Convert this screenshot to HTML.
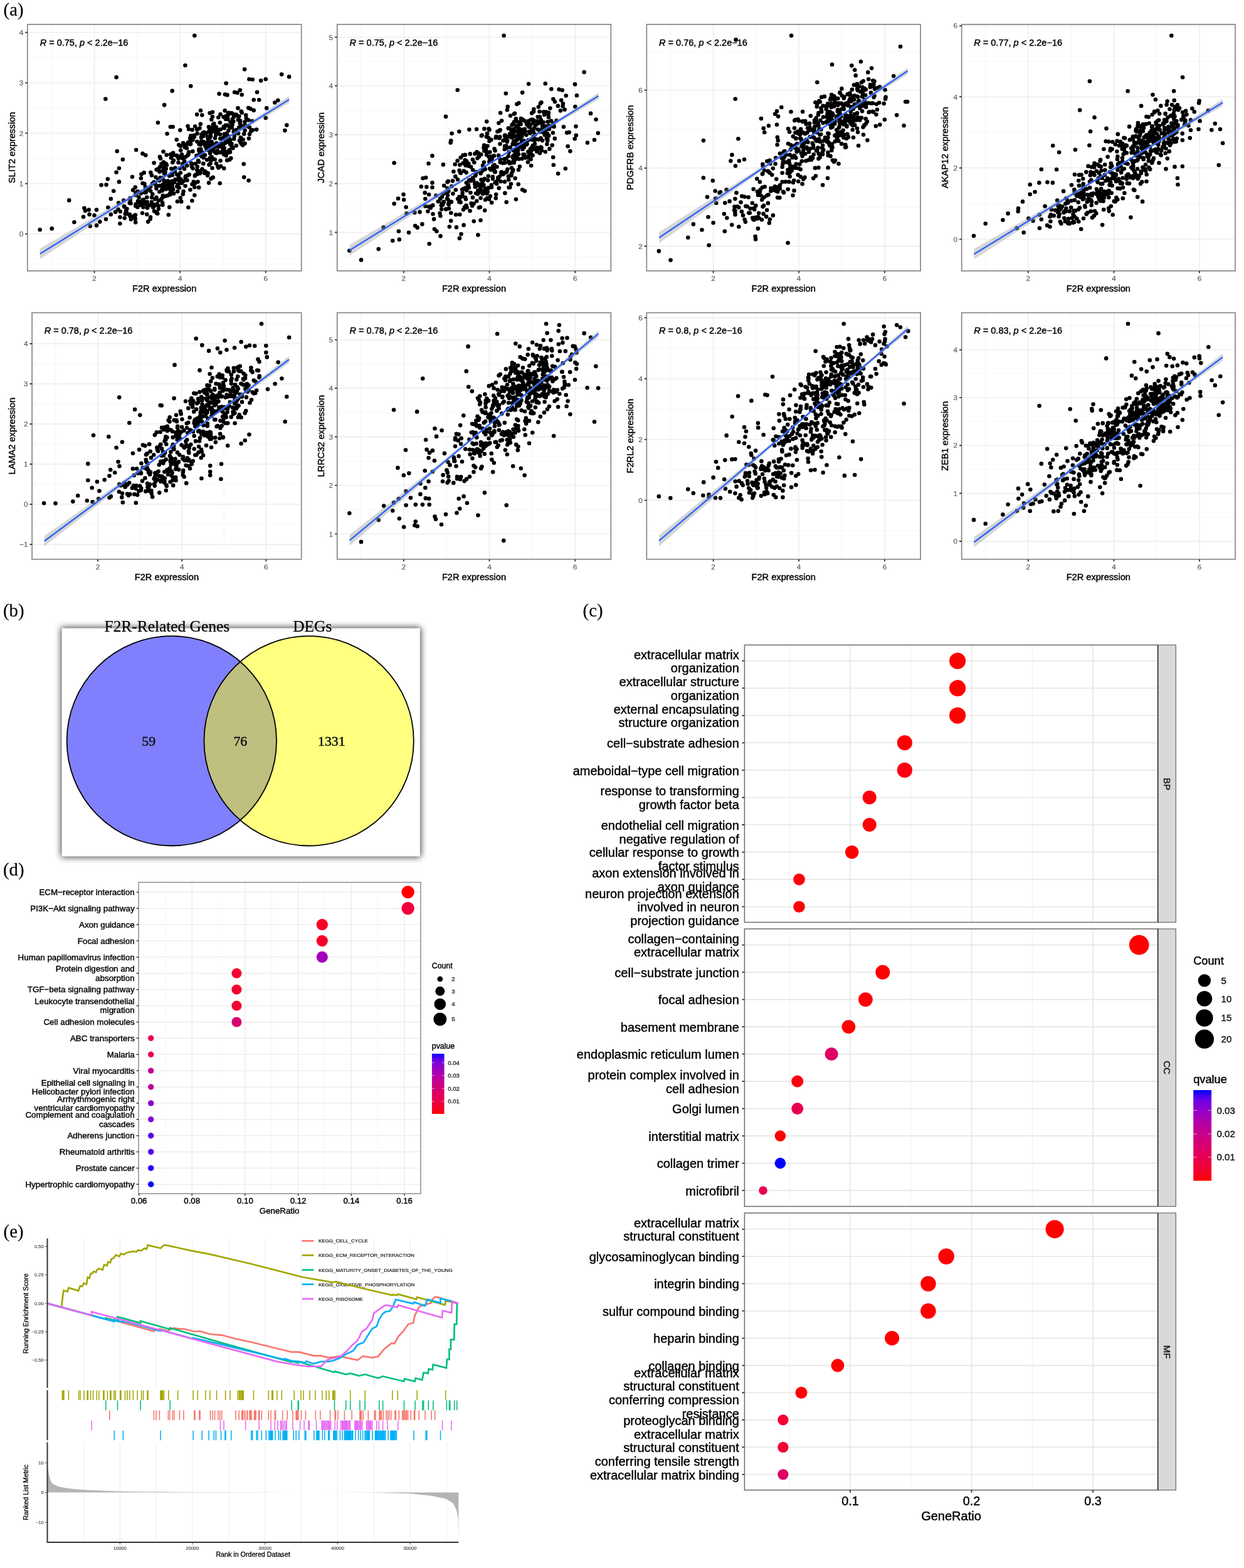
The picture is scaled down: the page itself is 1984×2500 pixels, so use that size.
<!DOCTYPE html>
<html lang="en"><head><meta charset="utf-8"><title>Figure</title>
<style>html,body{margin:0;padding:0;background:#fff}body{width:1984px;height:2500px}svg{display:block}.s{font-family:'Liberation Sans', sans-serif}.r{font-family:'Liberation Serif', serif}</style></head><body>
<svg width="1984" height="2500" viewBox="0 0 1984 2500">
<defs><filter id="sh" x="-10%" y="-10%" width="120%" height="120%"><feGaussianBlur stdDeviation="5.4"/></filter><clipPath id="vc"><circle cx="273.8" cy="1181.3" r="167.2"/></clipPath><linearGradient id="gk" x1="0" y1="0" x2="0" y2="1"><stop offset="0.000" stop-color="#0000ff"/><stop offset="0.100" stop-color="#6800e7"/><stop offset="0.200" stop-color="#8d00ce"/><stop offset="0.300" stop-color="#a600b7"/><stop offset="0.400" stop-color="#ba009f"/><stop offset="0.500" stop-color="#ca0088"/><stop offset="0.600" stop-color="#d70072"/><stop offset="0.700" stop-color="#e3005b"/><stop offset="0.800" stop-color="#ed0044"/><stop offset="0.900" stop-color="#f6002a"/><stop offset="1.000" stop-color="#ff0000"/></linearGradient><linearGradient id="gq" x1="0" y1="0" x2="0" y2="1"><stop offset="0.000" stop-color="#0000ff"/><stop offset="0.100" stop-color="#6800e7"/><stop offset="0.200" stop-color="#8d00ce"/><stop offset="0.300" stop-color="#a600b7"/><stop offset="0.400" stop-color="#ba009f"/><stop offset="0.500" stop-color="#ca0088"/><stop offset="0.600" stop-color="#d70072"/><stop offset="0.700" stop-color="#e3005b"/><stop offset="0.800" stop-color="#ed0044"/><stop offset="0.900" stop-color="#f6002a"/><stop offset="1.000" stop-color="#ff0000"/></linearGradient></defs>
<rect width="1984" height="2500" fill="#fff"/>
<g id="a"><path d="M82.1 38.9V431.9M218.9 38.9V431.9M355.3 38.9V431.9" stroke="#f3f3f3" stroke-width="0.8" fill="none"/>
<path d="M43.8 91.9H480.7M43.8 172.2H480.7M43.8 252.6H480.7M43.8 332.7H480.7M43.8 413.1H480.7" stroke="#f3f3f3" stroke-width="0.8" fill="none"/>
<path d="M150.5 38.9V431.9M287.3 38.9V431.9M423.7 38.9V431.9" stroke="#ebebeb" stroke-width="1.3" fill="none"/>
<path d="M43.8 372.9H480.7M43.8 292.8H480.7M43.8 212.4H480.7M43.8 132.1H480.7M43.8 51.7H480.7" stroke="#ebebeb" stroke-width="1.3" fill="none"/>
<path d="M310.3 56.7h0M295.4 104.3h0M185.6 123.3h0M304.2 137.3h0M274.7 144.9h0M168.3 157.8h0M262.1 167.4h0M251.9 195.5h0M390.1 110.5h0M397.4 126.2h0M402.7 126.8h0M416.1 128.6h0M423.7 126.2h0M449.2 118.6h0M461.1 122.4h0M360.6 132.7h0M349.5 149.6h0M358.9 150.5h0M362.4 151.4h0M374.1 147h0M378.4 147.9h0M382.8 143.8h0M385.7 151.1h0M410 147h0M404.7 159.3h0M413.2 159.3h0M438.3 163.6h0M443.3 160.1h0M425.2 172.4h0M423.7 187.9h0M409.1 206.6h0M398 213.9h0M457.3 199.6h0M454.4 208.1h0M388.7 261.5h0M389.2 282.6h0M396.6 287.8h0M350.7 292.2h0M333.1 291.6h0M300.4 330.8h0M310.3 311.2h0M306.3 320h0M268.8 342.5h0M251.3 340.4h0M236.1 353.6h0M239.6 349.2h0M216.2 354.5h0M208.9 349.8h0M198.7 347.7h0M191.4 356.5h0M191.4 346.3h0M168.9 349.5h0M159.3 353.6h0M154 359.4h0M143.8 360.6h0M118.4 354.2h0M82.7 364.4h0M63.7 366.2h0M110.2 319.4h0M134.4 331.7h0M135.9 336.1h0M141.7 334.6h0M133 345.7h0M142.6 341.9h0M150.5 343.4h0M154 334.6h0M172.4 330.8h0M176.8 341.9h0M184.1 338.1h0M181.2 304.5h0M176.8 317.1h0M161.6 295.1h0M169.5 294.6h0M171.8 285.5h0M189.9 289.9h0M185.6 274.7h0M189.9 268.3h0M195.8 254.2h0M186.7 241.1h0M217.1 239h0M227.4 244.9h0M232.3 247.5h0M211 282h0M266.5 213.3h0M271.8 202.2h0M275.6 202.2h0M287.3 207.5h0M299.5 201.1h0M301 206h0M314.1 182.6h0M320 176.2h0M322.3 183.5h0M334.6 180.3h0M339 178.8h0M233.4 303.9h0M214.1 345.4h0M231.8 298.2h0M259.4 294.7h0M304.2 216.5h0M301.7 278.3h0M307.3 241.4h0M391.7 200.4h0M396.2 172.1h0M227.5 292.3h0M345.1 228.4h0M380.1 212.7h0M318.3 273h0M287.8 275.5h0M325.5 210.9h0M241.9 279.4h0M249.6 270.5h0M310.3 292.6h0M404.7 175.9h0M254.9 250.1h0M326.7 273h0M359.7 227.3h0M246 336.6h0M249.9 338.5h0M338.8 186.1h0M305.1 260.4h0M213.6 344.3h0M240 346.2h0M279.6 268.9h0M317.1 298.9h0M296.2 281h0M281.7 222.7h0M314.3 271.1h0M337.2 239.4h0M366.1 254.6h0M238.7 327.3h0M286.8 249.5h0M273.2 269.1h0M278 290.6h0M310.8 280.4h0M311.1 201.5h0M335.8 213.2h0M275 299.8h0M224.9 284.2h0M335.5 233h0M314.3 277.7h0M282.9 321.2h0M360.2 227.6h0M273.3 276.8h0M255.5 283.2h0M249.5 314.7h0M207.6 344.7h0M339.8 198.7h0M338.3 251.8h0M319.8 197.8h0M335.6 260.4h0M376.6 182.7h0M343 220.3h0M212.1 303.1h0M367.3 230.4h0M322.1 242.6h0M276.9 255.7h0M314.3 225.8h0M303.4 302.6h0M284.6 252.6h0M314.7 265.9h0M332.9 202.4h0M310.3 298.5h0M357.2 268.4h0M305.9 265.7h0M373.8 216.8h0M283.5 294.3h0M371.5 236.2h0M340.7 208.3h0M225.4 277.7h0M219.3 305.6h0M343.4 232.4h0M313.4 248.2h0M381.3 185.6h0M291.1 264.3h0M276.1 243.8h0M361.3 212.9h0M275 279.3h0M360.6 185h0M256 252.7h0M369.3 180.8h0M264.9 261.2h0M351.4 182.2h0M303.1 225.3h0M207.7 315.7h0M259.3 326.8h0M230.4 293.1h0M279.4 267.8h0M358.7 176.4h0M252.9 333.1h0M216.2 308.4h0M323.8 211.8h0M295.9 250.2h0M286.9 268.2h0M331.8 276.2h0M219.4 330.2h0M363.4 190h0M356.2 219.2h0M265.9 263.3h0M337 255.3h0M229.7 275.4h0M344.8 202.8h0M260.9 267.4h0M268 300.1h0M369.5 180.2h0M249.9 339.7h0M291.8 309.6h0M266.6 291.1h0M337.3 190.5h0M378.2 184.4h0M342.7 254.3h0M311.6 291.4h0M270.2 301.2h0M224.4 327h0M321 219.1h0M215.7 348.9h0M332.7 239.6h0M402.4 193h0M216.6 311.2h0M303.6 229.9h0M316.1 256h0M374.6 208.1h0M336.5 284.9h0M343.5 233.8h0M235 331.4h0M240.3 275h0M385.7 179.8h0M352.1 265.1h0M351.5 256.2h0M294 269.2h0M362.1 255.6h0M285.8 299.3h0M216.7 325.5h0M285.3 231h0M303.7 225.9h0M400.3 209.1h0M260.5 241.7h0M271.7 292.4h0M360 190h0M240.1 297.8h0M306.6 207h0M213.8 346.5h0M348.4 267.5h0M318.4 204.4h0M265.7 247h0M334.4 219.7h0M399.7 173.6h0M303.1 220.6h0M344.1 210h0M270.3 330.4h0M279.6 286h0M292.1 228h0M377.2 207h0M397.9 203h0M368.3 252.2h0M302.2 229.6h0M335 251.7h0M272.1 246h0M245.6 259.7h0M206.4 342.6h0M402.8 207.4h0M254.6 296.1h0M281.8 247.9h0M220.3 322.2h0M207.7 319.8h0M272.8 307.1h0M364.8 179.7h0M321.1 225.1h0M200.9 336.1h0M347.3 265.4h0M229.1 320.6h0M385.6 200.8h0M201.6 338.4h0M307.5 223.1h0M228.9 324h0M390.6 208h0M250.5 325.3h0M379.5 172.4h0M254.3 305.7h0M274.8 292.1h0M363.7 181.1h0M292.6 305h0M262.9 277h0M390.5 228.7h0M396.3 191.5h0M322.4 269.6h0M287.7 315.6h0M248.3 282.6h0M291 252.4h0M267.7 288.5h0M333.5 262.7h0M243.5 325.6h0M259.4 314.6h0M360.7 248.3h0M263.5 274.4h0M220 320.5h0M215.7 298.6h0M339.7 282.9h0M314.2 206.4h0M289.2 321.4h0M347.1 209.8h0M351.3 221h0M387.3 231.5h0M283.2 249.7h0M354.5 235.1h0M234.2 341.7h0M385 229.4h0M262.2 261.3h0M311.6 261h0M363.1 186.8h0M396.9 220.8h0M287.9 233h0M257.4 261.2h0M349 233.7h0M338.2 236.2h0M226.8 319.4h0M367 242.4h0M324.3 260.9h0M364.5 208h0M369.4 229.4h0M321.4 242.6h0M297.8 236.3h0M275.2 288.7h0M273.4 298.1h0M358 218.4h0M323 214.9h0M284.8 280.9h0M273.1 305.8h0M330.1 254.8h0M354.4 221.7h0M308.3 218.4h0M328.5 212.6h0M276 302h0M258.7 296.2h0M309.6 215.7h0M329.6 227.6h0M299.8 227.3h0M271.3 308.3h0M337.9 204.6h0M296.4 231h0M272.4 306.7h0M364 226.3h0M274.2 289.3h0M305.7 262.1h0M260.4 271.9h0M333.1 229.2h0M295.5 296.5h0M254.4 286h0M282.3 297.6h0M252.2 269.3h0M294.5 232.3h0M372.7 209.7h0M288.2 239.7h0M288.1 285.6h0M317.2 258.2h0M346.9 240h0M328.3 228.2h0M260.5 294.1h0M243.1 292.7h0M251.4 270.8h0M367 226h0M294.7 234.8h0M318.2 244.5h0M284.6 278.9h0M282.3 278.3h0M359.8 226.2h0M263.8 312.7h0M261.9 276.8h0M311.8 278.7h0M254.3 287.9h0M290.1 249.2h0M343.2 229.9h0M340.8 235.4h0M300.5 246.1h0M331.7 221.4h0M365.4 221h0M359.8 199.8h0M319 241.3h0M269 292.6h0M331 279.8h0M344.3 215.2h0M258.9 304.1h0M314.5 213h0M355.4 239.7h0M264.6 301.5h0M337.9 238.3h0M351.2 243.1h0M275.2 259h0M318.8 276.5h0M273.6 300.7h0M249.9 297.2h0M362.1 199.9h0M329.7 275.2h0M320.2 237.8h0M255.4 273.2h0M315.3 276h0M253.2 287.7h0M263.6 268.9h0M345 260.7h0M337.9 229.5h0M337.9 204.2h0M321.2 249.1h0M283.6 286.7h0M357.7 236.1h0M356.4 230.8h0M294.2 256.9h0M264.8 269h0M271.5 290.1h0M299.9 279.6h0M321.4 214.6h0M324.4 251.2h0M254.4 273.8h0M338.5 268h0M319.5 275h0M283.2 305.2h0M357.7 213.7h0M270.1 280.5h0M347.2 207h0M289.9 291.9h0M317.3 239.8h0M326.2 247.7h0M262.3 297.2h0M308.7 289.7h0M365.7 226.6h0M284.5 259.3h0M307.6 268.5h0M272.8 251.6h0M337.6 250.2h0M290 246.4h0M344.7 243.9h0M252.4 287.2h0M356.8 201.7h0M259.8 311.7h0M306.5 293.8h0M286.2 288.7h0M343.7 202.2h0M295.6 283.1h0M292.6 288.8h0M286.3 291.9h0M278.8 273.4h0M248.8 295.7h0M247.4 291.5h0M300.7 244.9h0M315.5 289.7h0M298.3 264h0M259.3 283.8h0M255.3 266h0M367.3 223h0M304.1 229.4h0M326.9 247.3h0M341 208.1h0M291.2 261.2h0M299.4 247.6h0M326.2 276h0M301.1 242.5h0M297.2 235h0M298.4 287.4h0M260.8 258.5h0M261.5 287.9h0M277 247.3h0M267.6 311.6h0M262.9 260.2h0M309.9 218.3h0M339.8 205.7h0M253 269.7h0M218.9 305.5h0M199.7 341.1h0M257.3 317.4h0M274.6 296.1h0M253.1 319.7h0M216.3 328.4h0M258.3 302.1h0M231.6 322h0M221.6 314.6h0M259.1 323.4h0M222.8 322.1h0M260.9 293.5h0M242 314.8h0M241.8 322.1h0M224.8 308.3h0M246.7 328.1h0M233.6 325.8h0M231 306.9h0M206.7 323.8h0M191.8 337.3h0M249.4 300.6h0M215.9 342.9h0M266.2 296.3h0M246 326.5h0M243.3 309.6h0M206.9 341.9h0M198.5 329.8h0M258.6 303.7h0M244.1 330.4h0M229 318.2h0M237 300.1h0M197.2 319.5h0M247.3 317.5h0M237.3 327.6h0M188.4 333.7h0M271.7 297.7h0M208.6 324.3h0M232.7 306.8h0M234.3 314.6h0M245.7 290.4h0M234.6 322.1h0M271.4 310.3h0M202.4 333h0M189.1 323.5h0M227 339.7h0M200.8 341.1h0M277.1 308.6h0M252.9 328.1h0M197.8 328.9h0M240.1 304.5h0M228.5 330.4h0M231.6 322.8h0M220.7 305.5h0M217.7 309.5h0M223.3 325.1h0M379.8 191.1h0M324.2 217.1h0M356.6 220.6h0M376.8 232.3h0M335 244.6h0M361.6 212.7h0M383.7 227h0M365.6 239.3h0M333.1 232.7h0M356.6 235.8h0M335.8 214.9h0M373.2 221.5h0M357.5 246.2h0M317.5 238h0M357 246.2h0M395.8 201.8h0M373.6 210.5h0M334.6 206.1h0M350 233.1h0M319.9 230.7h0M365.4 221.2h0M373.8 212.9h0M384.6 203.3h0M334.5 254.1h0M330.9 218.1h0M356.5 186.5h0M357.3 238.1h0M382.8 196.4h0M339 209.7h0M348.2 187.3h0M324.7 226.1h0M357.9 221h0M336.1 217.3h0M353.8 229h0M350.8 195.5h0M320.9 226.6h0M351.8 206.3h0M318.9 240.2h0M336 235.9h0M347.6 211.1h0M319.5 246.9h0M359.8 186.1h0M370.5 199.1h0M382 224.1h0M364 222.2h0M334.8 208.9h0M372.3 193.7h0M339.1 238.7h0M369.7 203.4h0M365.1 201.6h0M327.3 233h0M370.1 234.7h0M392.2 183.6h0M320.6 228.7h0M357.7 204.2h0M367.5 195h0M337.5 226.1h0M387.6 222.5h0M388.9 201.8h0M364 217.2h0M384.8 177.6h0M362.2 242.3h0M339.7 200.6h0M332.3 226.1h0M392.7 188.6h0M343.6 232.7h0M352.3 231.1h0M383.9 219.2h0M369.7 233.9h0M357.1 242.8h0M390.4 194.5h0M389.2 213.6h0M317.5 230.1h0M343.6 243.5h0M332.8 210.1h0M341.3 197h0M383.2 192.6h0M364.6 181.9h0M341.4 241.3h0M372.7 186.4h0M329.3 237.6h0M370.7 190.2h0M381.4 202.7h0M373.7 182.5h0M322.5 228.8h0M363.1 243.7h0M390.1 200.2h0M347.9 229.8h0M345.5 244.3h0M350.9 214.2h0" stroke="#000" stroke-width="6.6" stroke-linecap="round" fill="none"/>
<polygon points="63.7,396.3 80.3,386.6 96.8,376.9 113.4,367.2 129.9,357.5 146.5,347.8 163.1,338.1 179.6,328.4 196.2,318.7 212.7,308.9 229.3,299.2 245.9,289.4 262.4,279.6 279,269.7 295.5,259.7 312.1,249.4 328.7,239 345.2,228.5 361.8,217.8 378.3,207.1 394.9,196.3 411.5,185.6 428,174.8 444.6,164 461.1,153.2 461.1,164.1 444.6,173.8 428,183.6 411.5,193.3 394.9,203 378.3,212.8 361.8,222.6 345.2,232.4 328.7,242.4 312.1,252.5 295.5,262.8 279,273.2 262.4,283.8 245.9,294.5 229.3,305.2 212.7,316 196.2,326.8 179.6,337.5 163.1,348.3 146.5,359.1 129.9,369.9 113.4,380.7 96.8,391.5 80.3,402.3 63.7,413.1" fill="#999" fill-opacity="0.4"/>
<line x1="63.7" y1="404.7" x2="461.1" y2="158.7" stroke="#2f63f7" stroke-width="2.4" stroke-linecap="butt"/>
<rect x="43.8" y="38.9" width="436.9" height="393" fill="none" stroke="#868686" stroke-width="1.7"/>
<path d="M150.5 431.9v3.6M287.3 431.9v3.6M423.7 431.9v3.6M43.8 372.9h-3.6M43.8 292.8h-3.6M43.8 212.4h-3.6M43.8 132.1h-3.6M43.8 51.7h-3.6" stroke="#3a3a3a" stroke-width="1.9" fill="none"/>
<text class="s" x="150.5" y="447.9" font-size="11.7" text-anchor="middle" fill="#555" stroke="#555" stroke-width="0.12">2</text>
<text class="s" x="287.3" y="447.9" font-size="11.7" text-anchor="middle" fill="#555" stroke="#555" stroke-width="0.12">4</text>
<text class="s" x="423.7" y="447.9" font-size="11.7" text-anchor="middle" fill="#555" stroke="#555" stroke-width="0.12">6</text>
<text class="s" x="37.2" y="377.1" font-size="11.7" text-anchor="end" fill="#555" stroke="#555" stroke-width="0.12">0</text>
<text class="s" x="37.2" y="297" font-size="11.7" text-anchor="end" fill="#555" stroke="#555" stroke-width="0.12">1</text>
<text class="s" x="37.2" y="216.6" font-size="11.7" text-anchor="end" fill="#555" stroke="#555" stroke-width="0.12">2</text>
<text class="s" x="37.2" y="136.3" font-size="11.7" text-anchor="end" fill="#555" stroke="#555" stroke-width="0.12">3</text>
<text class="s" x="37.2" y="55.9" font-size="11.7" text-anchor="end" fill="#555" stroke="#555" stroke-width="0.12">4</text>
<text class="s" x="262.2" y="464.9" font-size="14.6" text-anchor="middle" stroke="#000" stroke-width="0.42">F2R expression</text>
<text class="s" x="23.7" y="235.4" font-size="14.6" text-anchor="middle" stroke="#000" stroke-width="0.42" transform="rotate(-90 23.7 235.4)">SLIT2 expression</text>
<text class="s" x="63.7" y="72.6" font-size="14.5" stroke="#000" stroke-width="0.42"><tspan font-style="italic">R</tspan> = 0.75, <tspan font-style="italic">p</tspan> &lt; 2.2e−16</text>
<path d="M575.4 38.9V431.9M712.1 38.9V431.9M848.9 38.9V431.9" stroke="#f3f3f3" stroke-width="0.8" fill="none"/>
<path d="M537.7 98.1H974.3M537.7 176.1H974.3M537.7 254.1H974.3M537.7 331.8H974.3M537.7 409.2H974.3" stroke="#f3f3f3" stroke-width="0.8" fill="none"/>
<path d="M643.8 38.9V431.9M780.5 38.9V431.9M917.3 38.9V431.9" stroke="#ebebeb" stroke-width="1.3" fill="none"/>
<path d="M537.7 370.5H974.3M537.7 292.8H974.3M537.7 214.8H974.3M537.7 136.8H974.3M537.7 59.3H974.3" stroke="#ebebeb" stroke-width="1.3" fill="none"/>
<path d="M803.6 56.7h0M931.6 115.1h0M729.7 143.5h0M843.1 133.8h0M869.7 133.3h0M917 134.4h0M919.9 152.3h0M806.8 149h0M833.1 147.6h0M879.3 142h0M891.6 142.6h0M896.8 143.8h0M902.7 152.5h0M895.1 159.8h0M917.3 170.1h0M942.1 180.9h0M950.6 190.5h0M953.8 212.2h0M948 223h0M936.9 227.6h0M918.5 201.6h0M918.8 215.7h0M916.7 221.2h0M905.6 233.2h0M909.4 241.1h0M904.1 211.6h0M907.7 211h0M898.9 202.2h0M901.8 268.8h0M890.1 276.7h0M882.8 263h0M882.2 250.7h0M711 185.9h0M628.6 259.8h0M689.4 248.4h0M683.5 260.7h0M706.9 262.4h0M720.6 212.7h0M732.3 209.8h0M719.2 224.4h0M718.6 227.4h0M748.4 206.6h0M760.1 206h0M772.4 205.4h0M776.2 193.7h0M798.1 180h0M809.8 170.1h0M808.9 175.3h0M827.3 164.2h0M824.4 166h0M836.9 304.5h0M833.1 302.5h0M826.7 293.7h0M822.9 317.7h0M807.7 322.3h0M813.3 298.7h0M773.2 335.5h0M766.5 351.3h0M755.7 352.7h0M762.4 374.6h0M739.6 358.9h0M735.5 373.2h0M732.9 379.9h0M727.9 362.4h0M716.8 361.5h0M719.2 352.1h0M702.5 376.4h0M684.7 388.7h0M692.9 365.3h0M696.4 368.8h0M673.3 357.4h0M662.2 360h0M665.7 362.9h0M652 370.8h0M635.9 368.8h0M636.8 381.9h0M626.2 383.7h0M603.7 397.1h0M576 414.4h0M557.3 399.8h0M611.6 362.4h0M628.6 324.7h0M635 316.5h0M643.5 310.1h0M644.1 318.5h0M647.6 330.2h0M648.5 340.4h0M661.3 339h0M669.5 338.1h0M678.3 328.8h0M671.8 297.5h0M680.3 298.1h0M689.4 291.4h0M689.4 298.7h0M674.5 284.3h0M679.1 283.2h0M677.7 307.4h0M684.1 310.3h0M678.3 317.1h0M747.3 260.8h0M872.4 230h0M797.7 258.8h0M805.4 215.5h0M722 288.4h0M743.8 260h0M772.8 285.1h0M827.5 213.2h0M805.1 233.1h0M784.1 249.5h0M766.8 302.6h0M893.9 176.4h0M818.9 227.2h0M872.9 213.1h0M882.4 158.1h0M778.8 280.8h0M799.9 274.3h0M863.7 240.1h0M887.5 192.4h0M806.2 221.8h0M759.2 308.2h0M732.4 318.9h0M865.1 202.5h0M877.4 172.6h0M725.7 262h0M779.5 299.6h0M741.6 255.2h0M816.4 259.5h0M743 299.3h0M715.6 326.3h0M804.7 238h0M737.1 302.3h0M768.4 293.4h0M790.7 219.8h0M769.8 272.1h0M776 247.1h0M805.5 259.5h0M751.1 266h0M783 270.7h0M808.2 274.1h0M861.1 186.7h0M860.7 186.2h0M831.5 212h0M842.3 251.4h0M858.8 170.6h0M804.2 253.6h0M780.1 317.6h0M850.7 209.1h0M783.9 257.3h0M897.9 165.3h0M873.6 194.2h0M797.3 218.3h0M723.4 273.6h0M754.2 286.9h0M739.8 272.6h0M843.7 202.5h0M876.4 237.4h0M826.3 203.6h0M844.3 201.1h0M757.4 245.2h0M847.1 264h0M818.2 270.9h0M749.8 245.4h0M821.2 217.8h0M826.9 270.7h0M862.9 191.2h0M734.2 275.4h0M885 162.3h0M743.3 330.1h0M848.1 180.4h0M713.4 300.1h0M778 299.8h0M715.3 304.8h0M795.2 247.9h0M800.1 192.5h0M863.4 163.2h0M796.6 208.6h0M862.5 220.3h0M798.5 289.3h0M738.6 247.5h0M734.8 276h0M766.7 276.4h0M755.6 324.8h0M771.4 295h0M763.8 249.7h0M839.7 230.4h0M767.3 246.3h0M733.3 262.7h0M763.9 331h0M786.3 264.9h0M849.6 247.7h0M781.9 312.8h0M794.4 285.2h0M897.6 169.2h0M810.8 281.1h0M769 291.4h0M834.6 206.6h0M758.8 244.4h0M767.4 286.5h0M822.8 189.4h0M759.8 295.6h0M820.1 181.6h0M754.1 285.1h0M753.1 328.2h0M738.6 260.1h0M702 316.8h0M777.2 315.7h0M791.2 310.1h0M776.3 308.4h0M851.2 234.3h0M754.1 283.8h0M853.5 214.2h0M811.6 299h0M708.2 296h0M830 196.4h0M790.7 316.1h0M771.9 258.8h0M714.9 289.1h0M744.6 331h0M821.6 284.3h0M771.8 305.4h0M766 305.9h0M869.8 242h0M815.9 267.7h0M703.8 327.5h0M807.4 232.6h0M814.1 184.5h0M777.5 232.8h0M850.8 234.8h0M821 180.8h0M824.5 209.8h0M801.8 260h0M810.9 248.9h0M781.3 242.6h0M838.2 251.5h0M799.6 278.3h0M713.5 290.3h0M780.7 249.8h0M743 317.4h0M742.6 263.8h0M715.2 324.7h0M732.4 322.1h0M760.4 320.5h0M738.4 301.8h0M814.9 293.3h0M711.4 333.3h0M741.9 246.9h0M734.7 251.2h0M761.9 309.3h0M779 219.5h0M884.8 220.9h0M826.3 239.1h0M832 230.4h0M805.5 253.2h0M779.6 249.8h0M871 178.5h0M768.7 215.5h0M900.6 174.7h0M836.7 205.7h0M841.9 258.5h0M741 330.2h0M795.7 299.9h0M851.3 223.6h0M867 178.2h0M779.5 205.4h0M765.9 330.2h0M841 199.4h0M744.1 256.9h0M807.5 252.7h0M772.1 231.5h0M777 212.9h0M773.9 300.8h0M889.9 168.9h0M846.6 253.9h0M722.4 308.8h0M828.9 265.6h0M743.8 275.1h0M766.3 275.8h0M767.8 216.5h0M768.2 296.1h0M789.6 240.3h0M861 244.3h0M730 286.2h0M766.6 315.8h0M783.8 295h0M784.2 323.1h0M741.9 314.7h0M778 287.4h0M796.5 281.7h0M784 298.2h0M805.4 307.9h0M756.3 259h0M739.9 300.8h0M883.6 201.9h0M881.9 211.8h0M805.1 217.1h0M729.6 256.3h0M770.5 288.2h0M815.8 208.9h0M832.7 253.1h0M732.6 271.7h0M732.3 318.3h0M719.3 339.5h0M749.6 336.2h0M777.8 306.1h0M775.8 218h0M753.3 287.9h0M719.9 321.9h0M726.3 281.4h0M774 318.5h0M858 206.5h0M795.4 196.3h0M857.3 193.2h0M880.7 231.6h0M739 334.2h0M817.5 273.2h0M868 205.7h0M823.4 241.2h0M846.6 241.4h0M809.2 224.1h0M744.3 303.5h0M860.5 178.1h0M819.8 259.3h0M861.8 165h0M705.2 324.2h0M842.7 251.2h0M780.5 207h0M797.6 207.2h0M773.8 269.8h0M865.1 224.1h0M842.5 250.1h0M816.6 199.4h0M769.8 294h0M797.7 254.3h0M785.8 281.7h0M817.7 229.9h0M759.6 274.1h0M836.5 192.6h0M758.7 278.4h0M784 298.5h0M866 201.1h0M750 288.5h0M852.3 203.7h0M789.1 274.2h0M783.5 222.7h0M796.3 220.3h0M825.2 200.3h0M789.6 291.1h0M840.6 229.2h0M828.8 231.2h0M862.4 234.6h0M851.3 235.3h0M743.8 291.6h0M808.9 225.9h0M858.2 194.5h0M789.8 274.3h0M815.8 277.1h0M775.2 238.6h0M810.7 204.6h0M815.4 279.9h0M767.3 298h0M832 226.4h0M791.6 289.5h0M788.5 263.1h0M802.7 277.8h0M758.2 279.9h0M848.3 206.6h0M811.2 286.6h0M804.9 289.7h0M868.8 208.3h0M831.3 213h0M774.1 236.4h0M833.5 237.9h0M869.6 210.1h0M787.9 271.3h0M763.1 244.4h0M793.4 209.7h0M831.4 207.2h0M842.6 223.3h0M833.2 190.2h0M760.5 291.7h0M822.3 254.1h0M822.7 239.1h0M829 205.9h0M746.7 294.7h0M762.2 293.3h0M771.4 235.6h0M820 194.3h0M754 270.8h0M783.9 269.8h0M842.4 241.8h0M789.3 273.1h0M781.3 254h0M839.4 215.2h0M755 287.4h0M785.8 284.9h0M829.9 220.7h0M753.9 254.6h0M851.5 237.8h0M843.8 244.8h0M770 263.9h0M818.9 255.5h0M757.4 293.5h0M856.1 241.6h0M820.1 228.8h0M772.3 240.5h0M847.4 239.7h0M747.8 299.3h0M859.4 236.9h0M772.5 268.4h0M815.9 219.2h0M839.1 229.5h0M812.7 260.4h0M832 190.8h0M771.3 295.1h0M808 236.3h0M821.1 250h0M819.7 210h0M833.9 230.2h0M864.5 197.7h0M854.9 236.2h0M827.8 253.5h0M833.6 207.1h0M747.9 287.8h0M820.7 246.7h0M802.5 224.2h0M866.6 200.9h0M836.3 213h0M831.2 233.7h0M821.9 216.5h0M788.5 237.4h0M788 248.4h0M780.3 258h0M829.1 197.2h0M844.1 210.1h0M837.7 209.1h0M863.3 195.9h0M811.3 257.9h0M830.5 198.2h0M797.5 229.5h0M848.1 210.6h0M824.1 231.5h0M827.6 218.1h0M823.3 200.9h0M776.1 302.4h0M761.4 252.2h0M859 222.5h0M856.6 240.8h0M776.1 242.8h0M811.5 204.3h0M809.4 270h0M861.2 210.3h0M804.8 289.8h0M805.9 275.1h0M847.8 246.7h0M830.1 232.8h0M784.7 253.1h0M866.7 195.1h0M794.3 283.3h0M799.1 275.5h0M792.5 266h0M839.7 226.4h0M822.2 224.6h0M854.5 199.6h0M780.5 225h0M835.7 235.3h0M760.5 242.2h0M854.1 237.1h0M749.6 286.7h0M817.7 250.5h0M747.4 264.7h0M825.6 236.7h0M792.1 293h0M846 237.2h0M781.2 268.9h0M836.3 249.6h0M787.7 269.3h0M828.1 233.6h0M850.7 218.1h0M791.3 217.9h0M757.8 298h0M711.2 333.7h0M753.9 314.9h0M767.5 306.7h0M695.4 311.7h0M770.1 309.1h0M763.6 296.2h0M685.9 329.2h0M690.5 341.3h0M684 329.8h0M702.4 344.3h0M690.3 327.4h0M720.5 297h0M714 311.3h0M704.3 333.4h0M712.4 307.8h0M734.6 322.6h0M707.9 321.9h0M706.3 326.6h0M692.1 349.4h0M704.8 324h0M701.5 340.1h0M713 316.8h0M750.4 307.2h0M705 313.7h0M766.4 298h0M730.1 317.1h0M737.4 312.4h0M733.3 342h0M686.7 331.5h0M698.8 321.2h0M702.2 317.2h0M762.4 303.6h0M706.6 309.4h0M682.4 337h0M751.5 324.3h0M737.6 307.7h0M732.4 313.7h0M716 332.5h0M761.1 307.5h0M726.8 302.8h0M743.5 327.6h0M734.4 314.6h0M714.9 318.6h0M727.1 342.2h0M819.9 205.9h0M854.7 221.7h0M873.2 224.6h0M824.1 238.6h0M851 177.9h0M809.4 218h0M875.8 200.5h0M825.6 241.9h0M834.5 246.4h0M840 225.8h0M811.6 242.6h0M879 192.9h0M852.7 224.1h0M873.4 205.7h0M844.7 247h0M845.5 212.5h0M815.6 218.7h0M882.9 196.9h0M851.3 174h0M817.1 213.2h0M866.1 211.1h0M847.9 208.1h0M818.4 248.6h0M818.8 240h0M879.6 200.6h0M875.2 216.4h0M813.5 218h0M806.8 221h0M843.1 197.4h0M819.1 225.2h0M874.9 179.5h0M835.2 224.2h0M847.2 190.7h0M857.6 186.5h0M825 247.6h0M814.8 206.3h0M847.9 222.6h0M845 198.5h0M849.8 232h0M874.5 182.2h0M832.6 208.4h0M839.9 197.3h0M830.9 189h0M876 205.8h0M883.1 201.8h0M868.1 183h0M827.1 230.4h0M813 213.6h0M832.5 234.7h0M818.4 197.4h0M830.5 209.2h0M806.2 224h0M860.9 236.3h0M849.8 190.8h0M865.3 208.3h0M850 196.5h0M873.2 221.8h0M871.9 221.1h0M874.9 186.9h0M829.3 194.5h0M816.1 216.6h0M834.5 224.9h0M835 246.9h0M808.6 223.7h0M824.1 193.5h0M843.1 192.7h0M823.1 247.9h0M826.9 246h0M846.1 238.7h0M848.9 234.4h0M805.7 221.6h0M813.9 235.1h0M868.8 215.3h0M822.3 243.2h0M822.3 230.2h0M830.9 212.4h0M836.5 246.5h0M857.7 197h0M847.4 239.1h0M832.2 217.8h0M853 193h0M856.7 235.6h0M871.8 201.3h0M825 222.7h0M822.3 249.4h0M863.6 235.5h0M845.6 200h0M852.9 229.5h0M817.2 218.9h0M864.4 206.3h0" stroke="#000" stroke-width="6.6" stroke-linecap="round" fill="none"/>
<polygon points="557.6,390.3 574.1,380.6 590.6,370.9 607.2,361.2 623.7,351.5 640.2,341.8 656.8,332.1 673.3,322.4 689.8,312.7 706.4,303 722.9,293.3 739.5,283.5 756,273.7 772.5,263.9 789.1,253.9 805.6,243.8 822.1,233.5 838.7,223 855.2,212.3 871.7,201.7 888.3,190.9 904.8,180.2 921.3,169.4 937.9,158.7 954.4,147.9 954.4,158.4 937.9,168.1 921.3,177.8 904.8,187.5 888.3,197.2 871.7,207 855.2,216.8 838.7,226.7 822.1,236.6 805.6,246.8 789.1,257.1 772.5,267.7 756,278.3 739.5,289 722.9,299.7 706.4,310.5 689.8,321.2 673.3,332 656.8,342.8 640.2,353.5 623.7,364.3 607.2,375.1 590.6,385.9 574.1,396.7 557.6,407.5" fill="#999" fill-opacity="0.4"/>
<line x1="557.6" y1="398.9" x2="954.4" y2="153.1" stroke="#2f63f7" stroke-width="2.4" stroke-linecap="butt"/>
<rect x="537.7" y="38.9" width="436.6" height="393" fill="none" stroke="#868686" stroke-width="1.7"/>
<path d="M643.8 431.9v3.6M780.5 431.9v3.6M917.3 431.9v3.6M537.7 370.5h-3.6M537.7 292.8h-3.6M537.7 214.8h-3.6M537.7 136.8h-3.6M537.7 59.3h-3.6" stroke="#3a3a3a" stroke-width="1.9" fill="none"/>
<text class="s" x="643.8" y="447.9" font-size="11.7" text-anchor="middle" fill="#555" stroke="#555" stroke-width="0.12">2</text>
<text class="s" x="780.5" y="447.9" font-size="11.7" text-anchor="middle" fill="#555" stroke="#555" stroke-width="0.12">4</text>
<text class="s" x="917.3" y="447.9" font-size="11.7" text-anchor="middle" fill="#555" stroke="#555" stroke-width="0.12">6</text>
<text class="s" x="531.1" y="374.7" font-size="11.7" text-anchor="end" fill="#555" stroke="#555" stroke-width="0.12">1</text>
<text class="s" x="531.1" y="297" font-size="11.7" text-anchor="end" fill="#555" stroke="#555" stroke-width="0.12">2</text>
<text class="s" x="531.1" y="219" font-size="11.7" text-anchor="end" fill="#555" stroke="#555" stroke-width="0.12">3</text>
<text class="s" x="531.1" y="141" font-size="11.7" text-anchor="end" fill="#555" stroke="#555" stroke-width="0.12">4</text>
<text class="s" x="531.1" y="63.5" font-size="11.7" text-anchor="end" fill="#555" stroke="#555" stroke-width="0.12">5</text>
<text class="s" x="756" y="464.9" font-size="14.6" text-anchor="middle" stroke="#000" stroke-width="0.42">F2R expression</text>
<text class="s" x="517.5" y="235.4" font-size="14.6" text-anchor="middle" stroke="#000" stroke-width="0.42" transform="rotate(-90 517.5 235.4)">JCAD expression</text>
<text class="s" x="557.6" y="72.6" font-size="14.5" stroke="#000" stroke-width="0.42"><tspan font-style="italic">R</tspan> = 0.75, <tspan font-style="italic">p</tspan> &lt; 2.2e−16</text>
<path d="M1069.3 38.9V431.9M1205.8 38.9V431.9M1342.7 38.9V431.9" stroke="#f3f3f3" stroke-width="0.8" fill="none"/>
<path d="M1031.3 81.7H1468.1M1031.3 205.9H1468.1M1031.3 330.4H1468.1" stroke="#f3f3f3" stroke-width="0.8" fill="none"/>
<path d="M1137.6 38.9V431.9M1274.1 38.9V431.9M1410.9 38.9V431.9" stroke="#ebebeb" stroke-width="1.3" fill="none"/>
<path d="M1031.3 392.5H1468.1M1031.3 268H1468.1M1031.3 143.8H1468.1" stroke="#ebebeb" stroke-width="1.3" fill="none"/>
<path d="M1262.1 56.7h0M1173.6 63.4h0M1436 74.2h0M1372.9 98.2h0M1327 102.9h0M1358.3 104.6h0M1363.2 111.6h0M1364.7 120.4h0M1390.1 108.7h0M1384.3 115.4h0M1385.2 126.2h0M1392.2 128.6h0M1394.5 129.5h0M1425.2 121.3h0M1303.3 131.2h0M1172.7 157.8h0M1411.5 143.2h0M1412.6 154.9h0M1412 157.8h0M1409.7 165.1h0M1447.1 162.2h0M1444.2 162.2h0M1430.2 183.5h0M1410.9 190.8h0M1441.6 200.2h0M1403.3 198.7h0M1396.8 201.1h0M1398.9 174.8h0M1397.4 182.6h0M1383.4 223.6h0M1377 214.8h0M1369.1 232.3h0M1348.3 230.9h0M1337.5 261h0M1330.2 258h0M1320.6 267.4h0M1320 284h0M1312.1 295.1h0M1301 280.5h0M1297.2 284.3h0M1283.5 282.9h0M1273.2 289.3h0M1266.5 303.9h0M1264.5 311.5h0M1256.6 387.2h0M1243.1 301h0M1232.9 343.4h0M1227.9 349.8h0M1226.8 355.6h0M1222.1 345.4h0M1208.9 364.4h0M1204.6 377h0M1205.1 381.4h0M1178.3 361.5h0M1167.2 358.6h0M1155.8 368.8h0M1130.6 391h0M1119.5 366.5h0M1105.8 357.4h0M1097.3 378.7h0M1069.5 414.7h0M1050.8 400.4h0M1129.5 346h0M1137.6 355.3h0M1128 314.1h0M1141.1 316.2h0M1142.3 323.8h0M1140.6 304.5h0M1147.6 307.4h0M1149 306.3h0M1158.7 302.5h0M1136.8 288.1h0M1121.9 283.5h0M1121.9 224.1h0M1177.4 221.2h0M1167.4 246.9h0M1165.4 256.6h0M1178.8 256.6h0M1187 254.2h0M1173 264.5h0M1213.9 189.1h0M1217.7 204.6h0M1219.2 211h0M1225.9 200.5h0M1239 198.7h0M1236.1 181.8h0M1241.1 185.6h0M1239 177.4h0M1246.3 171h0M1261.5 178.3h0M1154.9 341h0M1159.3 347.5h0M1172.4 336.1h0M1171.5 329.6h0M1178.3 330.8h0M1189.4 328.8h0M1185 343.4h0M1187.6 350.1h0M1196.7 332.6h0M1195.8 339.6h0M1200.2 347.2h0M1207.5 348.6h0M1210.4 347.7h0M1156.3 323.5h0M1163.6 320.9h0M1172.4 317.1h0M1174.5 307.4h0M1183.2 312.7h0M1269.6 220.6h0M1330.2 153.3h0M1322.4 229.4h0M1321.6 227.1h0M1380.7 189.4h0M1342.2 229.4h0M1262.8 270.4h0M1216.4 261.7h0M1305.7 225h0M1321.1 186.3h0M1307.8 162.5h0M1272.6 190.2h0M1300.4 163.3h0M1320.2 178.7h0M1284.2 193h0M1247.6 290.1h0M1258.6 276.1h0M1356.2 195.8h0M1303.3 165.4h0M1239.8 218.7h0M1279.9 194h0M1277.7 222.1h0M1351.5 213.8h0M1258.4 256.1h0M1260.3 266.4h0M1258.4 289.9h0M1269.3 251.7h0M1323.3 232.1h0M1285.4 256.5h0M1281.6 225.4h0M1250 306.9h0M1368.7 139.1h0M1321.7 213.3h0M1326.2 151.1h0M1367 204.8h0M1331.6 164.4h0M1306.3 161.1h0M1319.4 182.7h0M1272.7 209.6h0M1337.4 184.8h0M1267 204.2h0M1260.9 238.4h0M1228.4 261.1h0M1277.2 205.9h0M1305.4 253.1h0M1276.3 220.6h0M1319.3 226.2h0M1281.5 226.3h0M1227.4 275.4h0M1288.3 237.8h0M1361.8 187.3h0M1309.2 214.3h0M1303.4 240.4h0M1253.1 246.2h0M1278.8 245h0M1317.6 174h0M1302.2 224.8h0M1367.4 153.7h0M1238.2 285.6h0M1305.4 267.2h0M1286.5 234.8h0M1267.3 192.2h0M1269.4 221h0M1327.9 255.5h0M1276.7 281.7h0M1307.7 246h0M1289.2 255.3h0M1292.3 237h0M1296.2 207.6h0M1380.2 151.8h0M1361 219.3h0M1232.8 268.5h0M1307.6 251.1h0M1361.6 198.7h0M1392 177.7h0M1349.3 234.3h0M1273.9 268.5h0M1320.4 212.6h0M1255.8 276h0M1393.4 134.9h0M1282.6 235.5h0M1304.9 196.9h0M1336.3 167.8h0M1371.2 191.6h0M1306.2 221.5h0M1381.1 197.1h0M1272.7 278.7h0M1304.9 183.3h0M1280.8 211.4h0M1367.1 142h0M1355 151.5h0M1236.6 261.2h0M1324.2 159h0M1392.9 178.6h0M1266.1 248.3h0M1211.9 290.1h0M1351.8 167.9h0M1358.4 188h0M1327.2 201h0M1385.7 179h0M1339.4 147.6h0M1310.2 154.9h0M1243.9 244.7h0M1257.1 205.2h0M1291.1 196.9h0M1302 240.3h0M1213.6 311.8h0M1299.1 191.7h0M1370 160.7h0M1308.3 226h0M1349 164.7h0M1319.9 179.5h0M1240.4 305.6h0M1280.1 178.1h0M1320.7 247.7h0M1345.8 156.8h0M1350.1 220.8h0M1247.6 275.7h0M1259.6 246.9h0M1306.5 206.3h0M1344.9 198.3h0M1300 267.9h0M1212.5 302.6h0M1320.2 165.4h0M1288.1 204.3h0M1243.9 295.2h0M1403 138.5h0M1383 193.8h0M1378.4 199.5h0M1281.3 239.5h0M1329.6 256.5h0M1237.2 251.7h0M1253.6 258.6h0M1295.8 228.4h0M1281.3 285.8h0M1352.1 185.1h0M1242.1 298.1h0M1268.5 191h0M1325.4 189.6h0M1314.9 153.9h0M1240.8 223.9h0M1239.6 230.7h0M1324.5 248.9h0M1287.3 211.4h0M1383.1 164.8h0M1227.6 255.7h0M1292.8 184.8h0M1256.7 301.7h0M1215.8 298.7h0M1252.7 289.7h0M1225.5 310.5h0M1279.6 293.2h0M1358.9 142.8h0M1264.9 291h0M1278.1 244.8h0M1310 176.4h0M1387.8 138.9h0M1259.7 281.4h0M1280.3 193.2h0M1318.5 223.4h0M1297.7 246.2h0M1353 168.2h0M1338.8 176.1h0M1335.4 223.6h0M1402.1 163.8h0M1334.2 207.2h0M1290.1 242.3h0M1340.4 210.7h0M1296.3 218.6h0M1313.3 224.6h0M1342.9 152.5h0M1259.1 210.2h0M1302.8 169.9h0M1378.5 200.1h0M1282.4 228.4h0M1231.2 278.7h0M1368.1 210.8h0M1242.1 298.4h0M1326.3 239.8h0M1250.4 251.4h0M1351.7 150.3h0M1276.7 211.2h0M1278.4 226.2h0M1318.7 186.2h0M1332 255.7h0M1348.2 234.9h0M1357.4 192h0M1368.1 186.9h0M1218.9 271.5h0M1268.5 211.6h0M1293.9 254.7h0M1363.1 166.4h0M1397.7 166h0M1303.6 200.3h0M1229.4 304.6h0M1360.2 199.9h0M1300.4 222.1h0M1344.6 207.8h0M1399.8 140.1h0M1285.7 197.7h0M1386.8 178.4h0M1215.9 277.4h0M1368 144.1h0M1216.7 264.8h0M1219.7 297.8h0M1312.6 168.8h0M1266.3 287.7h0M1303 211.3h0M1260.3 274.2h0M1248.9 257.2h0M1318 172.1h0M1224.9 272.9h0M1233.5 302.9h0M1281.2 193.6h0M1274 192.6h0M1207.2 285.1h0M1353 218.4h0M1266.1 265.6h0M1346.5 154.6h0M1297.3 235.6h0M1229.5 300h0M1376.5 202.7h0M1237.5 302.1h0M1381.1 166.3h0M1305.4 180.1h0M1216.3 276.9h0M1370.5 169.2h0M1235.4 298.2h0M1223.3 257.1h0M1333.6 164.2h0M1335.4 185h0M1323.9 198.5h0M1269.7 261.6h0M1247.6 266.3h0M1354.2 186.3h0M1257 229h0M1337.8 203.8h0M1337.9 176.5h0M1257.3 270.6h0M1309.4 206.4h0M1294.1 206.9h0M1345.8 173.9h0M1305.5 200.3h0M1361.1 172h0M1312.1 245.9h0M1352.2 166.3h0M1259.1 260.9h0M1326.5 235.5h0M1349.4 199.8h0M1362.9 182.1h0M1342.1 215.8h0M1356.6 184.1h0M1298 219h0M1334.2 166.1h0M1357.2 170.2h0M1285.6 222.7h0M1346.4 214.5h0M1317.9 224.2h0M1301.5 188.2h0M1253.2 247.4h0M1298.4 211.2h0M1343.5 213.1h0M1327.6 235h0M1279.6 248.9h0M1361.6 192.7h0M1327.1 229.5h0M1310.2 178.2h0M1290.1 207.8h0M1331.8 225.5h0M1274 240.2h0M1251.6 241h0M1307.6 214.8h0M1275.4 261.7h0M1284.3 245.3h0M1320.5 243.1h0M1318.1 194.3h0M1350.9 190.3h0M1366.1 191.5h0M1271.4 229.1h0M1336.3 167.3h0M1280.6 231.8h0M1256.6 270.7h0M1261.9 265.3h0M1352.2 165.3h0M1291.3 203.1h0M1326 181.3h0M1325 168h0M1248.7 244h0M1359.8 207h0M1356.8 187.6h0M1273.5 213.3h0M1308.5 191.7h0M1334.9 220.2h0M1279.5 231.4h0M1348 188h0M1338.8 183.6h0M1276.1 214.6h0M1350.1 190.9h0M1337.4 224.8h0M1286.6 223.7h0M1358.8 172.4h0M1369.2 166.3h0M1304.5 235.5h0M1284.4 194.7h0M1269.2 267.8h0M1363.2 199.4h0M1371.4 172.8h0M1298.8 205.3h0M1264.9 217.6h0M1319.4 187.8h0M1335.8 223h0M1326.1 198.2h0M1316 219.3h0M1327.5 180.5h0M1320 168.7h0M1357.2 173.9h0M1345.6 219.4h0M1361.6 158.8h0M1300 210.7h0M1338.5 202.2h0M1262.6 272h0M1272.6 237.9h0M1296.9 231h0M1325.8 170.9h0M1319.4 195h0M1320.5 219h0M1336.7 213.4h0M1291.7 218.3h0M1335.7 218.2h0M1350.6 200.9h0M1352.3 167h0M1278.9 256.9h0M1293.2 250.9h0M1338.4 215.5h0M1283.9 213.3h0M1352.8 188.8h0M1312.8 196.1h0M1313 186.5h0M1261.2 231.3h0M1269.4 236.7h0M1267.4 248.9h0M1368.1 190.1h0M1324.6 188.1h0M1309.4 172.3h0M1365.7 190.1h0M1358.3 198.4h0M1276.7 270.1h0M1263.7 251.2h0M1278.4 233.5h0M1261.3 271.4h0M1292.5 252.7h0M1312.1 231.9h0M1357.3 161.7h0M1313.2 238.9h0M1320.6 183.5h0M1331.5 216.3h0M1343.8 197h0M1319.4 223.2h0M1343.8 166.9h0M1311.1 235.9h0M1356.8 178.3h0M1288.5 226.7h0M1296.1 252h0M1348.4 182.8h0M1332.2 215.3h0M1339.5 196.9h0M1364.4 169h0M1339.5 213.9h0M1298.9 202.4h0M1360.9 157.9h0M1270.6 242.1h0M1350.1 192.5h0M1267.9 231.9h0M1301.7 192.1h0M1311.9 242.3h0M1246.5 251.8h0M1326.4 185.5h0M1264.5 234.9h0M1321.6 178.2h0M1266.5 267.2h0M1298.9 195.5h0M1250.6 241.3h0M1248.3 261.6h0M1305.7 245.3h0M1335.8 210.6h0M1171.1 334.9h0M1216.6 329.5h0M1212 305.6h0M1201.7 301.6h0M1194.2 339.5h0M1188.8 353.7h0M1243.4 315.2h0M1182.9 337.3h0M1243.9 300.8h0M1202.5 350.5h0M1236.4 297.5h0M1202.2 332.1h0M1208.8 345.7h0M1209 311h0M1191.7 329.3h0M1205.4 327.9h0M1249.2 305.7h0M1218.6 314.6h0M1172.5 342.3h0M1210.2 339.7h0M1176.1 329.3h0M1193.6 314.5h0M1203.3 333.9h0M1235.9 297.2h0M1207.9 305.6h0M1172.4 339.7h0M1224.9 323.9h0M1201.1 349.3h0M1240.1 315.1h0M1215 350.2h0M1181.5 322.6h0M1223.1 335h0M1204.6 346.8h0M1218.2 327.8h0M1215.2 318.5h0M1223.3 311.5h0M1237.6 304.5h0M1217.6 340.9h0M1199.8 323.8h0M1187.5 313.7h0M1394.6 152.8h0M1331.5 157.5h0M1373.9 187.8h0M1393.3 138.3h0M1354.9 193.3h0M1379.8 169.5h0M1351.6 189.5h0M1341.7 193.6h0M1371.5 167.8h0M1379.5 143.1h0M1389.6 164.7h0M1385.3 164.3h0M1375.8 147.3h0M1379.1 158.7h0M1323.8 179.4h0M1375.5 139.1h0M1348.2 193.9h0M1336 175h0M1322.8 194.8h0M1367.1 180.3h0M1388 135h0M1333.7 156.7h0M1375.9 166.6h0M1345.4 169h0M1324.7 158.8h0M1361.9 135.5h0M1339.1 191.8h0M1355.5 148.6h0M1322.3 191.2h0M1373.8 131.5h0M1360.7 169.8h0M1336.4 157.1h0M1341.4 185.6h0M1362.1 191h0M1389 147.9h0M1330.2 169.6h0M1319.6 196h0M1325.9 165.4h0M1331.4 197.3h0M1377.4 162.4h0M1342.4 141.4h0M1339.9 148.5h0M1374.1 169.2h0M1331.6 193.5h0M1364.6 135.3h0M1347.6 190.9h0M1367 133.7h0M1323.8 178.2h0M1376.8 129.2h0M1362.1 158.9h0M1342.3 174.1h0M1379.1 141.3h0M1374.8 154h0M1325.3 203.6h0M1338.5 193.3h0M1376.1 151.5h0M1375.1 177.2h0M1380.8 142.7h0M1360 198.5h0M1378.3 161.4h0M1381.2 170.7h0M1362.8 152.5h0M1367 137.1h0M1370.8 168.7h0M1331.1 160.2h0M1339.4 180.5h0M1327.4 191.5h0M1339.1 188.2h0M1368.8 161.8h0M1355.4 158h0M1337.9 164.5h0M1360 153.3h0M1354.1 161.2h0M1369.8 137.6h0M1391.2 136.9h0M1359.5 171.4h0M1357.1 158.5h0M1342.1 164.8h0M1326.3 156h0M1317.4 169h0M1375.7 143.9h0M1335.8 177.8h0M1328.7 183.2h0M1371.9 146.1h0M1324.9 156.5h0M1375.7 139.6h0M1395.1 142.1h0M1393.6 155.1h0M1360.8 173.4h0M1333.9 188h0M1391.8 164.5h0M1325 192.9h0M1368 154.6h0M1350.5 201.7h0M1327.8 202.3h0" stroke="#000" stroke-width="6.6" stroke-linecap="round" fill="none"/>
<polygon points="1051.1,370.2 1067.7,359.7 1084.2,349.1 1100.7,338.6 1117.2,328.1 1133.8,317.5 1150.3,307 1166.8,296.5 1183.3,285.9 1199.8,275.4 1216.4,264.8 1232.9,254.2 1249.4,243.6 1265.9,232.9 1282.5,222.2 1299,211.3 1315.5,200.2 1332,188.9 1348.6,177.5 1365.1,166 1381.6,154.5 1398.1,142.9 1414.6,131.3 1431.2,119.7 1447.7,108.1 1447.7,118.1 1431.2,128.7 1414.6,139.2 1398.1,149.8 1381.6,160.4 1365.1,171 1348.6,181.6 1332,192.4 1315.5,203.3 1299,214.3 1282.5,225.6 1265.9,237 1249.4,248.5 1232.9,260.1 1216.4,271.6 1199.8,283.2 1183.3,294.8 1166.8,306.4 1150.3,318.1 1133.8,329.7 1117.2,341.3 1100.7,352.9 1084.2,364.6 1067.7,376.2 1051.1,387.8" fill="#999" fill-opacity="0.4"/>
<line x1="1051.1" y1="379" x2="1447.7" y2="113.1" stroke="#2f63f7" stroke-width="2.4" stroke-linecap="butt"/>
<rect x="1031.3" y="38.9" width="436.8" height="393" fill="none" stroke="#868686" stroke-width="1.7"/>
<path d="M1137.6 431.9v3.6M1274.1 431.9v3.6M1410.9 431.9v3.6M1031.3 392.5h-3.6M1031.3 268h-3.6M1031.3 143.8h-3.6" stroke="#3a3a3a" stroke-width="1.9" fill="none"/>
<text class="s" x="1137.6" y="447.9" font-size="11.7" text-anchor="middle" fill="#555" stroke="#555" stroke-width="0.12">2</text>
<text class="s" x="1274.1" y="447.9" font-size="11.7" text-anchor="middle" fill="#555" stroke="#555" stroke-width="0.12">4</text>
<text class="s" x="1410.9" y="447.9" font-size="11.7" text-anchor="middle" fill="#555" stroke="#555" stroke-width="0.12">6</text>
<text class="s" x="1024.7" y="396.7" font-size="11.7" text-anchor="end" fill="#555" stroke="#555" stroke-width="0.12">2</text>
<text class="s" x="1024.7" y="272.2" font-size="11.7" text-anchor="end" fill="#555" stroke="#555" stroke-width="0.12">4</text>
<text class="s" x="1024.7" y="148" font-size="11.7" text-anchor="end" fill="#555" stroke="#555" stroke-width="0.12">6</text>
<text class="s" x="1249.7" y="464.9" font-size="14.6" text-anchor="middle" stroke="#000" stroke-width="0.42">F2R expression</text>
<text class="s" x="1010.2" y="235.4" font-size="14.6" text-anchor="middle" stroke="#000" stroke-width="0.42" transform="rotate(-90 1010.2 235.4)">PDGFRB expression</text>
<text class="s" x="1051.1" y="72.6" font-size="14.5" stroke="#000" stroke-width="0.42"><tspan font-style="italic">R</tspan> = 0.76, <tspan font-style="italic">p</tspan> &lt; 2.2e−16</text>
<path d="M1571.4 38.9V431.9M1708.2 38.9V431.9M1844.7 38.9V431.9" stroke="#f3f3f3" stroke-width="0.8" fill="none"/>
<path d="M1533.7 97.8H1970M1533.7 211.1H1970M1533.7 324.8H1970" stroke="#f3f3f3" stroke-width="0.8" fill="none"/>
<path d="M1639.8 38.9V431.9M1776.5 38.9V431.9M1913 38.9V431.9" stroke="#ebebeb" stroke-width="1.3" fill="none"/>
<path d="M1533.7 381.4H1970M1533.7 267.7H1970M1533.7 154.3H1970M1533.7 41.2H1970" stroke="#ebebeb" stroke-width="1.3" fill="none"/>
<path d="M1868.3 56.7h0M1886.1 123.3h0M1737.9 129.5h0M1798.7 145.2h0M1872.1 145.2h0M1838.5 151.1h0M1842.9 158.7h0M1912.7 160.7h0M1912.1 164.2h0M1722.2 175.6h0M1745.5 187.3h0M1820.1 168.9h0M1861.6 161.6h0M1872.7 160.1h0M1877.9 167.4h0M1879.1 175.3h0M1891.1 176.8h0M1901.3 173h0M1904.8 178.3h0M1926.7 176.2h0M1892.5 182.6h0M1899 191.4h0M1913.6 192.9h0M1937.8 197h0M1946 206h0M1932.3 207.2h0M1911.5 206h0M1899 207.5h0M1897.8 220h0M1950.1 228.2h0M1943.7 263.3h0M1885.8 265.3h0M1873.5 265.9h0M1877.9 284h0M1878.5 294.3h0M1859.5 269.4h0M1822.1 321.4h0M1814.2 314.1h0M1803.4 346.6h0M1774.8 342.5h0M1768.9 336.6h0M1771.8 328.8h0M1758.1 358.6h0M1742 346.9h0M1724.2 365.3h0M1728 348.3h0M1711.4 355.1h0M1698.8 353h0M1692.4 356.5h0M1690.9 353.6h0M1675.4 353h0M1674.5 361.5h0M1670.1 359.4h0M1657.9 363.8h0M1632.7 370.8h0M1621.9 363.8h0M1571.7 356.5h0M1553 376.1h0M1599.4 350.7h0M1607.6 340.4h0M1623.7 336.9h0M1624 332.3h0M1631 321.4h0M1642.7 309.8h0M1650.6 306h0M1642.7 294.3h0M1657.3 291.4h0M1670.4 290.5h0M1678.9 291.4h0M1660.8 270h0M1685.1 270.3h0M1679.2 232.3h0M1689.1 242.8h0M1714.9 238.7h0M1737.4 231.7h0M1739.1 209.5h0M1764.5 204.9h0M1763.7 225.3h0M1647.6 352.1h0M1660.8 349.8h0M1640.3 348.3h0M1674.5 345.4h0M1657.9 342.5h0M1666.6 328.8h0M1771.8 260.6h0M1862.3 187.4h0M1803.5 282.5h0M1721.1 278.9h0M1753.2 264.9h0M1784.9 232.3h0M1806.5 269.6h0M1748.3 340.3h0M1795.4 231.6h0M1858.7 244.3h0M1732.3 274.4h0M1756.5 272.1h0M1779.9 289.2h0M1807.3 265.4h0M1720.3 353.2h0M1703.4 356.2h0M1832.7 196.5h0M1873.2 226.2h0M1720.3 288h0M1835 240.5h0M1689.6 341.4h0M1749.8 304.1h0M1793.1 235.5h0M1862.9 228.3h0M1885.7 212.9h0M1848.8 220.8h0M1875.7 225.8h0M1866.3 224.1h0M1743.8 265h0M1722 331.2h0M1730.2 328.2h0M1870.9 222.3h0M1816.5 281.4h0M1872.7 175.9h0M1813.5 256h0M1700.3 316.3h0M1783 261.8h0M1712.2 353.4h0M1727.1 301h0M1809.3 303.3h0M1827.1 262.5h0M1712.5 336h0M1759.1 307.8h0M1788.1 275.1h0M1686.2 319.5h0M1837 213.3h0M1807.1 284.1h0M1807.1 258.2h0M1809.2 273.3h0M1808 302.4h0M1740.2 287.1h0M1790.8 316.2h0M1746 336.6h0M1713.3 302.2h0M1768.2 225.8h0M1815.1 208.7h0M1754.2 316.2h0M1683.2 335.2h0M1776.8 320.9h0M1696.1 304.9h0M1833.5 216.5h0M1768.4 314.7h0M1842.9 238.1h0M1762.2 262.5h0M1799.2 277.7h0M1717.4 312.6h0M1788.2 230.6h0M1764.8 305.7h0M1851.9 240.1h0M1831.7 251h0M1864.7 241.4h0M1828.7 278.2h0M1724.6 278.8h0M1841.7 207.4h0M1702.2 319.3h0M1775.2 282.7h0M1739.8 310.5h0M1837.7 182.7h0M1773.3 264.5h0M1684.6 335.5h0M1806.5 236.9h0M1857.4 203.8h0M1814.9 196h0M1895.4 200.3h0M1782.3 318.2h0M1769.6 294.9h0M1873 197h0M1787.6 228h0M1713.8 319.1h0M1845 213h0M1755.9 265.7h0M1876.3 193.1h0M1828.5 289.2h0M1873.7 170.2h0M1831.7 186.5h0M1733.7 322h0M1841.8 208h0M1806.3 257.7h0M1801.1 201.9h0M1873.5 185.5h0M1812.5 209.5h0M1837.2 202.6h0M1767.7 287.7h0M1792.5 219.7h0M1745.1 266.7h0M1713.2 354.3h0M1839.8 227.7h0M1697.3 347.7h0M1723 314.2h0M1806.9 269.5h0M1802.9 281h0M1819 293.1h0M1805.9 237.8h0M1872.6 203.4h0M1735.5 264.9h0M1781.6 224.8h0M1819.8 276.2h0M1708.9 295.1h0M1848.5 259.8h0M1751.4 262.7h0M1727.7 293.4h0M1773.6 237.7h0M1728.4 314.7h0M1778.7 321.5h0M1752.8 276h0M1806.9 233.4h0M1828.4 215.2h0M1851.7 247.6h0M1740.8 266.3h0M1727.2 285.1h0M1848.9 206.5h0M1792.7 238.6h0M1774.3 276.2h0M1814.7 254.3h0M1845.8 193h0M1751.4 313.6h0M1721 295.9h0M1766.8 310h0M1689.7 327.7h0M1801.8 223h0M1705.8 356.5h0M1789.6 270.6h0M1861.8 252.8h0M1791.2 238h0M1804.1 236.4h0M1761 305.2h0M1867.3 229h0M1713.6 345.4h0M1774.4 226.2h0M1796.8 243.8h0M1821.3 290h0M1834.2 269.9h0M1771.1 237.1h0M1723.5 311h0M1808.2 233h0M1812 205.9h0M1782 254h0M1757.9 284h0M1824.6 219.4h0M1758.3 292.9h0M1748.6 323.5h0M1771.1 266.6h0M1744.9 344.1h0M1760.2 334.3h0M1741.7 311.7h0M1782.8 213.9h0M1878.2 202.6h0M1863.6 206.9h0M1776.9 284.5h0M1840.9 239.2h0M1786.5 226.4h0M1865.5 174h0M1837.5 258.5h0M1711.3 354.4h0M1804 222.1h0M1860.5 193.3h0M1866.8 184.7h0M1825.9 226.4h0M1745.5 260.2h0M1808.4 280.1h0M1832.2 256.5h0M1885.8 223.5h0M1745.5 279.1h0M1814.1 269.2h0M1810.3 275.8h0M1787.3 260.1h0M1780.3 315h0M1687.3 328h0M1836.6 219.6h0M1796.9 232.4h0M1887.3 184.9h0M1717.4 348.5h0M1855.1 196.7h0M1813.5 283h0M1804.5 243.4h0M1755.1 254.7h0M1872.4 190.4h0M1874.7 172.5h0M1843.9 197.7h0M1843.6 242.1h0M1878.4 199.4h0M1768.1 332.1h0M1791 299h0M1728.4 306.6h0M1887.8 188.2h0M1808.7 282h0M1704.7 354.7h0M1849 200.6h0M1753 317.7h0M1814.2 280h0M1793.4 307.8h0M1713.8 308.3h0M1760.4 237.8h0M1854.8 198.2h0M1875.9 172h0M1711.5 341.8h0M1818.5 213.8h0M1770.6 240.1h0M1760.1 315h0M1785.3 259.9h0M1734.3 310.5h0M1814.5 201h0M1714 278.2h0M1831.2 217.9h0M1773.1 284.5h0M1814 209.8h0M1817.5 216.7h0M1824.1 240.1h0M1822.7 226.9h0M1792.8 269h0M1822.4 266.7h0M1855.5 235h0M1814.2 243.6h0M1798.6 261.3h0M1816.6 223.1h0M1755.4 281.4h0M1738.8 279.5h0M1856.8 213h0M1845.2 222.6h0M1858.2 214.1h0M1779.6 277.9h0M1848.2 218.9h0M1847.3 237.4h0M1834.4 233.7h0M1806.8 217.9h0M1786.4 300.6h0M1824.6 230.3h0M1849.7 207.1h0M1816.6 222.8h0M1790.2 229h0M1790.3 233.3h0M1803.2 283h0M1842.8 228h0M1782.6 300.2h0M1793.9 242.9h0M1789.8 292.4h0M1845.8 202.1h0M1750 288.3h0M1794.7 260.3h0M1728.4 311.4h0M1863.4 211.2h0M1804.1 254.2h0M1789.9 252h0M1778.8 230.2h0M1768.6 304h0M1832.4 248.4h0M1834.2 246.2h0M1733 301.2h0M1808.8 227h0M1811.8 228.8h0M1743.5 275.6h0M1748.9 272.8h0M1857.1 207.5h0M1838.9 215.7h0M1819.6 229.9h0M1739.6 274.4h0M1807.2 240.3h0M1786.1 289.8h0M1860.6 227.8h0M1819.7 273.6h0M1827.3 272.4h0M1774.3 277.8h0M1781.4 241.6h0M1796.8 280.1h0M1757.6 283h0M1770 274.2h0M1754.6 256.6h0M1763.3 288.2h0M1776.4 277.2h0M1852.6 212.5h0M1833.6 211.5h0M1790.7 283.8h0M1839.9 252.2h0M1762.4 271.3h0M1831.8 256.4h0M1766.3 284.2h0M1832.5 267h0M1738.2 299.2h0M1771.2 290.9h0M1854.3 234.4h0M1748.9 301.6h0M1779.9 279.3h0M1777.7 283.9h0M1783.2 266.2h0M1823 209.1h0M1814.8 285h0M1772.7 307.8h0M1743.5 308.4h0M1759.8 310.2h0M1736.4 316.6h0M1837.2 259.8h0M1826.3 269.5h0M1773.7 295.9h0M1739.6 288.6h0M1822.1 228.2h0M1782.6 271h0M1818.4 250.2h0M1820.7 231.7h0M1790.2 257.3h0M1807.1 221.6h0M1852.2 240.3h0M1850.7 246.2h0M1804.2 267h0M1738 289.9h0M1824 270.8h0M1787.1 292.4h0M1727.7 297.2h0M1748.6 309.2h0M1817.6 249.4h0M1782.4 249.5h0M1766.8 285.1h0M1830.1 249.4h0M1755.9 293.2h0M1786.9 225.7h0M1796.9 285.4h0M1784.1 285.4h0M1839.4 217.4h0M1807 260.7h0M1751.8 284.2h0M1812.7 246.5h0M1845.5 221.6h0M1749.8 262.3h0M1839.9 222.3h0M1833.2 218.1h0M1826.9 242.9h0M1750.7 290.6h0M1845.1 243.5h0M1797.8 292.3h0M1794 220.3h0M1855.9 220.2h0M1811.8 248h0M1840.9 228.1h0M1821.2 243.9h0M1735.4 317.6h0M1823.6 254h0M1829.3 245.7h0M1838.5 206.2h0M1856.7 226.8h0M1813.2 218h0M1789.7 237.4h0M1787.5 265.2h0M1751.7 311.1h0M1814.4 241.2h0M1801 292.6h0M1838.6 255.8h0M1766.6 250h0M1754 305.7h0M1754.3 313.5h0M1809.7 256.9h0M1791.7 245.9h0M1810.2 244.8h0M1847.2 230.8h0M1857.7 205.6h0M1761.8 278.9h0M1823.7 251.7h0M1728.6 316.8h0M1730.6 330h0M1720.1 333.8h0M1739.7 336.9h0M1740.1 319h0M1755.2 320.4h0M1756.1 301h0M1698.3 336.9h0M1680.8 343.9h0M1740.3 309.2h0M1732.6 341.4h0M1763 310.2h0M1704 348.8h0M1766.5 307.4h0M1705.8 336.9h0M1719.7 309.1h0M1737.2 319.9h0M1741.1 321.6h0M1676 342.4h0M1715.2 335.9h0M1699.7 337.2h0M1699.3 324.9h0M1708.9 320.1h0M1713.7 306.1h0M1708.2 330.8h0M1761 314.9h0M1759.7 320.7h0M1735.6 318h0M1763.4 308.7h0M1691.4 329.3h0M1752 309.8h0M1755.9 309h0M1740.7 327.2h0M1734.5 339.2h0M1688.6 345.3h0M1690.3 334.6h0M1703.4 323.2h0M1727.8 305.1h0M1758.5 319h0M1709.7 347.6h0M1676.9 334.3h0M1700.3 332.3h0M1686.9 338.5h0M1693.8 329.4h0M1724.4 306.9h0M1696.5 338.9h0M1719.7 322.5h0M1726.9 317.7h0M1688.7 331.9h0M1692.3 332.6h0M1861.1 205.9h0M1856 229.2h0M1824.3 230.8h0M1811.4 208.2h0M1844.2 205.9h0M1868.5 209.5h0M1858.6 181.5h0M1823.2 240.6h0M1814.1 235.5h0M1837.8 201.2h0M1817.3 200.9h0M1831.6 226.1h0M1857.2 213.7h0M1857.1 196.2h0M1820.6 236.8h0M1822.8 198.2h0M1863.5 221.6h0M1821.1 225.4h0M1865.6 216.2h0M1820 207.7h0M1868.6 202.4h0M1878.8 174.6h0M1846.4 176.2h0M1837.3 240.5h0M1826.6 235.5h0M1890 194.2h0M1889.2 198.8h0M1826.3 217.7h0M1860.6 167.1h0M1815.2 209.6h0M1855.6 234.5h0M1840.4 209.7h0M1835.9 224.2h0M1878.1 173.7h0M1857.1 191.4h0M1830.9 221.3h0M1818.3 201.2h0M1858.6 181h0M1848.2 191.5h0M1851.4 168.9h0M1844.6 219.8h0M1848.3 217.9h0M1872.8 206.1h0M1849.2 181.3h0M1856.5 231.9h0M1863.5 202h0M1866.5 227.7h0M1873.5 212.6h0M1884.2 190.9h0M1831.7 233.5h0M1870.4 215.2h0M1873.6 174h0M1868.4 196.5h0M1848.6 225.6h0M1886.1 179.1h0M1841.1 212h0M1869.1 215.4h0M1836.3 239.7h0M1876.8 220.7h0M1878.4 200.3h0M1858.4 193.5h0M1828.4 186h0M1824 203.7h0M1865.4 209.1h0M1857.2 218.2h0M1826.4 227.4h0M1846.9 225.9h0M1841 177.8h0M1828.5 217.5h0M1836.1 208.6h0M1876.5 210.4h0M1811.5 216.9h0M1865.9 231.6h0M1843.6 195.2h0M1871.2 221.6h0M1872.7 208.9h0M1871.8 181h0M1846 226h0M1881.1 172.6h0M1820 224.2h0M1827.5 197.9h0M1869 167.1h0M1826.9 235h0M1816.8 202h0M1890.6 192.1h0M1841.6 178.8h0M1871.4 186.5h0M1867.7 184.2h0M1848.3 238.2h0M1887.8 189.4h0M1814.1 227.6h0M1859.5 236.7h0M1846.4 228.6h0M1829.4 231.5h0M1837.4 223.4h0" stroke="#000" stroke-width="6.6" stroke-linecap="round" fill="none"/>
<polygon points="1553.3,397.1 1569.8,387.6 1586.3,378 1602.9,368.5 1619.4,359 1635.9,349.4 1652.5,339.9 1669,330.3 1685.5,320.8 1702.1,311.2 1718.6,301.6 1735.1,292 1751.7,282.3 1768.2,272.6 1784.8,262.7 1801.3,252.5 1817.8,242.3 1834.4,231.8 1850.9,221.3 1867.4,210.8 1884,200.2 1900.5,189.6 1917,179 1933.6,168.4 1950.1,157.7 1950.1,169 1933.6,178.5 1917,188.1 1900.5,197.6 1884,207.2 1867.4,216.8 1850.9,226.4 1834.4,236 1817.8,245.8 1801.3,255.6 1784.8,265.7 1768.2,275.9 1751.7,286.3 1735.1,296.8 1718.6,307.4 1702.1,318 1685.5,328.5 1669,339.2 1652.5,349.8 1635.9,360.4 1619.4,371 1602.9,381.6 1586.3,392.3 1569.8,402.9 1553.3,413.5" fill="#999" fill-opacity="0.4"/>
<line x1="1553.3" y1="405.3" x2="1950.1" y2="163.4" stroke="#2f63f7" stroke-width="2.4" stroke-linecap="butt"/>
<rect x="1533.7" y="38.9" width="436.3" height="393" fill="none" stroke="#868686" stroke-width="1.7"/>
<path d="M1639.8 431.9v3.6M1776.5 431.9v3.6M1913 431.9v3.6M1533.7 381.4h-3.6M1533.7 267.7h-3.6M1533.7 154.3h-3.6M1533.7 41.2h-3.6" stroke="#3a3a3a" stroke-width="1.9" fill="none"/>
<text class="s" x="1639.8" y="447.9" font-size="11.7" text-anchor="middle" fill="#555" stroke="#555" stroke-width="0.12">2</text>
<text class="s" x="1776.5" y="447.9" font-size="11.7" text-anchor="middle" fill="#555" stroke="#555" stroke-width="0.12">4</text>
<text class="s" x="1913" y="447.9" font-size="11.7" text-anchor="middle" fill="#555" stroke="#555" stroke-width="0.12">6</text>
<text class="s" x="1527.1" y="385.6" font-size="11.7" text-anchor="end" fill="#555" stroke="#555" stroke-width="0.12">0</text>
<text class="s" x="1527.1" y="271.9" font-size="11.7" text-anchor="end" fill="#555" stroke="#555" stroke-width="0.12">2</text>
<text class="s" x="1527.1" y="158.5" font-size="11.7" text-anchor="end" fill="#555" stroke="#555" stroke-width="0.12">4</text>
<text class="s" x="1527.1" y="45.4" font-size="11.7" text-anchor="end" fill="#555" stroke="#555" stroke-width="0.12">6</text>
<text class="s" x="1751.8" y="464.9" font-size="14.6" text-anchor="middle" stroke="#000" stroke-width="0.42">F2R expression</text>
<text class="s" x="1512.2" y="235.4" font-size="14.6" text-anchor="middle" stroke="#000" stroke-width="0.42" transform="rotate(-90 1512.2 235.4)">AKAP12 expression</text>
<text class="s" x="1553.3" y="72.6" font-size="14.5" stroke="#000" stroke-width="0.42"><tspan font-style="italic">R</tspan> = 0.77, <tspan font-style="italic">p</tspan> &lt; 2.2e−16</text>
<path d="M88.9 498.6V891.7M223.1 498.6V891.7M357.2 498.6V891.7" stroke="#f3f3f3" stroke-width="0.8" fill="none"/>
<path d="M51.1 516H480.7M51.1 580H480.7M51.1 644H480.7M51.1 708H480.7M51.1 772H480.7M51.1 836H480.7" stroke="#f3f3f3" stroke-width="0.8" fill="none"/>
<path d="M156 498.6V891.7M290.2 498.6V891.7M424.3 498.6V891.7" stroke="#ebebeb" stroke-width="1.3" fill="none"/>
<path d="M51.1 868H480.7M51.1 804H480.7M51.1 740H480.7M51.1 676H480.7M51.1 612H480.7M51.1 548H480.7" stroke="#ebebeb" stroke-width="1.3" fill="none"/>
<path d="M417 516.2h0M461.1 538.1h0M312.7 539.8h0M358.6 543.1h0M384.6 545.1h0M322.3 550.4h0M333.1 559.4h0M346.9 555.6h0M351.3 562.1h0M361.5 557.7h0M374.1 554.5h0M392.2 552.7h0M398 550.7h0M406.2 551.5h0M424.3 551.2h0M424.3 562.1h0M425.8 569.4h0M278.5 581.9h0M411.5 572.9h0M413.5 576.7h0M443.6 577.5h0M449.4 603.5h0M438.6 612h0M426.9 620.5h0M457.3 632.5h0M454.7 672.2h0M409.1 622.5h0M397.4 692.7h0M390.7 702.3h0M384.6 707.3h0M363.2 710.5h0M353 739.7h0M352.4 763.7h0M335.2 757.8h0M335.2 752h0M335.2 742.6h0M321.4 762.8h0M297.2 770.4h0M293.7 760.2h0M276.2 773.9h0M264.8 782.1h0M254.2 785.6h0M243.1 792.3h0M241.7 787.1h0M216.8 801.7h0M219.2 789.1h0M195.8 801.1h0M194.3 792.9h0M189.9 784.1h0M174.5 793.5h0M176.8 791.4h0M157.2 795.2h0M147.6 800.2h0M138.8 798.2h0M124.2 790.3h0M116.3 799.6h0M88.5 802.6h0M70.1 802.3h0M140.3 765.7h0M146.7 777.7h0M154.9 768.1h0M158.4 782.7h0M166.6 765.1h0M174.5 758.7h0M176.2 749.1h0M183.2 753.5h0M190.5 743.2h0M188.5 736.2h0M140.3 739.4h0M149 694.1h0M173.3 696.2h0M185.6 713.7h0M194.9 704.7h0M190.2 633.6h0M215.1 652.9h0M223.3 661.7h0M206.3 674.3h0M211.9 722.8h0M222.1 716.9h0M227.9 709.6h0M277.6 635.1h0M255.7 646.2h0M257.7 646.5h0M318.5 590.4h0M334.6 596.2h0M337.5 586h0M410.2 590.5h0M381.7 661.3h0M412 590.8h0M246.8 693.6h0M402.6 593.4h0M301.3 721.9h0M324 725.9h0M336 693.3h0M354.7 598.5h0M355.9 697.6h0M217.3 774.2h0M272.1 732.6h0M378.1 638.1h0M285.1 748.7h0M368.6 606.5h0M262.8 762.6h0M402 592.2h0M368.9 611.6h0M324.6 678.3h0M344.8 640.9h0M270.5 672.3h0M261.3 735.8h0M404.8 627.3h0M347.6 654.9h0M329.6 628.7h0M267.9 756.4h0M363.2 674.6h0M280.6 766h0M309.7 715.7h0M303 747h0M291.7 757.6h0M380.1 635.4h0M309.3 627.1h0M377.7 648.2h0M280.2 747.9h0M379.7 590.2h0M320.7 730h0M324.1 663.7h0M390.7 658.6h0M247.3 754.3h0M413.8 599.5h0M319.3 663.2h0M247.2 760.4h0M225.4 738.7h0M337 713.3h0M341.5 655.6h0M264.2 701.6h0M294.8 734.2h0M266.8 679.9h0M307.7 735h0M312.2 627.6h0M365.1 592.4h0M303.4 685.6h0M281.3 739.5h0M374.4 658.6h0M359.6 633.6h0M350.7 625.8h0M305.7 740h0M258 715.4h0M292.2 750h0M330.8 679.3h0M270.7 665.2h0M319.7 657.8h0M296.6 742.1h0M398.4 642.3h0M304.3 708.7h0M224.7 754.7h0M356.4 614.5h0M307.2 649h0M311.9 679.8h0M280.6 694h0M238.2 708.2h0M234.7 745.9h0M276.3 761.3h0M263.2 721.7h0M380.6 646.8h0M248.4 757.4h0M290.1 681h0M291.8 753.1h0M400.3 590.8h0M261.1 764h0M359.8 661h0M363.3 632.5h0M329.3 658.7h0M303.2 639.5h0M285.9 693.7h0M279.9 689.6h0M268.6 670.1h0M350 614.3h0M351.4 670.7h0M408 608.9h0M267.9 748.5h0M271.5 768.5h0M239.2 756.4h0M250.2 753.4h0M245.3 725.3h0M266.1 749.9h0M400.4 586.3h0M353.1 632.4h0M309.6 695.1h0M384.6 665.5h0M391.1 603h0M245.6 763.3h0M298.2 701.2h0M307.1 645.8h0M314.3 643.3h0M256.3 708.5h0M379.8 665.3h0M232.3 783.4h0M375.1 613.2h0M236.8 753.1h0M335.9 689.7h0M227 766.9h0M261.2 684.9h0M301.1 743.2h0M236.3 778.5h0M329.9 645.8h0M401 637.6h0M249.7 689.4h0M260 720.5h0M392.2 655h0M343.9 705.1h0M344.5 643.7h0M231.3 710.8h0M262.2 769.4h0M250.9 716.9h0M258 681.9h0M250.3 713.5h0M316.2 641.3h0M296 639.8h0M284.9 736.3h0M265.7 775h0M392.9 633.4h0M329.8 689.7h0M350.3 698.8h0M395 624.4h0M262.8 681.3h0M332.6 696.4h0M264.7 732.6h0M330.7 693.2h0M381.5 591.7h0M272.4 720.4h0M379.2 600.2h0M236.7 749.8h0M305.4 635h0M234.7 723h0M404.8 606.6h0M355.6 696.8h0M279.4 740.7h0M240.9 729.8h0M305.3 736.4h0M263.9 699.5h0M265.3 773.5h0M315.6 675.7h0M336.2 608h0M258.4 763.5h0M330.5 657.5h0M373.8 652.3h0M393.6 616.6h0M252.1 719.3h0M280.2 761.1h0M300.8 719.2h0M402.7 625.3h0M301.8 714.1h0M361.8 591.6h0M413.4 601.7h0M373 659.5h0M308.4 639.4h0M266.8 687h0M231.4 762.3h0M337 699.7h0M391.3 598.2h0M382.8 583.7h0M237.9 708.2h0M378.1 649.5h0M374.6 674.8h0M346.7 600.2h0M346.1 630.7h0M318.4 625.1h0M319 698.3h0M343.7 643h0M273.2 733.9h0M262.5 767.6h0M239.7 719.7h0M357.5 620.8h0M281 661.7h0M233 724.9h0M340.2 642.1h0M407.2 626.8h0M353.6 679h0M276 708.7h0M371.4 656.5h0M268.7 684.6h0M281.4 695.5h0M328.5 621.4h0M361.5 590h0M374.1 641.8h0M356.4 672.5h0M275.4 765.6h0M277.8 669.9h0M378.3 617.1h0M232.8 733h0M328.4 694.2h0M247.9 768.2h0M349.2 612.6h0M331.7 618.6h0M374.4 637.9h0M345.3 631.4h0M358 660.3h0M338.1 657.9h0M359 650.8h0M373.9 632.6h0M255.6 688.7h0M282 672h0M312.3 675.4h0M287.8 655.9h0M344.1 644.7h0M221.1 783.1h0M256.1 736h0M272.3 733.6h0M353.8 631.7h0M291.3 731.4h0M307.4 643.3h0M308 688.3h0M318 703.3h0M322.7 647.8h0M336.8 697.4h0M330.9 675.4h0M277.1 711.2h0M286.3 725.2h0M317.1 712h0M351.1 691.8h0M284.2 686.8h0M283.9 737.6h0M334.9 700.1h0M322.3 672.7h0M311.4 671.9h0M317.5 686.8h0M341 634.2h0M321 716.8h0M314.5 677.1h0M355.4 623.3h0M298.1 682.3h0M337.1 632.1h0M300.3 650.9h0M376 642.2h0M254.2 712.3h0M368.7 664.9h0M338 635.1h0M255.8 709.1h0M376.2 626.5h0M323.8 688h0M281.4 670h0M342.4 637.4h0M356.9 666.9h0M288.7 659.9h0M304.2 643.9h0M339.6 635h0M338.9 658h0M342.2 646.2h0M310.1 671.3h0M359.7 662.8h0M300.3 673.8h0M333.4 641.7h0M302 689h0M343.2 697.9h0M282.6 701.1h0M293.3 686.4h0M313.4 725.2h0M327.6 654.5h0M320.4 666.6h0M313.2 652.5h0M348.4 639.9h0M265.2 708.3h0M299.1 690.5h0M297.8 675.1h0M334.7 688.7h0M325.1 689.3h0M321.2 691.9h0M330.1 637.9h0M298.7 730.2h0M301.2 732.7h0M274.3 712.7h0M270.9 726.9h0M351.4 682.4h0M312 703.4h0M332 696.5h0M365.4 647h0M282.9 721.4h0M360.6 665.2h0M273.9 731.5h0M372 659.9h0M309.2 656.4h0M316.1 635.9h0M272.8 740.8h0M326.8 692.5h0M274.9 687.8h0M345.6 680.1h0M311.3 725.5h0M320.9 654.3h0M272.4 685.6h0M262.5 703.6h0M292 728.4h0M335 652.3h0M311.4 668.7h0M302.6 665.8h0M305.9 644.8h0M320.3 670.3h0M325.4 694.1h0M329 626.3h0M322.9 657.3h0M286.2 692.1h0M375.2 639.9h0M342.1 669h0M330.2 655.4h0M316.2 687.7h0M374.6 627.5h0M322.5 644.8h0M321.1 632.9h0M331.5 667.4h0M271.6 734.9h0M283 682.1h0M329 710.3h0M321.7 720.1h0M376.9 640.6h0M304.4 686.1h0M266.4 697.6h0M327.9 662.9h0M350.8 618.5h0M368 629.8h0M347 679h0M289.6 709.6h0M264.3 696.2h0M300.2 734.5h0M315.2 666.7h0M259.3 735.2h0M288.9 688.9h0M299.3 711.3h0M290.4 668.5h0M370.9 649.7h0M277.5 716.3h0M352.8 654.4h0M293 712.6h0M361.6 629.5h0M287.2 699.6h0M343.5 669.1h0M294.1 713.8h0M316.5 721.2h0M304.9 644.4h0M333.2 641.3h0M349.2 649.5h0M275.7 697.4h0M368.2 631.7h0M311.1 679.6h0M260.2 738.6h0M359.5 674.8h0M296.3 703.7h0M376.6 651.4h0M283.2 679.9h0M316.3 672.7h0M319.9 657.2h0M366.8 641.3h0M297.1 709.2h0M309.7 674.8h0M355 664.3h0M219.6 754.6h0M200.4 773.1h0M235 770.9h0M213 774.3h0M252.7 751.6h0M279.4 731.5h0M240 752.8h0M206.2 769.8h0M268.9 751.3h0M210.8 778.1h0M196.1 772.6h0M203.3 772.8h0M225 754.6h0M256.3 767.7h0M200.1 775.7h0M246.1 772.5h0M198.7 769.9h0M257.6 726.5h0M214.2 788.1h0M224.7 781.7h0M234.8 738h0M272.2 732.1h0M233.1 735.9h0M246 771.9h0M202.6 772.5h0M199.5 776.6h0M238.9 756.4h0M225.2 778.6h0M204.9 789.9h0M274.6 753.7h0M270.8 746.5h0M235.8 739.3h0M213.7 757.9h0M203 787.6h0M224 752.7h0M272.8 730h0M260.9 726.3h0M227.8 745.7h0M195 786.6h0M273.7 758.4h0M211.9 747.4h0M254.1 758.7h0M273.5 751.3h0M253.8 741.1h0M207.2 787.9h0M235.5 776.7h0M190.4 772.1h0M246.8 774.6h0M241.4 782.2h0M274.1 736.9h0M281.5 743.2h0M218.1 747.2h0M237.4 776h0M223.1 774.9h0M192.6 774.3h0M237.5 782.7h0M272 736.2h0M216.4 778.8h0M262.2 752.3h0M233.4 747.6h0M239.1 772.2h0M279.3 737.2h0M251.7 764.7h0M258.5 759.5h0M237 780.7h0M391.3 619.9h0M396.4 614.3h0M392.5 623.2h0M332.9 634h0M347.8 633.2h0M344.1 657h0M326.5 649h0M355.6 619.7h0M396.9 621.5h0M342.9 632.4h0M338.5 655.9h0M345.5 639.7h0M337.3 642.1h0M337.4 663.3h0M381 584.9h0M343.9 640.5h0M373 623.5h0M388.5 605.4h0M333.1 614.7h0M338.8 602.6h0M362.6 657h0M386 640.9h0M378.6 586.3h0M350.2 598.1h0M355.9 610.3h0M372 631.9h0M356.9 615.3h0M339.1 659.4h0M367.3 624h0M326 625.9h0M369.6 603.6h0M388 604.1h0M359.9 661.1h0M368.8 597.6h0M376.7 649.2h0M377.4 647.8h0M365.5 621.7h0M343.3 633.1h0M359.5 605.9h0M384.4 611.8h0M387.9 613.4h0M361.3 621.3h0M372.2 621.2h0M379.7 619.8h0M336 623.4h0M335.1 641.4h0M367.7 625h0M339.2 629.1h0M383.4 591.8h0M382.6 628.8h0M353.6 648.5h0M326 621.7h0M337.5 650.2h0M333.8 614.7h0M326.2 656.8h0M384.2 591.8h0M394.5 624.2h0M320.8 650h0M372.8 586.7h0M349.6 596.5h0M388.6 595.6h0M374.1 643.3h0M329 635.5h0M322.8 634.8h0M344.5 611.7h0M376.8 637.5h0M324.1 623.3h0M350.4 601.6h0M338.7 653.5h0M350.2 626.9h0M338.4 631.9h0M330.4 614.4h0M394 612.1h0M372.8 592.3h0M334.2 621.7h0M342.3 619.7h0M340.8 640.4h0M327 651.5h0M386 629.5h0M330.6 628.3h0M385.8 632.6h0M332.8 647.4h0M384.6 629.2h0M322.3 638.6h0M377.2 605.2h0M363.1 651.8h0M357.4 649.1h0M377.8 623.5h0M371.5 618.3h0M355.4 656.7h0M352.2 649.2h0M379.1 585.5h0M342.3 621.5h0M363.4 587.4h0M354.5 601.9h0" stroke="#000" stroke-width="6.6" stroke-linecap="round" fill="none"/>
<polygon points="70.7,854.6 87,843.1 103.3,831.5 119.5,820 135.8,808.5 152.1,796.9 168.3,785.4 184.6,773.9 200.9,762.3 217.1,750.8 233.4,739.2 249.7,727.6 265.9,715.9 282.2,704.2 298.5,692.3 314.7,680.2 331,668 347.3,655.6 363.5,643.1 379.8,630.6 396.1,618 412.3,605.5 428.6,592.9 444.9,580.3 461.1,567.7 461.1,578.6 444.9,590.1 428.6,601.7 412.3,613.2 396.1,624.8 379.8,636.4 363.5,648 347.3,659.7 331,671.4 314.7,683.3 298.5,695.3 282.2,707.6 265.9,720 249.7,732.5 233.4,745 217.1,757.6 200.9,770.1 184.6,782.7 168.3,795.3 152.1,807.9 135.8,820.5 119.5,833.1 103.3,845.7 87,858.3 70.7,870.9" fill="#999" fill-opacity="0.4"/>
<line x1="70.7" y1="862.8" x2="461.1" y2="573.2" stroke="#2f63f7" stroke-width="2.4" stroke-linecap="butt"/>
<rect x="51.1" y="498.6" width="429.6" height="393.1" fill="none" stroke="#868686" stroke-width="1.7"/>
<path d="M156 891.7v3.6M290.2 891.7v3.6M424.3 891.7v3.6M51.1 868h-3.6M51.1 804h-3.6M51.1 740h-3.6M51.1 676h-3.6M51.1 612h-3.6M51.1 548h-3.6" stroke="#3a3a3a" stroke-width="1.9" fill="none"/>
<text class="s" x="156" y="907.7" font-size="11.7" text-anchor="middle" fill="#555" stroke="#555" stroke-width="0.12">2</text>
<text class="s" x="290.2" y="907.7" font-size="11.7" text-anchor="middle" fill="#555" stroke="#555" stroke-width="0.12">4</text>
<text class="s" x="424.3" y="907.7" font-size="11.7" text-anchor="middle" fill="#555" stroke="#555" stroke-width="0.12">6</text>
<text class="s" x="44.5" y="872.2" font-size="11.7" text-anchor="end" fill="#555" stroke="#555" stroke-width="0.12">−1</text>
<text class="s" x="44.5" y="808.2" font-size="11.7" text-anchor="end" fill="#555" stroke="#555" stroke-width="0.12">0</text>
<text class="s" x="44.5" y="744.2" font-size="11.7" text-anchor="end" fill="#555" stroke="#555" stroke-width="0.12">1</text>
<text class="s" x="44.5" y="680.2" font-size="11.7" text-anchor="end" fill="#555" stroke="#555" stroke-width="0.12">2</text>
<text class="s" x="44.5" y="616.2" font-size="11.7" text-anchor="end" fill="#555" stroke="#555" stroke-width="0.12">3</text>
<text class="s" x="44.5" y="552.2" font-size="11.7" text-anchor="end" fill="#555" stroke="#555" stroke-width="0.12">4</text>
<text class="s" x="265.9" y="924.7" font-size="14.6" text-anchor="middle" stroke="#000" stroke-width="0.42">F2R expression</text>
<text class="s" x="23.7" y="695.2" font-size="14.6" text-anchor="middle" stroke="#000" stroke-width="0.42" transform="rotate(-90 23.7 695.2)">LAMA2 expression</text>
<text class="s" x="70.7" y="532.3" font-size="14.5" stroke="#000" stroke-width="0.42"><tspan font-style="italic">R</tspan> = 0.78, <tspan font-style="italic">p</tspan> &lt; 2.2e−16</text>
<path d="M575.4 498.6V891.7M712.1 498.6V891.7M848.9 498.6V891.7" stroke="#f3f3f3" stroke-width="0.8" fill="none"/>
<path d="M537.7 503.3H974.3M537.7 580.5H974.3M537.7 658H974.3M537.7 735.3H974.3M537.7 812.8H974.3M537.7 890H974.3" stroke="#f3f3f3" stroke-width="0.8" fill="none"/>
<path d="M643.8 498.6V891.7M780.5 498.6V891.7M917.3 498.6V891.7" stroke="#ebebeb" stroke-width="1.3" fill="none"/>
<path d="M537.7 851.4H974.3M537.7 773.9H974.3M537.7 696.5H974.3M537.7 619H974.3M537.7 541.9H974.3" stroke="#ebebeb" stroke-width="1.3" fill="none"/>
<path d="M871.1 516.2h0M891.9 518.2h0M890.7 527.6h0M872.6 531.1h0M793.1 532.2h0M931.6 531.4h0M942.1 538.1h0M896.6 539.3h0M866.7 542.2h0M878.4 542.2h0M849.2 546h0M822.3 547.7h0M828.8 552.4h0M746.6 552.4h0M855.9 549.8h0M916.7 552.4h0M918.5 556.8h0M842.8 556.2h0M950.3 584h0M917.3 578.1h0M919.9 580.2h0M919.1 588.1h0M917 605.6h0M900.4 608.2h0M906.8 613.8h0M899.5 617.9h0M936.6 618.2h0M954.1 618.7h0M902.7 629.8h0M905.6 639.5h0M903.6 647.7h0M890.1 648.8h0M888.7 636.6h0M884.6 639.5h0M909.4 660.5h0M948 672.5h0M883.1 695h0M844 706.7h0M849.2 689.8h0M826.4 712h0M825.8 717.8h0M818.2 743.2h0M830.8 746.7h0M836.6 757.8h0M786.1 752.6h0M787.8 738h0M772.9 785.6h0M807.7 805.5h0M803.3 861.9h0M762.4 821.5h0M744.9 802h0M739.6 791.4h0M733.2 811h0M728.5 817.7h0M731.7 795h0M711 820.1h0M704 836.2h0M694.9 827.7h0M693.5 823.6h0M665.7 839.1h0M662.8 831.5h0M661.3 837.6h0M644.1 840.3h0M636.8 826.8h0M626.2 814.2h0M603.7 829.1h0M576 863.9h0M557.3 818.3h0M612.2 806.6h0M628 801.4h0M635.9 795.2h0M647.6 783.3h0M647.6 805.5h0M654.9 793.8h0M662.8 804.6h0M670.4 787.9h0M673.9 804.6h0M678.8 794.4h0M684.1 795h0M684.7 804.6h0M634.4 745.9h0M643.8 757.8h0M652.3 754.6h0M647 717.5h0M628 653.5h0M665.1 656.4h0M674.2 603.5h0M743.7 591.9h0M747.2 616.7h0M752.8 623.7h0M693.5 683.3h0M704.6 686.2h0M696.1 695.9h0M679.1 701.2h0M680.6 716.9h0M689.9 718.4h0M685 721.9h0M683.5 730.1h0M692.9 734.5h0M677.7 750.5h0M689.9 752h0M683.5 767.5h0M670.4 771h0M678.3 777.7h0M749.7 724.4h0M753.4 730.7h0M753.1 675.7h0M760.3 679.3h0M809.9 661h0M864.6 628.2h0M805.9 717.6h0M890.8 548.7h0M839.8 598.6h0M734.1 678.1h0M794.6 673.7h0M813.9 705.8h0M807.7 688.9h0M804.1 623.6h0M764.9 722.8h0M880.3 559h0M870 600h0M829.6 569.2h0M712.4 749.6h0M853.3 636.7h0M758.4 719.5h0M792.3 654.9h0M901.8 559.9h0M715.1 759.9h0M715.6 766.8h0M729.1 760h0M727.5 743.2h0M823.9 647.6h0M777.5 708.8h0M742.3 716h0M758.2 745.1h0M749 716.8h0M795.6 598.8h0M817.3 591.3h0M860.7 620.1h0M840.7 636.3h0M800.2 659.4h0M909.1 593.2h0M879.8 556.1h0M888.8 621.8h0M836.3 684.5h0M855.2 607.3h0M863.3 570.1h0M839.7 640.8h0M878.9 590.5h0M775.9 640.6h0M885.1 584.9h0M821.7 653.4h0M872.6 558.7h0M885 604.5h0M776.2 707.7h0M843.7 633.7h0M826.6 594.8h0M835.7 601.9h0M734 764.2h0M845.7 647.4h0M822.3 586.8h0M867.9 657.7h0M881.1 583.7h0M813.1 689.7h0M848.6 624.2h0M808.8 724.5h0M731.6 727.3h0M735.1 707.7h0M736.9 736h0M782.1 668.6h0M766 641.7h0M757.3 720.4h0M763.9 637.9h0M804.8 674.1h0M784.4 651.8h0M772.8 723.7h0M767.1 710.1h0M726.2 698.3h0M781.2 706.3h0M897.8 579h0M913.7 551.9h0M883.1 621.6h0M739.3 662.6h0M759.7 707.3h0M841.7 565.6h0M731.6 692.5h0M871.9 554.8h0M735.7 698.9h0M713.7 753.4h0M758.4 692.8h0M774.6 649.4h0M867.8 555.9h0M845.8 618.6h0M762 634.8h0M816.9 578.4h0M897.2 619.5h0M765 681.7h0M899.1 601h0M858.3 673.1h0M772.5 707.3h0M856.1 620.9h0M840.8 624.8h0M779.3 661.1h0M790.7 610h0M787.2 630.7h0M824 619.9h0M874.5 617.2h0M853.8 649.5h0M768.5 744h0M819.1 653h0M835 620.5h0M800.7 617.5h0M755.5 742.5h0M714.4 736.5h0M831.4 630.1h0M756 676.5h0M870.2 577.6h0M855.3 615.4h0M796.7 677.2h0M729.1 763.3h0M900.8 611.6h0M892.4 628h0M875.9 648.1h0M730.7 702.4h0M740.6 767.1h0M912.1 565.1h0M706.6 757.4h0M880.2 567.5h0M751.8 689.5h0M810.3 707.1h0M779.5 699h0M754.1 689.1h0M879.9 601.8h0M873.2 557.3h0M813 706.1h0M860.3 588.8h0M774.4 643.6h0M811.7 633.4h0M837.8 693.6h0M759 675.7h0M797.8 596.7h0M825 644.8h0M749 760.1h0M723.3 769.9h0M861.8 664.2h0M713.5 769.6h0M814.2 653.8h0M788.6 687.4h0M904.5 538.7h0M743.9 763.9h0M773.4 628.5h0M897.4 546.4h0M785 613.6h0M856.6 640h0M815.6 694.1h0M886.7 624.6h0M787.6 645h0M831.5 638h0M812.2 651.7h0M796.1 645.7h0M864.4 618.9h0M783.7 723h0M816.4 648.7h0M772.3 712.5h0M784.3 693.9h0M864.5 572.6h0M809.2 709.1h0M846.1 646.7h0M866 580.3h0M900.7 614.3h0M787.6 618.9h0M779.8 615.4h0M896.1 592.7h0M853 593.4h0M861.9 551.2h0M801 621.5h0M755.5 752.6h0M756.1 722.7h0M889.6 574.3h0M825.2 637.4h0M765.7 727h0M725.2 735.3h0M717.5 741.4h0M825.2 640.2h0M789.6 705h0M706 767.5h0M817.8 622.4h0M767.7 719.3h0M765.1 644.6h0M774.6 710.9h0M817.9 642.4h0M819.9 580.4h0M764.6 678.9h0M869.6 629.1h0M831.2 606.4h0M726 711.5h0M769.5 683.3h0M872.9 652.6h0M849.2 597h0M761.2 716.1h0M765.3 631.5h0M798 702.6h0M865 603.7h0M877.1 624h0M818.3 611.7h0M847.9 625.3h0M787.4 665.8h0M821.8 677.5h0M774.7 638.9h0M919.5 562.3h0M873.6 589.3h0M759.3 670.6h0M763.8 722.3h0M865 589.4h0M860.8 556.1h0M856.7 567.6h0M896.6 592.9h0M842.1 611h0M776.3 635.4h0M854.9 571.3h0M848.9 639.7h0M787.4 643.9h0M724.5 735.3h0M775.1 706.8h0M867.5 614.4h0M806.9 588.4h0M767.1 746.9h0M814.1 586.5h0M853.7 596.8h0M909.9 568.8h0M845.1 628.4h0M882.6 625.9h0M852.3 614.1h0M808.7 701.2h0M868.6 640.7h0M725.9 700.7h0M869.4 579.7h0M724.2 731.4h0M810.4 687.6h0M784.4 732.9h0M785.5 692.2h0M876 622.9h0M848 596.4h0M735.1 760.4h0M727.9 691.8h0M760.4 697.4h0M782.6 671.9h0M887.5 602.7h0M839.2 675.4h0M892.8 560h0M909.5 573.4h0M723.7 729h0M823.2 708.9h0M795.9 685.8h0M825.7 601h0M708.9 722.9h0M771.1 714.9h0M788.5 688.7h0M810.5 694.3h0M763.8 717.6h0M781.1 683.4h0M794.6 710h0M776.2 688h0M806.1 606.2h0M837.5 671.3h0M771.2 657.3h0M776.3 685.3h0M830.7 620.2h0M764.1 666.9h0M793.6 621.5h0M774.2 671.7h0M795.7 651.3h0M771.9 689.2h0M821.5 690h0M811.1 629.7h0M834 610.6h0M870.6 633.4h0M852.3 593.4h0M763.2 669.8h0M795.7 677.5h0M872.7 586.4h0M816 691.1h0M818.8 618.8h0M774.4 692.4h0M818.9 696.6h0M813.2 700.3h0M868.3 605.1h0M756.9 723.1h0M854 597.1h0M858.3 606.9h0M853.8 611.2h0M819 636.4h0M779.1 638.9h0M791.1 704.7h0M818.5 684.5h0M802.2 619.1h0M826.2 670.3h0M837 656h0M822.3 594.4h0M852.1 627.1h0M796 629.7h0M801.2 633.5h0M842.9 650.4h0M777.9 639.6h0M786 646.7h0M801.5 632.2h0M756.6 693.8h0M778.4 665.3h0M843.2 613.1h0M795.2 628.3h0M830.1 641.1h0M842.4 648.7h0M771.8 674h0M873.3 617.1h0M867.6 623.6h0M831.4 593.5h0M800.9 701.5h0M791.8 641.2h0M876.1 616.4h0M827.5 614.8h0M849.5 659.1h0M841.7 626h0M822.1 616.6h0M855.7 641.4h0M841.3 633.2h0M853.8 632.4h0M790.9 668.4h0M840.4 622.6h0M811.1 642.2h0M868.4 593.3h0M833.9 586.3h0M817.1 642.5h0M815.3 649.9h0M789.2 670.3h0M846.5 658.6h0M804.7 618.1h0M828.1 646.6h0M872.3 588.1h0M824.2 668.5h0M865.7 597.3h0M810.7 651.5h0M873.9 600.3h0M847.6 655.4h0M761.5 663.9h0M838.8 666.6h0M855.3 599.9h0M773.7 658.7h0M826.2 683.9h0M847.2 608.8h0M859.2 642.3h0M812.1 688.2h0M769.6 657h0M748.4 700.8h0M789 674h0M795 674.1h0M799.8 692h0M842.4 642.6h0M783.5 658.6h0M788.8 679.5h0M870.7 576.9h0M755.3 708.3h0M767 705.1h0M766.3 720h0M821.2 633.5h0M833.3 615h0M827 686.7h0M825.3 616.4h0M753.8 717.3h0M793 671.7h0M792.8 712.8h0M841.7 592.2h0M803.9 694.1h0M824.2 680.1h0M851.2 658.7h0M753.6 706.7h0M831.8 615.2h0M873.6 628.3h0M833.6 608.2h0M802 642.3h0M782.1 690.1h0M853 616h0M844 597.5h0M793.7 647.1h0M825.2 625.8h0M818.6 652.4h0M782 663.8h0M774.3 657.3h0M829.3 600.7h0M831.7 654.3h0M802.1 621.4h0M840 601.2h0M828.7 615h0M787.6 638.9h0M848.8 578.7h0M768.1 653.8h0M792.3 640.5h0M758.7 690.1h0M824.9 624.9h0M860.1 582.1h0M805 690.9h0M842.3 594.2h0M802.1 688.8h0M866.4 592.2h0M809 613.3h0M861.4 614.7h0M755.9 718.4h0M823 683.4h0M868.2 632.2h0M843.9 595.5h0M875 602.5h0M867.7 580.9h0M843.9 670.9h0M809.4 653.5h0M864.7 629.2h0M863.3 609h0M827.4 626.5h0M826.3 679h0M861.2 631.4h0M786.2 647.9h0M852.7 624.4h0M881.4 607.9h0M780 707.4h0M789.9 634.9h0M787.9 688.1h0M825.5 629.4h0M822.6 639h0M806.4 603.1h0M828.4 640.3h0M816.6 618h0M812 635h0M873.2 613.6h0M861.7 578h0M825.9 595.3h0M853.8 570.7h0M844.8 626.6h0M819 586.8h0M809.5 631h0M829.8 616.9h0M825.3 592.8h0M803.8 640.3h0M829.8 643.3h0M814.2 606.1h0M826.4 622.7h0M838.4 615h0M870 571.3h0M818.4 617.1h0M866.9 584.1h0M824.2 605.1h0M842.3 591.4h0M855.9 632.1h0M845.5 602.7h0M842.8 593.8h0M864.9 576.2h0M826.1 582.8h0M813.1 607.4h0M876.9 603.6h0M850.1 597.5h0M846.3 625.4h0M828.7 628.8h0M817.7 634.3h0M844.2 583.2h0M832.3 593.6h0M871.5 580.5h0M850.7 579.8h0M868.6 592.5h0M872.3 607h0M822.2 589.6h0M840.9 603.7h0M849.2 596.9h0M858.8 589.9h0M820.8 639.3h0M809.1 620.1h0M837.8 617.8h0M849.8 565.6h0M813.4 632.5h0M855.4 568h0M835.4 613.4h0M817 582.4h0M810.8 600.3h0M831.6 602.8h0M868.9 588.8h0M850.5 610.4h0M855.9 615.6h0M813.5 596.1h0M801.3 620.4h0M811.4 632.6h0M815.1 592.5h0M836 597h0M871.8 569h0M854.4 614.9h0M833.2 571.6h0M827.6 615h0M871.7 590h0M868.8 619.4h0M869.4 615.9h0M843.8 608.4h0M831.6 602.6h0M858.2 621.3h0M856.3 629h0M853.5 619.2h0M855.4 575.3h0M837.3 572.6h0M806.3 600.2h0M819.1 620.1h0M813 624.2h0M860.2 609.6h0M804.4 603.6h0M812.7 633h0M826.8 619h0M834.4 614.1h0M818 626.8h0M869.6 605.2h0M852.4 604h0M819.3 604.8h0M829.8 622.4h0M839.1 598.1h0M850.1 566.9h0M877.2 591.3h0M849.1 625.5h0M814 620.1h0M834.5 572.1h0M825.2 605.4h0M798.9 624h0M826.7 596.1h0" stroke="#000" stroke-width="6.6" stroke-linecap="round" fill="none"/>
<polygon points="557.6,853 574.1,839.8 590.6,826.6 607.2,813.5 623.7,800.3 640.2,787.1 656.8,773.9 673.3,760.7 689.8,747.6 706.4,734.4 722.9,721.1 739.5,707.9 756,694.6 772.5,681.3 789.1,667.9 805.6,654.2 822.1,640.4 838.7,626.5 855.2,612.4 871.7,598.2 888.3,584 904.8,569.8 921.3,555.5 937.9,541.3 954.4,527 954.4,537.5 937.9,550.7 921.3,563.9 904.8,577.1 888.3,590.3 871.7,603.5 855.2,616.8 838.7,630.2 822.1,643.6 805.6,657.2 789.1,671.1 772.5,685.1 756,699.2 739.5,713.4 722.9,727.6 706.4,741.8 689.8,756.1 673.3,770.3 656.8,784.6 640.2,798.8 623.7,813.1 607.2,827.4 590.6,841.6 574.1,855.9 557.6,870.2" fill="#999" fill-opacity="0.4"/>
<line x1="557.6" y1="861.6" x2="954.4" y2="532.2" stroke="#2f63f7" stroke-width="2.4" stroke-linecap="butt"/>
<rect x="537.7" y="498.6" width="436.6" height="393.1" fill="none" stroke="#868686" stroke-width="1.7"/>
<path d="M643.8 891.7v3.6M780.5 891.7v3.6M917.3 891.7v3.6M537.7 851.4h-3.6M537.7 773.9h-3.6M537.7 696.5h-3.6M537.7 619h-3.6M537.7 541.9h-3.6" stroke="#3a3a3a" stroke-width="1.9" fill="none"/>
<text class="s" x="643.8" y="907.7" font-size="11.7" text-anchor="middle" fill="#555" stroke="#555" stroke-width="0.12">2</text>
<text class="s" x="780.5" y="907.7" font-size="11.7" text-anchor="middle" fill="#555" stroke="#555" stroke-width="0.12">4</text>
<text class="s" x="917.3" y="907.7" font-size="11.7" text-anchor="middle" fill="#555" stroke="#555" stroke-width="0.12">6</text>
<text class="s" x="531.1" y="855.6" font-size="11.7" text-anchor="end" fill="#555" stroke="#555" stroke-width="0.12">1</text>
<text class="s" x="531.1" y="778.1" font-size="11.7" text-anchor="end" fill="#555" stroke="#555" stroke-width="0.12">2</text>
<text class="s" x="531.1" y="700.7" font-size="11.7" text-anchor="end" fill="#555" stroke="#555" stroke-width="0.12">3</text>
<text class="s" x="531.1" y="623.2" font-size="11.7" text-anchor="end" fill="#555" stroke="#555" stroke-width="0.12">4</text>
<text class="s" x="531.1" y="546.1" font-size="11.7" text-anchor="end" fill="#555" stroke="#555" stroke-width="0.12">5</text>
<text class="s" x="756" y="924.7" font-size="14.6" text-anchor="middle" stroke="#000" stroke-width="0.42">F2R expression</text>
<text class="s" x="517.5" y="695.2" font-size="14.6" text-anchor="middle" stroke="#000" stroke-width="0.42" transform="rotate(-90 517.5 695.2)">LRRC32 expression</text>
<text class="s" x="557.6" y="532.3" font-size="14.5" stroke="#000" stroke-width="0.42"><tspan font-style="italic">R</tspan> = 0.78, <tspan font-style="italic">p</tspan> &lt; 2.2e−16</text>
<path d="M1069.3 498.6V891.7M1205.8 498.6V891.7M1342.7 498.6V891.7" stroke="#f3f3f3" stroke-width="0.8" fill="none"/>
<path d="M1031.3 555.1H1468.1M1031.3 652H1468.1M1031.3 749H1468.1M1031.3 846.2H1468.1" stroke="#f3f3f3" stroke-width="0.8" fill="none"/>
<path d="M1137.6 498.6V891.7M1274.1 498.6V891.7M1410.9 498.6V891.7" stroke="#ebebeb" stroke-width="1.3" fill="none"/>
<path d="M1031.3 797.6H1468.1M1031.3 700.6H1468.1M1031.3 603.8H1468.1M1031.3 506.5H1468.1" stroke="#ebebeb" stroke-width="1.3" fill="none"/>
<path d="M1345.7 516.2h0M1409.7 520.6h0M1430.2 518.2h0M1436 521.7h0M1448.3 527.9h0M1444.2 537.5h0M1412 529.3h0M1410.6 532.8h0M1392.2 533.4h0M1353 540.4h0M1369.7 542.2h0M1377 542.2h0M1383.4 542.2h0M1389.2 545.4h0M1396 550.4h0M1402.7 544.5h0M1300.7 559.7h0M1410.6 568.5h0M1412.9 581.3h0M1396 588.1h0M1388.1 600.3h0M1376.1 606.2h0M1377 617h0M1232 600.6h0M1177.1 631.6h0M1198.4 638.9h0M1220.3 629.3h0M1223.6 630.1h0M1249 636.9h0M1167.7 664.3h0M1441.6 643.6h0M1378.4 645h0M1367.3 643.3h0M1370.3 658.8h0M1358.6 663.5h0M1360 703.8h0M1348.3 692.1h0M1373.2 732.1h0M1363.2 757.3h0M1346.9 758.4h0M1338.4 729.2h0M1318.5 741.5h0M1312.7 753.5h0M1299.5 749.1h0M1293.1 749.7h0M1310.3 728.6h0M1273.2 755.8h0M1269.4 758.7h0M1269.4 773.3h0M1262.1 776.8h0M1248.4 782.4h0M1248.4 792.9h0M1237.3 792.9h0M1233.8 789.1h0M1213.9 790.6h0M1200.2 793.8h0M1182.6 796.4h0M1178.3 793.8h0M1172.4 786.5h0M1164.2 784.1h0M1156.9 779.2h0M1149 794.1h0M1140.9 793.8h0M1130.6 792.3h0M1130.6 788.5h0M1121.3 790h0M1069.3 794.1h0M1050.8 791.4h0M1097.3 780.1h0M1105.8 786.2h0M1122.2 768.9h0M1137.6 761.4h0M1145.2 745.9h0M1142 736.2h0M1156.3 733.6h0M1167.4 732.4h0M1172.4 732.1h0M1155.2 764.3h0M1158.7 694.4h0M1178.3 704.7h0M1187 681h0M1189.9 687.7h0M1188.5 696.5h0M1208.9 674.6h0M1209.2 681.9h0M1187 706.7h0M1194.3 712.5h0M1197.8 722.8h0M1202.5 731h0M1194.3 741.2h0M1303.5 605.1h0M1309.7 719.8h0M1242.4 660.2h0M1389.2 600.2h0M1291.6 677h0M1331.7 689.3h0M1293 715.6h0M1384.8 543.1h0M1370.5 581.5h0M1302.9 639.1h0M1389.3 618.1h0M1203.5 743h0M1362.9 661.1h0M1342.4 576h0M1296.7 718.8h0M1326.3 622.7h0M1376.2 574.6h0M1303.8 629.4h0M1371.8 548.1h0M1294.4 673h0M1292.9 650.4h0M1358.9 583.6h0M1288.8 626.7h0M1342.7 682.1h0M1372.9 564.7h0M1271 733.3h0M1295.2 627.2h0M1252.7 691.7h0M1214.4 735.4h0M1268.2 672h0M1289.1 736.5h0M1342.8 589.3h0M1317.2 697h0M1297.5 654.9h0M1241.9 732.5h0M1248.1 687.8h0M1296.1 723.3h0M1330.2 624.7h0M1409.7 548.1h0M1242.9 670.7h0M1269.5 646h0M1190.4 740.8h0M1346 653h0M1348.4 636.8h0M1321.6 660h0M1194.8 759.5h0M1371.6 548.6h0M1405.6 564h0M1409.1 579.1h0M1324.6 576.9h0M1244.7 754.8h0M1332.1 634.7h0M1335.2 680.4h0M1320.3 691.5h0M1302.9 685.3h0M1210.2 763.6h0M1234.2 735.9h0M1216.7 745.7h0M1367.8 574.8h0M1345.5 673.8h0M1343.7 650.5h0M1370.3 590.2h0M1201.2 741.5h0M1342.1 583.1h0M1235.3 710.4h0M1189 756.9h0M1264.3 742h0M1267.2 621.1h0M1279.8 714.2h0M1213.6 747.9h0M1354.5 650.2h0M1250.1 660.1h0M1219.7 768.3h0M1226.9 738.7h0M1225.7 749.9h0M1304 663.3h0M1318.7 573.1h0M1276.5 634.3h0M1312.5 679.9h0M1250.8 662.7h0M1284.1 679.3h0M1198.3 725.4h0M1411.8 579.9h0M1325.5 570.8h0M1282.3 676.3h0M1349.7 669.1h0M1329.2 578.9h0M1227.2 768.7h0M1273 684.9h0M1250.8 705.9h0M1284 708.9h0M1310.5 598.1h0M1231.4 776.3h0M1297.8 655.6h0M1282.4 635.4h0M1406.2 557h0M1311.6 709.2h0M1287.7 709.7h0M1331.7 679.5h0M1310.5 699.4h0M1314.1 670.4h0M1295.8 721.5h0M1280.7 705.8h0M1350 601.3h0M1384.5 620.7h0M1254 726.1h0M1257.3 741.6h0M1279.2 628.5h0M1255.4 697.9h0M1254.1 703.5h0M1301.5 618.1h0M1391.1 540.5h0M1232.9 701.4h0M1275.4 656.9h0M1228.4 767.5h0M1283.1 635.9h0M1299.4 598.6h0M1323.7 673.6h0M1338.3 652.3h0M1309.8 653.2h0M1242 745.5h0M1250.4 763h0M1335.7 607.3h0M1293.6 683.7h0M1288.6 731h0M1260.1 630.2h0M1325.3 600.3h0M1192.6 771.4h0M1342.7 629.9h0M1355.1 555.2h0M1284.6 616.8h0M1341.9 679.8h0M1322.5 609.3h0M1221.5 772.7h0M1360.5 611.4h0M1347.1 582.1h0M1296.4 694.4h0M1279.3 676.4h0M1280.6 664.6h0M1244.7 744.7h0M1300.7 694.8h0M1385.1 540.3h0M1354.4 662.8h0M1281.2 706.1h0M1385.2 541.3h0M1252.4 685.3h0M1242.1 736h0M1276 653.3h0M1379.2 548h0M1238.7 745.6h0M1383 612.4h0M1278 614.2h0M1268.4 715h0M1326 589.2h0M1338.1 679.7h0M1382.6 537.6h0M1200.7 772h0M1252.1 740.7h0M1197.2 781.3h0M1377.8 641h0M1283.3 680.3h0M1315.5 675.8h0M1320.8 646.7h0M1376.2 601.7h0M1242.3 696.7h0M1297.5 697.7h0M1318.2 685.4h0M1287.3 618.2h0M1280.6 677.9h0M1357.7 569.2h0M1317.6 702.2h0M1354 565.9h0M1276.7 612.7h0M1284.8 694h0M1287.2 719.1h0M1206.6 765.2h0M1411.6 540.5h0M1397.7 596.1h0M1369.6 626.3h0M1234.1 702.3h0M1414.5 552.2h0M1369 613.4h0M1385 616.7h0M1303.2 625.1h0M1313.6 633.9h0M1357.5 595.4h0M1337.4 632.3h0M1297.4 710.5h0M1300.4 715.8h0M1366.2 591.3h0M1334 622.7h0M1336.4 583.8h0M1289.5 720.1h0M1283.3 627.6h0M1405.8 581.7h0M1303.9 712.8h0M1248.9 644.6h0M1233.8 682.8h0M1401.7 575.9h0M1366.7 596.5h0M1333.4 609.9h0M1353.3 654.7h0M1258.5 724.9h0M1303.8 635.4h0M1372.7 595.6h0M1247.1 745.4h0M1325.3 696.8h0M1247.1 717.4h0M1366.3 621.2h0M1340.1 567.7h0M1217.7 693.2h0M1295.3 615.2h0M1352 622.3h0M1248.9 709.4h0M1261.5 715.4h0M1205.1 718.6h0M1347.9 630h0M1309.8 650.6h0M1269.2 656.3h0M1247.4 762h0M1276.2 680h0M1411.2 544.3h0M1359.3 593.9h0M1264.2 681.6h0M1252.8 667.9h0M1300.5 636.3h0M1259.4 668h0M1310.4 609.6h0M1341.3 594.5h0M1329.2 630.2h0M1279.6 681h0M1344 587.7h0M1311.3 647.3h0M1267.8 666.1h0M1314.7 678.2h0M1286.1 650.4h0M1349.8 592h0M1269.2 698.3h0M1258.6 652.8h0M1286.6 645.9h0M1354 620.2h0M1283.4 678.1h0M1318.6 670.3h0M1326.3 678.3h0M1258.6 703.1h0M1305.1 649.3h0M1336.3 644.3h0M1336.1 659h0M1317.9 646.4h0M1301.5 666.9h0M1330.6 657h0M1311.8 627.2h0M1251.7 686.3h0M1310 646h0M1301.5 647.9h0M1270.6 716h0M1263.1 691.9h0M1316.3 606h0M1322.7 641.7h0M1315.5 685.8h0M1281.2 709h0M1306.4 643.2h0M1301 679.4h0M1343.5 586.9h0M1351.4 580.8h0M1325.1 663.5h0M1310.4 614.6h0M1250.6 682h0M1340.5 661.1h0M1268.5 712.8h0M1306.3 701.6h0M1256.3 677.1h0M1295.9 618.3h0M1362.8 626.4h0M1377 587.7h0M1308.6 695.4h0M1298.1 675.2h0M1320.1 655.8h0M1305.5 602.5h0M1264.5 699.9h0M1303.3 695.5h0M1285.7 682.7h0M1359.9 581h0M1301.7 616.3h0M1297.6 626.8h0M1341.3 585.2h0M1273.9 684.5h0M1285.5 668h0M1255.6 687.6h0M1294.9 699.3h0M1303.8 674.4h0M1319.8 686.6h0M1317.6 593.5h0M1276.1 694.3h0M1367.7 588h0M1269 720.8h0M1362.7 593.2h0M1364.8 604.2h0M1268.2 675h0M1287.3 707.7h0M1293.1 688.5h0M1325.8 661.7h0M1271.7 691.2h0M1309.6 605.3h0M1339.7 603.9h0M1311.7 618.3h0M1281.4 629.5h0M1237.5 695.8h0M1322 687.4h0M1253 694.5h0M1359.2 609.5h0M1271.5 670h0M1276.9 652.5h0M1242.4 707.3h0M1285.3 682.5h0M1304.1 704.5h0M1299.5 643.5h0M1334.4 654h0M1337.2 598.1h0M1337.9 658.6h0M1301 660.9h0M1336.2 613.2h0M1365.2 580.4h0M1319.3 690.9h0M1246.7 703.9h0M1252 701.9h0M1334 643.8h0M1293.4 654.6h0M1315.2 625.7h0M1307.4 693.8h0M1373.9 607.3h0M1301.8 633.3h0M1330.8 607h0M1353.3 601h0M1369 579.6h0M1277 648.1h0M1364.4 616.3h0M1247.4 719.9h0M1362.9 591.7h0M1336.5 653.3h0M1374.9 587.1h0M1304.4 662.7h0M1350.6 651.4h0M1296.2 618.7h0M1279.6 710.3h0M1364.9 621.1h0M1317.8 618.2h0M1316.7 667.1h0M1278.6 678.8h0M1367 628.5h0M1331.4 600.2h0M1286.2 676.4h0M1265.1 688.4h0M1356 576.9h0M1332.4 654.8h0M1344.2 596.9h0M1314.3 671.2h0M1338.2 604.4h0M1332.6 652.3h0M1259 695.3h0M1297.3 636.4h0M1273.6 684.3h0M1324.6 610.1h0M1245.6 731.5h0M1279.7 701.9h0M1352.8 639.2h0M1309.6 660h0M1294.2 701.1h0M1275.7 679.2h0M1358.6 576h0M1227.7 773.1h0M1236.9 743.4h0M1199.4 769.3h0M1241.4 754.5h0M1224.2 786.5h0M1250.2 773.8h0M1237 754.3h0M1241.9 753.4h0M1187.8 760.1h0M1205.1 745.2h0M1194.3 778.4h0M1222.2 777.8h0M1204.8 755.3h0M1247.1 761.4h0M1189.1 754.4h0M1172.7 767.6h0M1220.7 750.2h0M1178.6 766.7h0M1195 785.4h0M1241.6 760.2h0M1184.7 773.6h0M1233.2 755.9h0M1201.4 790.4h0M1232.7 764.5h0M1213.5 746.6h0M1218.7 748.8h0M1208 778.3h0M1239.1 759.9h0M1218.9 763h0M1232.8 765.1h0M1203 786.5h0M1251.5 758h0M1205 769.3h0M1243.3 778.2h0M1216.1 756h0M1174.6 775.9h0M1200.3 787.8h0M1208.8 777.8h0M1192.1 766.7h0M1225.7 742.6h0M1235.5 777.9h0M1222.7 783.8h0M1201.7 773.6h0M1180.7 789.4h0M1217.9 744.9h0M1239 775.5h0M1195 753.7h0M1236.6 767.8h0M1210.9 761.2h0M1262.2 754.1h0M1220.2 748.9h0M1215.1 743.1h0M1207.1 775.7h0M1208.7 771.2h0M1219.1 785.3h0M1219.7 788.1h0M1182.9 770.4h0M1203.7 751.8h0M1223.8 746.6h0M1249.8 750.1h0M1339.6 552.7h0M1290.2 597.1h0M1352.6 594.6h0M1311.5 612.2h0M1300.9 628.8h0M1332.2 599.6h0M1356.1 594.3h0M1338.2 624.6h0M1334.9 577.8h0M1350.5 600.1h0M1317 603.4h0M1336.2 627h0M1331.6 567.7h0M1314.3 570.7h0M1329 590.8h0M1318.2 635.9h0M1366.4 581.6h0M1338.6 570.4h0M1324.3 613.1h0M1351.5 589.3h0M1369.2 571.1h0M1330.2 630.7h0M1329.7 624.6h0M1305.7 603.1h0M1288.9 602.1h0M1309.5 599.3h0M1355.6 558.9h0M1338.9 565h0M1351.8 565.5h0M1342 613.2h0M1345.3 555.1h0M1325.3 609.2h0M1342.4 562h0M1351.8 613h0M1296.6 596.9h0M1359.9 570.3h0M1339.7 564h0M1341.5 569.7h0M1316.5 631.4h0M1344.4 597.6h0M1289.3 606.5h0M1311 633.2h0M1332.6 622.5h0M1317.4 610h0M1314.7 611.6h0M1350.9 593.4h0M1336 568.4h0M1334.6 553.2h0M1315.6 612.9h0M1359.6 593.3h0M1316.5 576.6h0M1368.1 586.9h0M1304 620.8h0M1334.7 564.3h0M1328 588.3h0M1321.2 631.8h0M1313.1 569h0M1355.7 585.1h0M1340.3 571.7h0M1319.1 575.4h0M1325.4 583.2h0M1308.5 593.6h0M1313.9 583.5h0M1356.4 558.6h0M1320.2 612.7h0M1289.5 602.7h0M1342.3 586.9h0M1360.5 585.5h0M1321.4 604.6h0M1312 615.2h0M1301.6 594.6h0M1337.5 574.9h0M1325.4 583.6h0M1310 620.2h0M1318.3 626.3h0M1349.8 564h0M1297 616h0M1341.4 570.3h0M1337 620.2h0M1348.7 617.5h0M1354.2 550.2h0M1342.2 619.7h0M1293.7 630.1h0M1325.8 597.1h0M1315.7 625.3h0M1332.2 592.5h0M1330.2 610.8h0M1307 603.3h0M1290.8 611.7h0M1349.2 604.2h0M1333.9 616h0M1338.7 611.4h0M1289 624.5h0M1340.9 564.2h0M1331.5 561h0" stroke="#000" stroke-width="6.6" stroke-linecap="round" fill="none"/>
<polygon points="1051.1,853.3 1067.7,839.8 1084.2,826.3 1100.7,812.8 1117.2,799.3 1133.8,785.8 1150.3,772.3 1166.8,758.7 1183.3,745.2 1199.8,731.7 1216.4,718.1 1232.9,704.5 1249.4,690.9 1265.9,677.3 1282.5,663.6 1299,649.7 1315.5,635.6 1332,621.4 1348.6,607 1365.1,592.5 1381.6,577.9 1398.1,563.4 1414.6,548.8 1431.2,534.2 1447.7,519.6 1447.7,529.7 1431.2,543.2 1414.6,556.7 1398.1,570.3 1381.6,583.9 1365.1,597.4 1348.6,611.1 1332,624.8 1315.5,638.7 1299,652.7 1282.5,667 1265.9,681.4 1249.4,695.9 1232.9,710.4 1216.4,725 1199.8,739.5 1183.3,754.1 1166.8,768.7 1150.3,783.3 1133.8,797.9 1117.2,812.5 1100.7,827.1 1084.2,841.8 1067.7,856.4 1051.1,871" fill="#999" fill-opacity="0.4"/>
<line x1="1051.1" y1="862.2" x2="1447.7" y2="524.6" stroke="#2f63f7" stroke-width="2.4" stroke-linecap="butt"/>
<rect x="1031.3" y="498.6" width="436.8" height="393.1" fill="none" stroke="#868686" stroke-width="1.7"/>
<path d="M1137.6 891.7v3.6M1274.1 891.7v3.6M1410.9 891.7v3.6M1031.3 797.6h-3.6M1031.3 700.6h-3.6M1031.3 603.8h-3.6M1031.3 506.5h-3.6" stroke="#3a3a3a" stroke-width="1.9" fill="none"/>
<text class="s" x="1137.6" y="907.7" font-size="11.7" text-anchor="middle" fill="#555" stroke="#555" stroke-width="0.12">2</text>
<text class="s" x="1274.1" y="907.7" font-size="11.7" text-anchor="middle" fill="#555" stroke="#555" stroke-width="0.12">4</text>
<text class="s" x="1410.9" y="907.7" font-size="11.7" text-anchor="middle" fill="#555" stroke="#555" stroke-width="0.12">6</text>
<text class="s" x="1024.7" y="801.8" font-size="11.7" text-anchor="end" fill="#555" stroke="#555" stroke-width="0.12">0</text>
<text class="s" x="1024.7" y="704.8" font-size="11.7" text-anchor="end" fill="#555" stroke="#555" stroke-width="0.12">2</text>
<text class="s" x="1024.7" y="608" font-size="11.7" text-anchor="end" fill="#555" stroke="#555" stroke-width="0.12">4</text>
<text class="s" x="1024.7" y="510.7" font-size="11.7" text-anchor="end" fill="#555" stroke="#555" stroke-width="0.12">6</text>
<text class="s" x="1249.7" y="924.7" font-size="14.6" text-anchor="middle" stroke="#000" stroke-width="0.42">F2R expression</text>
<text class="s" x="1010.2" y="695.2" font-size="14.6" text-anchor="middle" stroke="#000" stroke-width="0.42" transform="rotate(-90 1010.2 695.2)">F2RL2 expression</text>
<text class="s" x="1051.1" y="532.3" font-size="14.5" stroke="#000" stroke-width="0.42"><tspan font-style="italic">R</tspan> = 0.8, <tspan font-style="italic">p</tspan> &lt; 2.2e−16</text>
<path d="M1571.4 498.6V891.7M1708.2 498.6V891.7M1844.7 498.6V891.7" stroke="#f3f3f3" stroke-width="0.8" fill="none"/>
<path d="M1533.7 519.6H1970M1533.7 595.8H1970M1533.7 672.1H1970M1533.7 748.4H1970M1533.7 824.9H1970" stroke="#f3f3f3" stroke-width="0.8" fill="none"/>
<path d="M1639.8 498.6V891.7M1776.5 498.6V891.7M1913 498.6V891.7" stroke="#ebebeb" stroke-width="1.3" fill="none"/>
<path d="M1533.7 863H1970M1533.7 786.5H1970M1533.7 710.2H1970M1533.7 633.9H1970M1533.7 557.7H1970" stroke="#ebebeb" stroke-width="1.3" fill="none"/>
<path d="M1799 516.2h0M1847.5 531.4h0M1927.3 553.3h0M1764.2 571.4h0M1861.8 564.1h0M1865.4 569.4h0M1872.1 571.7h0M1845.5 572.9h0M1833.8 574.3h0M1809.2 577h0M1904.8 569.9h0M1912.7 567.9h0M1913 571.4h0M1915.3 578.7h0M1886.4 578.1h0M1892.2 579.6h0M1877.9 582.5h0M1869.7 584h0M1860.1 583.1h0M1838.5 585.4h0M1820.1 588.6h0M1828.8 592.2h0M1804.9 598.9h0M1811.3 603.3h0M1946.3 600h0M1932.6 606.2h0M1937.8 614.4h0M1914.2 624.9h0M1914.5 631.3h0M1950.1 641.5h0M1943.7 661.7h0M1897.5 634.5h0M1887.3 652.1h0M1885.8 669.6h0M1878.5 681h0M1866.2 688.3h0M1855.1 687.7h0M1847.8 687.7h0M1839.9 702.9h0M1828.8 716.1h0M1822.1 724.2h0M1820.1 723.7h0M1818.6 774.5h0M1799.6 736.5h0M1796.1 742.6h0M1787.9 763.7h0M1785.9 749.7h0M1762.2 770.1h0M1758.1 786.5h0M1754.3 776.8h0M1735.3 791.4h0M1728.9 814.8h0M1731.8 806.1h0M1724.2 800.2h0M1712.8 819.2h0M1687.7 814.8h0M1680.4 815.4h0M1691.5 808.1h0M1692.9 803.1h0M1698.2 797.9h0M1642.7 814.8h0M1632.2 809.6h0M1621.9 814.8h0M1599.4 820.4h0M1571.7 835h0M1553 828.9h0M1607.6 804.3h0M1624.3 795h0M1624 778.9h0M1630.1 788.5h0M1639.2 771.9h0M1643.3 780.6h0M1633 802.3h0M1644.1 803.7h0M1647.6 803.1h0M1651.2 796.4h0M1657.9 800.2h0M1661.4 799.3h0M1657.6 647.1h0M1706.7 652.3h0M1715.7 670.8h0M1743.5 644.5h0M1741.2 651.8h0M1741.7 654.7h0M1755.8 653.8h0M1670.1 715.8h0M1685.1 725.1h0M1700.2 714.6h0M1660.8 739.4h0M1679.2 733h0M1674.8 738.8h0M1676.3 745.3h0M1665.8 772.5h0M1673.4 759.3h0M1675.4 784.1h0M1673.9 796.4h0M1668.7 790.6h0M1755.7 704.8h0M1826.6 691.9h0M1712.6 763.9h0M1720.1 765.6h0M1803.3 710.6h0M1768.5 753.6h0M1790.7 650.1h0M1880.9 596.9h0M1808.2 704.6h0M1694.1 757.3h0M1757.6 700.8h0M1823.4 621.2h0M1786.9 721.2h0M1799.6 685.2h0M1770.7 686h0M1710.9 741.8h0M1810.9 640.8h0M1781.9 741.3h0M1754.2 728.4h0M1877.8 658.4h0M1711 730.8h0M1813.4 694.7h0M1713.1 779.4h0M1721.4 758.9h0M1772.5 693.1h0M1701.7 763h0M1801.1 655.1h0M1685.5 772.5h0M1817.4 683.2h0M1834.6 665.1h0M1697.4 764h0M1827.5 648.2h0M1793.6 649.4h0M1726 705.8h0M1870.6 619.6h0M1766.4 696.7h0M1689 790.1h0M1855.7 681.2h0M1798.6 721.6h0M1753.4 693.7h0M1777 723.3h0M1781.4 749.4h0M1830.6 657.9h0M1875.7 623.5h0M1859 666.3h0M1776.7 684h0M1718.9 776.5h0M1708.3 752.1h0M1863.3 651.7h0M1780 655.7h0M1740.4 758h0M1707.6 774.2h0M1830.5 634h0M1874.4 662.1h0M1790 672.2h0M1750.9 675.8h0M1853.6 649h0M1873.4 599.8h0M1758.7 674.5h0M1676.7 786h0M1808.4 730.5h0M1801.2 671.7h0M1796.4 645.1h0M1787.5 715.2h0M1878.6 632.8h0M1729.8 728.4h0M1744.2 682.8h0M1740.6 756.6h0M1767.2 675.4h0M1905.2 596.7h0M1801.5 634.6h0M1795.7 701h0M1817.3 698.1h0M1828.9 676.7h0M1713.4 778.7h0M1803.9 667.2h0M1808.9 727.4h0M1783.1 651.4h0M1871.2 643.7h0M1841.8 616.2h0M1884.2 595.6h0M1834.2 652.1h0M1774.4 720.6h0M1722.3 723.2h0M1848.6 620.9h0M1835.3 617.3h0M1707.7 779.1h0M1778 698.6h0M1855.1 686h0M1905.9 598.3h0M1774.2 673.9h0M1695.8 755.7h0M1806.5 708.6h0M1756.9 707.3h0M1804 687.3h0M1708.1 781.6h0M1779.3 707h0M1680.6 786.7h0M1839.7 672h0M1813.7 711.9h0M1851.1 651.2h0M1794.3 649.6h0M1717.1 733.3h0M1851.1 639.1h0M1836.3 639.1h0M1781 696.7h0M1684.6 765.6h0M1827.7 683.1h0M1901.9 593.5h0M1751 742.5h0M1841.7 612h0M1771 708.4h0M1846.4 658.3h0M1699 778.1h0M1781.7 676.8h0M1800.8 715.7h0M1825.3 691.4h0M1762.9 762h0M1724.8 703.1h0M1844.3 622h0M1861.8 638.5h0M1883.7 628.9h0M1893.8 594.2h0M1859.6 651.3h0M1811.4 728.7h0M1684.7 794.6h0M1847.6 607.2h0M1777.7 723.5h0M1830.8 692.4h0M1843.4 698.2h0M1825.4 687.3h0M1798.1 667.6h0M1741.3 724.1h0M1797 670.2h0M1876 601.6h0M1772.5 698.5h0M1759.4 760.7h0M1769.9 752.6h0M1826 629.2h0M1761.5 762.4h0M1841.8 640.6h0M1739.4 743.5h0M1755.7 750.9h0M1865.5 654.5h0M1738.5 706.7h0M1688.5 786.7h0M1792.5 717.7h0M1830.1 678h0M1754.2 746h0M1768.7 660.1h0M1683.9 790.4h0M1740.9 727.1h0M1884.2 609.7h0M1782.2 675.1h0M1720.5 788.6h0M1866.7 651.4h0M1885.4 625.5h0M1770.4 663.4h0M1828.8 619.2h0M1807 669.3h0M1873.4 606.1h0M1687.6 790.7h0M1847.2 691.9h0M1716.6 711.1h0M1686.3 771.5h0M1815.4 713.2h0M1687.2 777.2h0M1779.4 677.8h0M1722.1 772h0M1712.6 785.3h0M1695.2 765.9h0M1762.2 744.9h0M1844.9 684.3h0M1782.4 721.7h0M1848.3 685.5h0M1765.3 758.2h0M1892.7 637.3h0M1815.3 627h0M1702.5 735.1h0M1846.2 636.9h0M1763.1 693.4h0M1863.4 644.6h0M1776.7 738h0M1841.1 695.9h0M1896.4 610.3h0M1761.4 708.3h0M1691.9 745.9h0M1823.7 653h0M1884.3 613.1h0M1765.5 728.5h0M1707.6 750.9h0M1696.6 743.8h0M1713.8 791.1h0M1742.5 709.3h0M1704.4 791.4h0M1777 713.9h0M1824.1 649.4h0M1733.1 753.2h0M1881.5 628.8h0M1756.2 722.2h0M1848.5 653h0M1758.7 675h0M1867.2 657.3h0M1892 603h0M1766.7 698.2h0M1814.4 680.7h0M1851.5 633.7h0M1712.4 753.4h0M1723.4 784.9h0M1850.9 655.1h0M1740.9 720.4h0M1895 598.2h0M1750.5 704.7h0M1725.7 739.7h0M1802.4 680.4h0M1771.6 662.4h0M1739.5 768.4h0M1686.3 783.5h0M1800.5 729h0M1769.8 689.1h0M1856 644.7h0M1743.3 749.5h0M1831.3 676.2h0M1703.2 781.3h0M1755 687.3h0M1765.8 714.4h0M1798.5 740.2h0M1852.5 680.3h0M1730.1 757.6h0M1807.2 704.5h0M1729.3 753h0M1720.8 756.3h0M1732.9 737.1h0M1698 784.1h0M1805.7 651h0M1701.9 772.7h0M1847.3 635.7h0M1820.7 658.7h0M1837.6 637.4h0M1777.2 694.7h0M1719.7 731.4h0M1772.7 720.8h0M1721.4 742.8h0M1874.9 605.4h0M1853.5 646.8h0M1826.7 650.2h0M1731.8 710.5h0M1796.2 636.6h0M1785.1 657.3h0M1800.7 664.8h0M1817.9 654.4h0M1685.9 764.6h0M1843 668.1h0M1828.2 697.6h0M1844.3 673.3h0M1794.9 678.6h0M1733.8 723.6h0M1803.3 653.1h0M1747.7 708h0M1812.2 679.3h0M1734.7 734h0M1798.9 666.2h0M1747.1 718.5h0M1737.4 754h0M1729.8 748.3h0M1776.8 672.6h0M1743.4 729.2h0M1782.1 663.4h0M1766.8 683.6h0M1758.3 714.9h0M1765.6 679h0M1865.6 640.9h0M1808.2 694.7h0M1838.5 627.9h0M1832.9 665.4h0M1804.5 660.8h0M1736.5 715.2h0M1783.8 660.4h0M1800.9 688.7h0M1782.9 663.5h0M1730.3 726.1h0M1862.4 630.7h0M1840.3 656.1h0M1827.3 631.5h0M1736.4 731.6h0M1744.2 719.6h0M1830.9 672.3h0M1809.5 644h0M1767.2 723.4h0M1785.2 672.3h0M1766.4 693.9h0M1813.4 666.9h0M1765.7 738.8h0M1762.7 691.4h0M1842.1 670.8h0M1822.2 675.7h0M1851 640.5h0M1805.3 670.1h0M1810.2 712.2h0M1843.9 660.8h0M1737.2 748.3h0M1746.9 749.3h0M1747.2 724.3h0M1731.5 730.1h0M1757 741.3h0M1806.2 697.9h0M1860.5 636.2h0M1729.8 738.8h0M1758.8 728.5h0M1774.7 682.1h0M1840.4 633.7h0M1753.2 705h0M1777.1 688.7h0M1798.5 682.2h0M1739.2 752.7h0M1812.4 687.6h0M1850.7 642.9h0M1834.8 655.4h0M1813.1 680.4h0M1783.3 661h0M1766.7 688.6h0M1784 686h0M1775.7 687.8h0M1812.9 654.7h0M1813.7 677.4h0M1809.7 643.2h0M1832.4 674h0M1743.5 734.2h0M1806.2 657.4h0M1783.5 707.8h0M1738.9 738.6h0M1751.5 711.3h0M1765.8 714.8h0M1798.4 696.3h0M1796.4 696.5h0M1809.3 677h0M1866 636.6h0M1815 665.7h0M1849.3 625.6h0M1723.4 747.1h0M1860.8 625.2h0M1757.3 723.5h0M1839.9 643.9h0M1781.8 729.6h0M1776.8 736.2h0M1790.9 723.3h0M1747.7 727.9h0M1782.6 691h0M1862.4 642.9h0M1765.9 702.3h0M1838.4 657.7h0M1816.6 692.2h0M1785.9 658.3h0M1776.1 709.3h0M1757.4 747.5h0M1809.2 698h0M1802.4 660.3h0M1861.6 626h0M1863.7 639.2h0M1750.1 701.9h0M1821.3 669.6h0M1791.3 719.7h0M1754.3 690h0M1792.9 667.2h0M1784.7 697.9h0M1797.2 708.7h0M1758.8 694.1h0M1726.8 749.5h0M1818.5 659.7h0M1822.5 637.2h0M1846.7 645h0M1856.1 655.9h0M1821.3 693.6h0M1745.2 745.6h0M1840.5 627.9h0M1801.6 706.5h0M1830.8 636.6h0M1726.7 748.2h0M1814.2 694.3h0M1782.6 732.6h0M1853.9 630.2h0M1734.8 734.9h0M1767.5 674.4h0M1743.5 714.4h0M1791.7 720.8h0M1780.1 695h0M1781.3 706.3h0M1792.2 668h0M1824.4 640.3h0M1740.2 736.4h0M1796.4 708.2h0M1748.9 726h0M1826.4 688h0M1807.1 662.2h0M1827 692.3h0M1788.2 715.8h0M1780.9 691.6h0M1756.7 736.3h0M1743.9 705.9h0M1819 643.1h0M1852.7 657.5h0M1855.4 629.1h0M1860.1 649.9h0M1756.3 688.1h0M1766.5 690h0M1813.2 650.1h0M1780.6 668.9h0M1742.7 746.1h0M1791.8 691.8h0M1749.3 711.2h0M1753.7 693.6h0M1799.6 702.5h0M1811 666.6h0M1819.9 677.5h0M1736 710.7h0M1854.8 637.2h0M1782.4 698.7h0M1802.7 661.3h0M1813.2 683.7h0M1844.1 634.5h0M1797 722.6h0M1780.8 724.7h0M1759.2 734.9h0M1812.7 644.7h0M1749.9 718h0M1849.6 663.1h0M1877.3 634h0M1838.1 619.4h0M1825.4 660.7h0M1869.1 635.1h0M1844 657.6h0M1835.8 638.5h0M1876.3 623.8h0M1852.6 634.7h0M1851.9 641.9h0M1831.2 664.8h0M1824.4 646.5h0M1822.4 621.9h0M1808.5 642.6h0M1817.5 641.5h0M1846.5 616.8h0M1840.8 631.6h0M1841.2 621.1h0M1870.9 602.4h0M1822.2 666.4h0M1850.3 651.3h0M1833.3 670.6h0M1824.8 661.2h0M1824.7 636.7h0M1805.2 647.4h0M1869 616.3h0M1810 658.6h0M1860 642.9h0M1870.4 607.8h0M1847.4 625.3h0M1861.5 633.5h0M1871.9 616.6h0M1843 627.4h0M1865.9 648.9h0M1820 656.2h0M1864.7 631h0M1836.5 628.7h0M1859.5 625.6h0M1823.6 630.2h0M1834 666h0M1853.4 650.8h0M1812.8 636h0M1855.3 635.7h0M1825.6 639.2h0M1833.6 656.4h0M1848.4 656.5h0M1842.1 639.4h0M1822.8 653.2h0M1831.3 645.8h0M1846 642.8h0M1833.3 657.3h0M1859.5 604.7h0M1814.6 656.6h0M1873.8 632.1h0M1827.7 622.9h0M1841.1 658.5h0M1845.9 659h0M1834.6 667.3h0M1863.4 612.6h0M1824 659.8h0M1872 621.2h0M1825.7 648.8h0M1837 632.7h0M1803.5 655.4h0M1827.9 614.2h0M1871 612.7h0M1841.8 613h0M1858.8 610.9h0M1854.7 654.4h0M1847.1 652.4h0M1810.5 661.9h0M1837 638.1h0M1861.9 654h0M1850 646.5h0M1819.7 624h0M1828.5 652.5h0M1816.8 643.3h0M1835 628.1h0M1839.6 653.8h0M1848.3 640.8h0M1811.1 660.3h0M1844.3 628.5h0M1815.4 661.9h0M1826 624.5h0M1850.7 615.4h0M1849.7 637.4h0M1854.8 647.8h0M1834 653.1h0M1837.4 662.9h0M1826.5 667.2h0M1857.1 617h0M1847.7 661.1h0M1837 619.9h0M1848.5 660.4h0M1856 618.1h0" stroke="#000" stroke-width="6.6" stroke-linecap="round" fill="none"/>
<polygon points="1553.3,856.3 1569.8,844.5 1586.3,832.8 1602.9,821 1619.4,809.3 1635.9,797.5 1652.5,785.8 1669,774 1685.5,762.2 1702.1,750.5 1718.6,738.6 1735.1,726.8 1751.7,714.9 1768.2,702.9 1784.8,690.8 1801.3,678.5 1817.8,666 1834.4,653.3 1850.9,640.6 1867.4,627.8 1884,615 1900.5,602.2 1917,589.4 1933.6,576.6 1950.1,563.7 1950.1,575 1933.6,586.7 1917,598.5 1900.5,610.3 1884,622.1 1867.4,633.9 1850.9,645.7 1834.4,657.5 1817.8,669.5 1801.3,681.6 1784.8,693.9 1768.2,706.3 1751.7,718.9 1735.1,731.6 1718.6,744.4 1702.1,757.2 1685.5,770 1669,782.8 1652.5,795.7 1635.9,808.5 1619.4,821.3 1602.9,834.2 1586.3,847 1569.8,859.9 1553.3,872.7" fill="#999" fill-opacity="0.4"/>
<line x1="1553.3" y1="864.5" x2="1950.1" y2="569.4" stroke="#2f63f7" stroke-width="2.4" stroke-linecap="butt"/>
<rect x="1533.7" y="498.6" width="436.3" height="393.1" fill="none" stroke="#868686" stroke-width="1.7"/>
<path d="M1639.8 891.7v3.6M1776.5 891.7v3.6M1913 891.7v3.6M1533.7 863h-3.6M1533.7 786.5h-3.6M1533.7 710.2h-3.6M1533.7 633.9h-3.6M1533.7 557.7h-3.6" stroke="#3a3a3a" stroke-width="1.9" fill="none"/>
<text class="s" x="1639.8" y="907.7" font-size="11.7" text-anchor="middle" fill="#555" stroke="#555" stroke-width="0.12">2</text>
<text class="s" x="1776.5" y="907.7" font-size="11.7" text-anchor="middle" fill="#555" stroke="#555" stroke-width="0.12">4</text>
<text class="s" x="1913" y="907.7" font-size="11.7" text-anchor="middle" fill="#555" stroke="#555" stroke-width="0.12">6</text>
<text class="s" x="1527.1" y="867.2" font-size="11.7" text-anchor="end" fill="#555" stroke="#555" stroke-width="0.12">0</text>
<text class="s" x="1527.1" y="790.7" font-size="11.7" text-anchor="end" fill="#555" stroke="#555" stroke-width="0.12">1</text>
<text class="s" x="1527.1" y="714.4" font-size="11.7" text-anchor="end" fill="#555" stroke="#555" stroke-width="0.12">2</text>
<text class="s" x="1527.1" y="638.1" font-size="11.7" text-anchor="end" fill="#555" stroke="#555" stroke-width="0.12">3</text>
<text class="s" x="1527.1" y="561.9" font-size="11.7" text-anchor="end" fill="#555" stroke="#555" stroke-width="0.12">4</text>
<text class="s" x="1751.8" y="924.7" font-size="14.6" text-anchor="middle" stroke="#000" stroke-width="0.42">F2R expression</text>
<text class="s" x="1512.2" y="695.2" font-size="14.6" text-anchor="middle" stroke="#000" stroke-width="0.42" transform="rotate(-90 1512.2 695.2)">ZEB1 expression</text>
<text class="s" x="1553.3" y="532.3" font-size="14.5" stroke="#000" stroke-width="0.42"><tspan font-style="italic">R</tspan> = 0.83, <tspan font-style="italic">p</tspan> &lt; 2.2e−16</text></g>
<g id="b"><rect x="97.6" y="1000.6" width="573.2" height="365.8" fill="#000" fill-opacity="0.78" filter="url(#sh)"/>
<rect x="98.6" y="1001.6" width="571.2" height="363.8" fill="#fff"/>
<circle cx="273.8" cy="1181.3" r="167.2" fill="#8080ff"/>
<circle cx="492.6" cy="1181.3" r="167.2" fill="#ffff80"/>
<g clip-path="url(#vc)"><circle cx="492.6" cy="1181.3" r="167.2" fill="#bfbf80"/></g>
<circle cx="273.8" cy="1181.3" r="167.2" fill="none" stroke="#000" stroke-width="1.8"/>
<circle cx="492.6" cy="1181.3" r="167.2" fill="none" stroke="#000" stroke-width="1.8"/>
<text class="r" x="266.3" y="1006.5" font-size="25.4" text-anchor="middle" stroke="#000" stroke-width="0.25">F2R-Related Genes</text>
<text class="r" x="498.3" y="1006.5" font-size="25.4" text-anchor="middle" stroke="#000" stroke-width="0.25">DEGs</text>
<text class="r" x="237.2" y="1188.6" font-size="21.8" text-anchor="middle" fill="#111" stroke="#111" stroke-width="0.55">59</text>
<text class="r" x="383.3" y="1188.6" font-size="21.8" text-anchor="middle" fill="#111" stroke="#111" stroke-width="0.55">76</text>
<text class="r" x="528.8" y="1188.6" font-size="21.8" text-anchor="middle" fill="#111" stroke="#111" stroke-width="0.55">1331</text></g>
<g id="d"><path d="M263.9 1406.7V1903.2M348.6 1406.7V1903.2M433.2 1406.7V1903.2M518 1406.7V1903.2M602.6 1406.7V1903.2" stroke="#f4f4f4" stroke-width="0.8" fill="none"/>
<path d="M306.2 1406.7V1903.2M390.9 1406.7V1903.2M475.6 1406.7V1903.2M560.3 1406.7V1903.2M645 1406.7V1903.2" stroke="#ebebeb" stroke-width="1.3" fill="none"/>
<path d="M221 1422.4H670.9M221 1448.3H670.9M221 1474.2H670.9M221 1500.1H670.9M221 1525.9H670.9M221 1551.8H670.9M221 1577.7H670.9M221 1603.6H670.9M221 1629.5H670.9M221 1655.3H670.9M221 1681.2H670.9M221 1707.1H670.9M221 1733H670.9M221 1758.9H670.9M221 1784.8H670.9M221 1810.7H670.9M221 1836.5H670.9M221 1862.4H670.9M221 1888.3H670.9" stroke="#ebebeb" stroke-width="1.3" fill="none"/>
<circle cx="650.6" cy="1422.4" r="10.2" fill="#ff0000"/>
<text class="s" x="214.6" y="1427.1" font-size="13.4" text-anchor="end" stroke="#000" stroke-width="0.42">ECM−receptor interaction</text>
<circle cx="650.6" cy="1448.3" r="10.2" fill="#f0003c"/>
<text class="s" x="214.6" y="1453" font-size="13.4" text-anchor="end" stroke="#000" stroke-width="0.42">PI3K−Akt signaling pathway</text>
<circle cx="513.8" cy="1474.2" r="9.1" fill="#f80024"/>
<text class="s" x="214.6" y="1478.9" font-size="13.4" text-anchor="end" stroke="#000" stroke-width="0.42">Axon guidance</text>
<circle cx="513.8" cy="1500.1" r="9.1" fill="#f70027"/>
<text class="s" x="214.6" y="1504.8" font-size="13.4" text-anchor="end" stroke="#000" stroke-width="0.42">Focal adhesion</text>
<circle cx="513.8" cy="1525.9" r="9.1" fill="#a200bb"/>
<text class="s" x="214.6" y="1530.6" font-size="13.4" text-anchor="end" stroke="#000" stroke-width="0.42">Human papillomavirus infection</text>
<circle cx="377.4" cy="1551.8" r="8.0" fill="#f50030"/>
<text class="s" x="214.6" y="1549.4" font-size="13.4" text-anchor="end" stroke="#000" stroke-width="0.42">Protein digestion and</text>
<text class="s" x="214.6" y="1563.6" font-size="13.4" text-anchor="end" stroke="#000" stroke-width="0.42">absorption</text>
<circle cx="377.4" cy="1577.7" r="8.0" fill="#f50030"/>
<text class="s" x="214.6" y="1582.4" font-size="13.4" text-anchor="end" stroke="#000" stroke-width="0.42">TGF−beta signaling pathway</text>
<circle cx="377.4" cy="1603.6" r="8.0" fill="#f40032"/>
<text class="s" x="214.6" y="1601.2" font-size="13.4" text-anchor="end" stroke="#000" stroke-width="0.42">Leukocyte transendothelial</text>
<text class="s" x="214.6" y="1615.4" font-size="13.4" text-anchor="end" stroke="#000" stroke-width="0.42">migration</text>
<circle cx="377.4" cy="1629.5" r="8.0" fill="#d70072"/>
<text class="s" x="214.6" y="1634.2" font-size="13.4" text-anchor="end" stroke="#000" stroke-width="0.42">Cell adhesion molecules</text>
<circle cx="240.7" cy="1655.3" r="4.7" fill="#eb0049"/>
<text class="s" x="214.6" y="1660" font-size="13.4" text-anchor="end" stroke="#000" stroke-width="0.42">ABC transporters</text>
<circle cx="240.7" cy="1681.2" r="4.7" fill="#ea004b"/>
<text class="s" x="214.6" y="1685.9" font-size="13.4" text-anchor="end" stroke="#000" stroke-width="0.42">Malaria</text>
<circle cx="240.7" cy="1707.1" r="4.7" fill="#c20094"/>
<text class="s" x="214.6" y="1711.8" font-size="13.4" text-anchor="end" stroke="#000" stroke-width="0.42">Viral myocarditis</text>
<circle cx="240.7" cy="1733" r="4.7" fill="#bd009b"/>
<text class="s" x="214.6" y="1730.6" font-size="13.4" text-anchor="end" stroke="#000" stroke-width="0.42">Epithelial cell signaling in</text>
<text class="s" x="214.6" y="1744.8" font-size="13.4" text-anchor="end" stroke="#000" stroke-width="0.42">Helicobacter pylori infection</text>
<circle cx="240.7" cy="1758.9" r="4.7" fill="#8d00ce"/>
<text class="s" x="214.6" y="1756.5" font-size="13.4" text-anchor="end" stroke="#000" stroke-width="0.42">Arrhythmogenic right</text>
<text class="s" x="214.6" y="1770.7" font-size="13.4" text-anchor="end" stroke="#000" stroke-width="0.42">ventricular cardiomyopathy</text>
<circle cx="240.7" cy="1784.8" r="4.7" fill="#8700d3"/>
<text class="s" x="214.6" y="1782.4" font-size="13.4" text-anchor="end" stroke="#000" stroke-width="0.42">Complement and coagulation</text>
<text class="s" x="214.6" y="1796.6" font-size="13.4" text-anchor="end" stroke="#000" stroke-width="0.42">cascades</text>
<circle cx="240.7" cy="1810.7" r="4.7" fill="#5800ee"/>
<text class="s" x="214.6" y="1815.4" font-size="13.4" text-anchor="end" stroke="#000" stroke-width="0.42">Adherens junction</text>
<circle cx="240.7" cy="1836.5" r="4.7" fill="#5200f0"/>
<text class="s" x="214.6" y="1841.2" font-size="13.4" text-anchor="end" stroke="#000" stroke-width="0.42">Rheumatoid arthritis</text>
<circle cx="240.7" cy="1862.4" r="4.7" fill="#2000fd"/>
<text class="s" x="214.6" y="1867.1" font-size="13.4" text-anchor="end" stroke="#000" stroke-width="0.42">Prostate cancer</text>
<circle cx="240.7" cy="1888.3" r="4.7" fill="#0000ff"/>
<text class="s" x="214.6" y="1893" font-size="13.4" text-anchor="end" stroke="#000" stroke-width="0.42">Hypertrophic cardiomyopathy</text>
<rect x="221" y="1406.7" width="449.9" height="496.5" fill="none" stroke="#858585" stroke-width="1.4"/>
<path d="M221.6 1903.2v3.4M306.2 1903.2v3.4M390.9 1903.2v3.4M475.6 1903.2v3.4M560.3 1903.2v3.4M645 1903.2v3.4M221 1422.4h-3.4M221 1448.3h-3.4M221 1474.2h-3.4M221 1500.1h-3.4M221 1525.9h-3.4M221 1551.8h-3.4M221 1577.7h-3.4M221 1603.6h-3.4M221 1629.5h-3.4M221 1655.3h-3.4M221 1681.2h-3.4M221 1707.1h-3.4M221 1733h-3.4M221 1758.9h-3.4M221 1784.8h-3.4M221 1810.7h-3.4M221 1836.5h-3.4M221 1862.4h-3.4M221 1888.3h-3.4" stroke="#333" stroke-width="1.5" fill="none"/>
<text class="s" x="221.6" y="1918.5" font-size="13.2" text-anchor="middle" stroke="#000" stroke-width="0.42">0.06</text>
<text class="s" x="306.2" y="1918.5" font-size="13.2" text-anchor="middle" stroke="#000" stroke-width="0.42">0.08</text>
<text class="s" x="390.9" y="1918.5" font-size="13.2" text-anchor="middle" stroke="#000" stroke-width="0.42">0.10</text>
<text class="s" x="475.6" y="1918.5" font-size="13.2" text-anchor="middle" stroke="#000" stroke-width="0.42">0.12</text>
<text class="s" x="560.3" y="1918.5" font-size="13.2" text-anchor="middle" stroke="#000" stroke-width="0.42">0.14</text>
<text class="s" x="645" y="1918.5" font-size="13.2" text-anchor="middle" stroke="#000" stroke-width="0.42">0.16</text>
<text class="s" x="445.6" y="1934.6" font-size="13.3" text-anchor="middle" stroke="#000" stroke-width="0.42">GeneRatio</text>
<text class="s" x="688.8" y="1543.8" font-size="12.3" stroke="#000" stroke-width="0.42">Count</text>
<circle cx="701.8" cy="1561" r="4.4" fill="#000"/>
<text class="s" x="720.2" y="1564.4" font-size="9.6" fill="#222" stroke="#222" stroke-width="0.3">2</text>
<circle cx="701.8" cy="1580.2" r="7.5" fill="#000"/>
<text class="s" x="720.2" y="1583.6" font-size="9.6" fill="#222" stroke="#222" stroke-width="0.3">3</text>
<circle cx="701.8" cy="1601" r="9.3" fill="#000"/>
<text class="s" x="720.2" y="1604.4" font-size="9.6" fill="#222" stroke="#222" stroke-width="0.3">4</text>
<circle cx="701.8" cy="1625" r="10.5" fill="#000"/>
<text class="s" x="720.2" y="1628.4" font-size="9.6" fill="#222" stroke="#222" stroke-width="0.3">5</text>
<text class="s" x="688.8" y="1672.4" font-size="12.3" stroke="#000" stroke-width="0.42">pvalue</text>
<rect x="688.9" y="1680" width="19.6" height="96" fill="url(#gk)"/>
<path d="M688.9 1694.3h4M708.5 1694.3h-4" stroke="#fff" stroke-opacity="0.7" stroke-width="0.8"/>
<text class="s" x="714.2" y="1697.7" font-size="9.6" fill="#222" stroke="#222" stroke-width="0.3">0.04</text>
<path d="M688.9 1714.7h4M708.5 1714.7h-4" stroke="#fff" stroke-opacity="0.7" stroke-width="0.8"/>
<text class="s" x="714.2" y="1718.1" font-size="9.6" fill="#222" stroke="#222" stroke-width="0.3">0.03</text>
<path d="M688.9 1735.6h4M708.5 1735.6h-4" stroke="#fff" stroke-opacity="0.7" stroke-width="0.8"/>
<text class="s" x="714.2" y="1739" font-size="9.6" fill="#222" stroke="#222" stroke-width="0.3">0.02</text>
<path d="M688.9 1756.0h4M708.5 1756.0h-4" stroke="#fff" stroke-opacity="0.7" stroke-width="0.8"/>
<text class="s" x="714.2" y="1759.4" font-size="9.6" fill="#222" stroke="#222" stroke-width="0.3">0.01</text></g>
<g id="c"><path d="M1259.1 1028.4V1470.5M1452.7 1028.4V1470.5M1646.3 1028.4V1470.5M1839.9 1028.4V1470.5" stroke="#f1f1f1" stroke-width="1.0" fill="none"/>
<path d="M1355.9 1028.4V1470.5M1549.5 1028.4V1470.5M1743.1 1028.4V1470.5" stroke="#e6e6e6" stroke-width="1.6" fill="none"/>
<path d="M1187.4 1053.7H1846.6M1187.4 1097.2H1846.6M1187.4 1140.8H1846.6M1187.4 1184.3H1846.6M1187.4 1227.9H1846.6M1187.4 1271.5H1846.6M1187.4 1315H1846.6M1187.4 1358.6H1846.6M1187.4 1402.1H1846.6M1187.4 1445.7H1846.6" stroke="#e6e6e6" stroke-width="1.6" fill="none"/>
<circle cx="1527.1" cy="1053.7" r="13.1" fill="#ff0000"/>
<circle cx="1527.1" cy="1097.2" r="13.1" fill="#ff0000"/>
<circle cx="1527.1" cy="1140.8" r="13.1" fill="#ff0000"/>
<circle cx="1442.9" cy="1184.3" r="12.1" fill="#ff0000"/>
<circle cx="1442.9" cy="1227.9" r="12.1" fill="#fc0012"/>
<circle cx="1386.7" cy="1271.5" r="11.0" fill="#fd000d"/>
<circle cx="1386.7" cy="1315" r="11.0" fill="#fe0006"/>
<circle cx="1358.7" cy="1358.6" r="10.7" fill="#ff0000"/>
<circle cx="1274.5" cy="1402.1" r="9.3" fill="#fe000a"/>
<circle cx="1274.5" cy="1445.7" r="9.3" fill="#fe000a"/>
<rect x="1846.6" y="1028.4" width="28.7" height="442.1" fill="#d9d9d9" stroke="#6a6a6a" stroke-width="1.2"/>
<rect x="1187.4" y="1028.4" width="659.2" height="442.1" fill="none" stroke="#6a6a6a" stroke-width="1.5"/>
<line x1="1846.6" y1="1028.4" x2="1846.6" y2="1470.5" stroke="#3a3a3a" stroke-width="1.6"/>
<text class="s" x="1855.6" y="1250" font-size="15" text-anchor="middle" fill="#1a1a1a" stroke="#1a1a1a" stroke-width="0.42" transform="rotate(90 1855.6 1250)">BP</text>
<path d="M1187.4 1053.7h-4M1187.4 1097.2h-4M1187.4 1140.8h-4M1187.4 1184.3h-4M1187.4 1227.9h-4M1187.4 1271.5h-4M1187.4 1315h-4M1187.4 1358.6h-4M1187.4 1402.1h-4M1187.4 1445.7h-4" stroke="#333" stroke-width="1.8" fill="none"/>
<path d="M1259.1 1481V1923.5M1452.7 1481V1923.5M1646.3 1481V1923.5M1839.9 1481V1923.5" stroke="#f1f1f1" stroke-width="1.0" fill="none"/>
<path d="M1355.9 1481V1923.5M1549.5 1481V1923.5M1743.1 1481V1923.5" stroke="#e6e6e6" stroke-width="1.6" fill="none"/>
<path d="M1187.4 1506.6H1846.6M1187.4 1550.1H1846.6M1187.4 1593.6H1846.6M1187.4 1637.1H1846.6M1187.4 1680.6H1846.6M1187.4 1724.1H1846.6M1187.4 1767.6H1846.6M1187.4 1811.1H1846.6M1187.4 1854.6H1846.6M1187.4 1898.1H1846.6" stroke="#e6e6e6" stroke-width="1.6" fill="none"/>
<circle cx="1816.7" cy="1506.6" r="15.8" fill="#ff0000"/>
<circle cx="1407.8" cy="1550.1" r="11.6" fill="#ff0000"/>
<circle cx="1380.4" cy="1593.6" r="11.4" fill="#fe0006"/>
<circle cx="1353.4" cy="1637.1" r="10.9" fill="#ff0000"/>
<circle cx="1326.1" cy="1680.6" r="10.5" fill="#de0064"/>
<circle cx="1271.7" cy="1724.1" r="9.5" fill="#fd000d"/>
<circle cx="1271.7" cy="1767.6" r="9.5" fill="#e80050"/>
<circle cx="1244.4" cy="1811.1" r="8.8" fill="#ff0000"/>
<circle cx="1244.4" cy="1854.6" r="8.8" fill="#0000ff"/>
<circle cx="1217.0" cy="1898.1" r="6.8" fill="#e80050"/>
<rect x="1846.6" y="1481" width="28.7" height="442.5" fill="#d9d9d9" stroke="#6a6a6a" stroke-width="1.2"/>
<rect x="1187.4" y="1481" width="659.2" height="442.5" fill="none" stroke="#6a6a6a" stroke-width="1.5"/>
<line x1="1846.6" y1="1481" x2="1846.6" y2="1923.5" stroke="#3a3a3a" stroke-width="1.6"/>
<text class="s" x="1855.6" y="1702" font-size="15" text-anchor="middle" fill="#1a1a1a" stroke="#1a1a1a" stroke-width="0.42" transform="rotate(90 1855.6 1702)">CC</text>
<path d="M1187.4 1506.6h-4M1187.4 1550.1h-4M1187.4 1593.6h-4M1187.4 1637.1h-4M1187.4 1680.6h-4M1187.4 1724.1h-4M1187.4 1767.6h-4M1187.4 1811.1h-4M1187.4 1854.6h-4M1187.4 1898.1h-4" stroke="#333" stroke-width="1.8" fill="none"/>
<path d="M1259.1 1934V2375.7M1452.7 1934V2375.7M1646.3 1934V2375.7M1839.9 1934V2375.7" stroke="#f1f1f1" stroke-width="1.0" fill="none"/>
<path d="M1355.9 1934V2375.7M1549.5 1934V2375.7M1743.1 1934V2375.7" stroke="#e6e6e6" stroke-width="1.6" fill="none"/>
<path d="M1187.4 1959.8H1846.6M1187.4 2003.2H1846.6M1187.4 2046.7H1846.6M1187.4 2090.2H1846.6M1187.4 2133.6H1846.6M1187.4 2177.1H1846.6M1187.4 2220.5H1846.6M1187.4 2263.9H1846.6M1187.4 2307.4H1846.6M1187.4 2350.8H1846.6" stroke="#e6e6e6" stroke-width="1.6" fill="none"/>
<circle cx="1682.1" cy="1959.8" r="14.6" fill="#ff0000"/>
<circle cx="1509.2" cy="2003.2" r="12.8" fill="#ff0000"/>
<circle cx="1480.4" cy="2046.7" r="12.3" fill="#ff0000"/>
<circle cx="1480.4" cy="2090.2" r="12.3" fill="#ff0000"/>
<circle cx="1422.6" cy="2133.6" r="11.6" fill="#ff0000"/>
<circle cx="1335.9" cy="2177.1" r="10.5" fill="#ff0000"/>
<circle cx="1278.0" cy="2220.5" r="9.5" fill="#ff0000"/>
<circle cx="1248.9" cy="2263.9" r="8.6" fill="#f40032"/>
<circle cx="1248.9" cy="2307.4" r="8.6" fill="#f20037"/>
<circle cx="1248.9" cy="2350.8" r="8.6" fill="#dc0069"/>
<rect x="1846.6" y="1934" width="28.7" height="441.7" fill="#d9d9d9" stroke="#6a6a6a" stroke-width="1.2"/>
<rect x="1187.4" y="1934" width="659.2" height="441.7" fill="none" stroke="#6a6a6a" stroke-width="1.5"/>
<line x1="1846.6" y1="1934" x2="1846.6" y2="2375.7" stroke="#3a3a3a" stroke-width="1.6"/>
<text class="s" x="1855.6" y="2155.5" font-size="15" text-anchor="middle" fill="#1a1a1a" stroke="#1a1a1a" stroke-width="0.42" transform="rotate(90 1855.6 2155.5)">MF</text>
<path d="M1187.4 1959.8h-4M1187.4 2003.2h-4M1187.4 2046.7h-4M1187.4 2090.2h-4M1187.4 2133.6h-4M1187.4 2177.1h-4M1187.4 2220.5h-4M1187.4 2263.9h-4M1187.4 2307.4h-4M1187.4 2350.8h-4M1355.9 2375.7v4M1549.5 2375.7v4M1743.1 2375.7v4" stroke="#333" stroke-width="1.8" fill="none"/>
<text class="s" x="1178.8" y="1050.6" font-size="20" text-anchor="end" stroke="#000" stroke-width="0.42">extracellular matrix</text>
<text class="s" x="1178.8" y="1072.3" font-size="20" text-anchor="end" stroke="#000" stroke-width="0.42">organization</text>
<text class="s" x="1178.8" y="1094.1" font-size="20" text-anchor="end" stroke="#000" stroke-width="0.42">extracellular structure</text>
<text class="s" x="1178.8" y="1115.8" font-size="20" text-anchor="end" stroke="#000" stroke-width="0.42">organization</text>
<text class="s" x="1178.8" y="1137.7" font-size="20" text-anchor="end" stroke="#000" stroke-width="0.42">external encapsulating</text>
<text class="s" x="1178.8" y="1159.4" font-size="20" text-anchor="end" stroke="#000" stroke-width="0.42">structure organization</text>
<text class="s" x="1178.8" y="1192.1" font-size="20" text-anchor="end" stroke="#000" stroke-width="0.42">cell−substrate adhesion</text>
<text class="s" x="1178.8" y="1235.6" font-size="20" text-anchor="end" stroke="#000" stroke-width="0.42">ameboidal−type cell migration</text>
<text class="s" x="1178.8" y="1268.4" font-size="20" text-anchor="end" stroke="#000" stroke-width="0.42">response to transforming</text>
<text class="s" x="1178.8" y="1290.1" font-size="20" text-anchor="end" stroke="#000" stroke-width="0.42">growth factor beta</text>
<text class="s" x="1178.8" y="1322.8" font-size="20" text-anchor="end" stroke="#000" stroke-width="0.42">endothelial cell migration</text>
<text class="s" x="1178.8" y="1344.6" font-size="20" text-anchor="end" stroke="#000" stroke-width="0.42">negative regulation of</text>
<text class="s" x="1178.8" y="1366.3" font-size="20" text-anchor="end" stroke="#000" stroke-width="0.42">cellular response to growth</text>
<text class="s" x="1178.8" y="1388" font-size="20" text-anchor="end" stroke="#000" stroke-width="0.42">factor stimulus</text>
<text class="s" x="1178.8" y="1399" font-size="20" text-anchor="end" stroke="#000" stroke-width="0.42">axon extension involved in</text>
<text class="s" x="1178.8" y="1420.7" font-size="20" text-anchor="end" stroke="#000" stroke-width="0.42">axon guidance</text>
<text class="s" x="1178.8" y="1431.7" font-size="20" text-anchor="end" stroke="#000" stroke-width="0.42">neuron projection extension</text>
<text class="s" x="1178.8" y="1453.4" font-size="20" text-anchor="end" stroke="#000" stroke-width="0.42">involved in neuron</text>
<text class="s" x="1178.8" y="1475.1" font-size="20" text-anchor="end" stroke="#000" stroke-width="0.42">projection guidance</text>
<text class="s" x="1178.8" y="1503.5" font-size="20" text-anchor="end" stroke="#000" stroke-width="0.42">collagen−containing</text>
<text class="s" x="1178.8" y="1525.2" font-size="20" text-anchor="end" stroke="#000" stroke-width="0.42">extracellular matrix</text>
<text class="s" x="1178.8" y="1557.8" font-size="20" text-anchor="end" stroke="#000" stroke-width="0.42">cell−substrate junction</text>
<text class="s" x="1178.8" y="1601.3" font-size="20" text-anchor="end" stroke="#000" stroke-width="0.42">focal adhesion</text>
<text class="s" x="1178.8" y="1644.8" font-size="20" text-anchor="end" stroke="#000" stroke-width="0.42">basement membrane</text>
<text class="s" x="1178.8" y="1688.3" font-size="20" text-anchor="end" stroke="#000" stroke-width="0.42">endoplasmic reticulum lumen</text>
<text class="s" x="1178.8" y="1721" font-size="20" text-anchor="end" stroke="#000" stroke-width="0.42">protein complex involved in</text>
<text class="s" x="1178.8" y="1742.7" font-size="20" text-anchor="end" stroke="#000" stroke-width="0.42">cell adhesion</text>
<text class="s" x="1178.8" y="1775.3" font-size="20" text-anchor="end" stroke="#000" stroke-width="0.42">Golgi lumen</text>
<text class="s" x="1178.8" y="1818.8" font-size="20" text-anchor="end" stroke="#000" stroke-width="0.42">interstitial matrix</text>
<text class="s" x="1178.8" y="1862.3" font-size="20" text-anchor="end" stroke="#000" stroke-width="0.42">collagen trimer</text>
<text class="s" x="1178.8" y="1905.8" font-size="20" text-anchor="end" stroke="#000" stroke-width="0.42">microfibril</text>
<text class="s" x="1178.8" y="1956.7" font-size="20" text-anchor="end" stroke="#000" stroke-width="0.42">extracellular matrix</text>
<text class="s" x="1178.8" y="1978.4" font-size="20" text-anchor="end" stroke="#000" stroke-width="0.42">structural constituent</text>
<text class="s" x="1178.8" y="2011" font-size="20" text-anchor="end" stroke="#000" stroke-width="0.42">glycosaminoglycan binding</text>
<text class="s" x="1178.8" y="2054.4" font-size="20" text-anchor="end" stroke="#000" stroke-width="0.42">integrin binding</text>
<text class="s" x="1178.8" y="2097.9" font-size="20" text-anchor="end" stroke="#000" stroke-width="0.42">sulfur compound binding</text>
<text class="s" x="1178.8" y="2141.3" font-size="20" text-anchor="end" stroke="#000" stroke-width="0.42">heparin binding</text>
<text class="s" x="1178.8" y="2184.8" font-size="20" text-anchor="end" stroke="#000" stroke-width="0.42">collagen binding</text>
<text class="s" x="1178.8" y="2195.7" font-size="20" text-anchor="end" stroke="#000" stroke-width="0.42">extracellular matrix</text>
<text class="s" x="1178.8" y="2217.4" font-size="20" text-anchor="end" stroke="#000" stroke-width="0.42">structural constituent</text>
<text class="s" x="1178.8" y="2239.1" font-size="20" text-anchor="end" stroke="#000" stroke-width="0.42">conferring compression</text>
<text class="s" x="1178.8" y="2260.8" font-size="20" text-anchor="end" stroke="#000" stroke-width="0.42">resistance</text>
<text class="s" x="1178.8" y="2271.7" font-size="20" text-anchor="end" stroke="#000" stroke-width="0.42">proteoglycan binding</text>
<text class="s" x="1178.8" y="2293.5" font-size="20" text-anchor="end" stroke="#000" stroke-width="0.42">extracellular matrix</text>
<text class="s" x="1178.8" y="2315.2" font-size="20" text-anchor="end" stroke="#000" stroke-width="0.42">structural constituent</text>
<text class="s" x="1178.8" y="2336.9" font-size="20" text-anchor="end" stroke="#000" stroke-width="0.42">conferring tensile strength</text>
<text class="s" x="1178.8" y="2358.6" font-size="20" text-anchor="end" stroke="#000" stroke-width="0.42">extracellular matrix binding</text>
<text class="s" x="1355.9" y="2399.9" font-size="19.8" text-anchor="middle" stroke="#000" stroke-width="0.42">0.1</text>
<text class="s" x="1549.5" y="2399.9" font-size="19.8" text-anchor="middle" stroke="#000" stroke-width="0.42">0.2</text>
<text class="s" x="1743.1" y="2399.9" font-size="19.8" text-anchor="middle" stroke="#000" stroke-width="0.42">0.3</text>
<text class="s" x="1517" y="2423.8" font-size="20" text-anchor="middle" stroke="#000" stroke-width="0.42">GeneRatio</text>
<text class="s" x="1903.2" y="1537.9" font-size="18.2" stroke="#000" stroke-width="0.42">Count</text>
<circle cx="1920.9" cy="1563.4" r="10.2" fill="#000"/>
<text class="s" x="1947.6" y="1568.8" font-size="15" fill="#111" stroke="#111" stroke-width="0.42">5</text>
<circle cx="1920.9" cy="1592.2" r="12.3" fill="#000"/>
<text class="s" x="1947.6" y="1597.6" font-size="15" fill="#111" stroke="#111" stroke-width="0.42">10</text>
<circle cx="1920.9" cy="1623.0" r="13.7" fill="#000"/>
<text class="s" x="1947.6" y="1628.4" font-size="15" fill="#111" stroke="#111" stroke-width="0.42">15</text>
<circle cx="1920.9" cy="1656.7" r="15.1" fill="#000"/>
<text class="s" x="1947.6" y="1662.1" font-size="15" fill="#111" stroke="#111" stroke-width="0.42">20</text>
<text class="s" x="1903.2" y="1726.6" font-size="18.2" stroke="#000" stroke-width="0.42">qvalue</text>
<rect x="1903.2" y="1738" width="28.9" height="144.6" fill="url(#gq)"/>
<path d="M1903.2 1770.3h5.8M1932.1 1770.3h-5.8" stroke="#fff" stroke-opacity="0.6" stroke-width="1"/>
<text class="s" x="1940.6" y="1775.7" font-size="15" fill="#111" stroke="#111" stroke-width="0.42">0.03</text>
<path d="M1903.2 1807.9h5.8M1932.1 1807.9h-5.8" stroke="#fff" stroke-opacity="0.6" stroke-width="1"/>
<text class="s" x="1940.6" y="1813.3" font-size="15" fill="#111" stroke="#111" stroke-width="0.42">0.02</text>
<path d="M1903.2 1845.0h5.8M1932.1 1845.0h-5.8" stroke="#fff" stroke-opacity="0.6" stroke-width="1"/>
<text class="s" x="1940.6" y="1850.4" font-size="15" fill="#111" stroke="#111" stroke-width="0.42">0.01</text></g>
<g id="e"><path d="M133.4 1974.5V2213M191.3 1974.5V2213M249.2 1974.5V2213M307 1974.5V2213M364.9 1974.5V2213M422.7 1974.5V2213M480.5 1974.5V2213M538.4 1974.5V2213M596.2 1974.5V2213M654.1 1974.5V2213M712 1974.5V2213" stroke="#ededed" stroke-width="1.1" fill="none"/>
<path d="M133.4 2299.4V2459M191.3 2299.4V2459M249.2 2299.4V2459M307 2299.4V2459M364.9 2299.4V2459M422.7 2299.4V2459M480.5 2299.4V2459M538.4 2299.4V2459M596.2 2299.4V2459M654.1 2299.4V2459M712 2299.4V2459" stroke="#ededed" stroke-width="1.1" fill="none"/>
<polygon points="75.5,2379.5 76,2334.4 76.7,2342.6 78.3,2352 80.7,2361.3 84.2,2366 93.5,2370.2 105.2,2372.5 121.6,2374.4 140.3,2375.8 163.6,2376.7 191.7,2377.7 233.8,2378.4 303.9,2379 400,2379.3 490.9,2379.5 731.3,2379.5" fill="#b4b4b4"/>
<polygon points="490.9,2379.5 593.8,2379.7 652.3,2381.2 687.3,2384.7 710.7,2389.4 722.4,2396.4 728.2,2408.1 730.6,2422.1 731.3,2451.3 731.3,2379.5" fill="#b4b4b4"/>
<path d="M99.4 2216.8V2232.3M101 2216.8V2232.3M101.9 2216.8V2232.3M109.4 2216.8V2232.3M125.5 2216.8V2232.3M127.9 2216.8V2232.3M134 2216.8V2232.3M139.1 2216.8V2232.3M140.3 2216.8V2232.3M144.5 2216.8V2232.3M148.5 2216.8V2232.3M154.3 2216.8V2232.3M157.8 2216.8V2232.3M164.8 2216.8V2232.3M166 2216.8V2232.3M171.4 2216.8V2232.3M175.8 2216.8V2232.3M177 2216.8V2232.3M181.9 2216.8V2232.3M184.2 2216.8V2232.3M191.7 2216.8V2232.3M192.9 2216.8V2232.3M199.4 2216.8V2232.3M202.9 2216.8V2232.3M206.9 2216.8V2232.3M212.3 2216.8V2232.3M219.1 2216.8V2232.3M225.6 2216.8V2232.3M228.6 2216.8V2232.3M235 2216.8V2232.3M236.1 2216.8V2232.3M256 2216.8V2232.3M257.2 2216.8V2232.3M258.3 2216.8V2232.3M259.5 2216.8V2232.3M261.4 2216.8V2232.3M268.8 2216.8V2232.3M283.6 2216.8V2232.3M308.1 2216.8V2232.3M315.1 2216.8V2232.3M327.8 2216.8V2232.3M334.8 2216.8V2232.3M345.5 2216.8V2232.3M359.6 2216.8V2232.3M367 2216.8V2232.3M379.2 2216.8V2232.3M382.2 2216.8V2232.3M385.3 2216.8V2232.3M388.1 2216.8V2232.3M367 2216.8V2232.3M379.2 2216.8V2232.3M381.5 2216.8V2232.3M383.4 2216.8V2232.3M386.2 2216.8V2232.3M387.6 2216.8V2232.3M404.4 2216.8V2232.3M428.3 2216.8V2232.3M433.7 2216.8V2232.3M435.3 2216.8V2232.3M441.8 2216.8V2232.3M449.3 2216.8V2232.3M469.2 2216.8V2232.3M480 2216.8V2232.3M483.9 2216.8V2232.3M494.2 2216.8V2232.3M502.9 2216.8V2232.3M513.9 2216.8V2232.3M520.2 2216.8V2232.3M524.8 2216.8V2232.3M530.7 2216.8V2232.3M532.3 2216.8V2232.3M534.2 2216.8V2232.3M558.7 2216.8V2232.3M582.1 2216.8V2232.3M625.8 2216.8V2232.3M634.2 2216.8V2232.3M665.1 2216.8V2232.3M710.7 2216.8V2232.3" stroke="#a3a500" stroke-width="1.55" fill="none"/>
<path d="M168.8 2232.7V2248.5M187.5 2232.7V2248.5M224 2232.7V2248.5M271.2 2232.7V2248.5M465.2 2232.7V2248.5M475.3 2232.7V2248.5M476.2 2232.7V2248.5M533.5 2232.7V2248.5M551.7 2232.7V2248.5M558.7 2232.7V2248.5M573.9 2232.7V2248.5M582.1 2232.7V2248.5M604.8 2232.7V2248.5M610.6 2232.7V2248.5M644.5 2232.7V2248.5M662.1 2232.7V2248.5M673.8 2232.7V2248.5M675.6 2232.7V2248.5M683.3 2232.7V2248.5M690.8 2232.7V2248.5M712.3 2232.7V2248.5M716.5 2232.7V2248.5M717.7 2232.7V2248.5M724.7 2232.7V2248.5M728.7 2232.7V2248.5" stroke="#00bf7d" stroke-width="1.55" fill="none"/>
<path d="M174.9 2248.6V2264.3M245.5 2248.6V2264.3M249 2248.6V2264.3M254.4 2248.6V2264.3M268.4 2248.6V2264.3M270.7 2248.6V2264.3M275.4 2248.6V2264.3M277.7 2248.6V2264.3M286.4 2248.6V2264.3M292.9 2248.6V2264.3M309.8 2248.6V2264.3M310.9 2248.6V2264.3M317.9 2248.6V2264.3M319.1 2248.6V2264.3M335.5 2248.6V2264.3M339 2248.6V2264.3M342.5 2248.6V2264.3M347.9 2248.6V2264.3M350.7 2248.6V2264.3M353.7 2248.6V2264.3M375.9 2248.6V2264.3M381.1 2248.6V2264.3M385.7 2248.6V2264.3M387.6 2248.6V2264.3M390.9 2248.6V2264.3M394.6 2248.6V2264.3M398.1 2248.6V2264.3M375.9 2248.6V2264.3M381.1 2248.6V2264.3M385.7 2248.6V2264.3M386.9 2248.6V2264.3M390.4 2248.6V2264.3M393.9 2248.6V2264.3M398.6 2248.6V2264.3M399.8 2248.6V2264.3M400.9 2248.6V2264.3M405.6 2248.6V2264.3M406.8 2248.6V2264.3M407.9 2248.6V2264.3M412.6 2248.6V2264.3M413.8 2248.6V2264.3M417.3 2248.6V2264.3M428.3 2248.6V2264.3M432 2248.6V2264.3M438.3 2248.6V2264.3M439.5 2248.6V2264.3M450.7 2248.6V2264.3M458.2 2248.6V2264.3M466.9 2248.6V2264.3M472.2 2248.6V2264.3M473.4 2248.6V2264.3M474.6 2248.6V2264.3M475.7 2248.6V2264.3M480.4 2248.6V2264.3M487.4 2248.6V2264.3M503.3 2248.6V2264.3M510.8 2248.6V2264.3M526.5 2248.6V2264.3M534.2 2248.6V2264.3M535.4 2248.6V2264.3M538.9 2248.6V2264.3M549.4 2248.6V2264.3M561.1 2248.6V2264.3M573.9 2248.6V2264.3M575.1 2248.6V2264.3M576.3 2248.6V2264.3M579.1 2248.6V2264.3M587.3 2248.6V2264.3M597.3 2248.6V2264.3M598.9 2248.6V2264.3M605 2248.6V2264.3M606.7 2248.6V2264.3M608.3 2248.6V2264.3M611.3 2248.6V2264.3M616 2248.6V2264.3M618.4 2248.6V2264.3M620.7 2248.6V2264.3M623.7 2248.6V2264.3M630 2248.6V2264.3M631.2 2248.6V2264.3M636.4 2248.6V2264.3M641.7 2248.6V2264.3M643.4 2248.6V2264.3M645.2 2248.6V2264.3M647.1 2248.6V2264.3M648.7 2248.6V2264.3M650.6 2248.6V2264.3M655.1 2248.6V2264.3M660.4 2248.6V2264.3M661.6 2248.6V2264.3M668.1 2248.6V2264.3M678 2248.6V2264.3M688 2248.6V2264.3M693.6 2248.6V2264.3" stroke="#f8766d" stroke-width="1.55" fill="none"/>
<path d="M146.1 2264.8V2280.2M351.4 2264.8V2280.2M357 2264.8V2280.2M391.6 2264.8V2280.2M391.6 2264.8V2280.2M413.1 2264.8V2280.2M432 2264.8V2280.2M438.3 2264.8V2280.2M443 2264.8V2280.2M447.7 2264.8V2280.2M448.9 2264.8V2280.2M451.2 2264.8V2280.2M453.5 2264.8V2280.2M455.9 2264.8V2280.2M457 2264.8V2280.2M466.9 2264.8V2280.2M478.6 2264.8V2280.2M485.1 2264.8V2280.2M492.1 2264.8V2280.2M493.3 2264.8V2280.2M504.5 2264.8V2280.2M534.2 2264.8V2280.2M537.7 2264.8V2280.2M600.8 2264.8V2280.2M604.3 2264.8V2280.2M610.6 2264.8V2280.2M617.9 2264.8V2280.2M634.7 2264.8V2280.2M705.6 2264.8V2280.2M720 2264.8V2280.2M513.2 2264.8V2280.2M514.7 2264.8V2280.2M516.4 2264.8V2280.2M518.1 2264.8V2280.2M520 2264.8V2280.2M521.7 2264.8V2280.2M523.5 2264.8V2280.2M524.4 2264.8V2280.2M525.8 2264.8V2280.2M527.7 2264.8V2280.2M543.5 2264.8V2280.2M545.4 2264.8V2280.2M546.4 2264.8V2280.2M547.7 2264.8V2280.2M548.8 2264.8V2280.2M550.3 2264.8V2280.2M551.8 2264.8V2280.2M552.6 2264.8V2280.2M553.7 2264.8V2280.2M554.9 2264.8V2280.2M556.8 2264.8V2280.2M558.5 2264.8V2280.2M565.8 2264.8V2280.2M567.5 2264.8V2280.2M568.5 2264.8V2280.2M570 2264.8V2280.2M571 2264.8V2280.2M571.8 2264.8V2280.2M573.7 2264.8V2280.2M574.7 2264.8V2280.2M575.8 2264.8V2280.2M577.8 2264.8V2280.2M584.5 2264.8V2280.2M585.6 2264.8V2280.2M587.5 2264.8V2280.2M589 2264.8V2280.2M590.6 2264.8V2280.2M591.7 2264.8V2280.2M593.6 2264.8V2280.2" stroke="#e76bf3" stroke-width="1.55" fill="none"/>
<path d="M182.3 2280.7V2296.3M196.4 2280.7V2296.3M256 2280.7V2296.3M308.1 2280.7V2296.3M322.2 2280.7V2296.3M333.1 2280.7V2296.3M341.3 2280.7V2296.3M344.4 2280.7V2296.3M352.5 2280.7V2296.3M358.9 2280.7V2296.3M368.7 2280.7V2296.3M360 2280.7V2296.3M368.7 2280.7V2296.3M400.9 2280.7V2296.3M402.6 2280.7V2296.3M409.1 2280.7V2296.3M411 2280.7V2296.3M417.3 2280.7V2296.3M424.3 2280.7V2296.3M439 2280.7V2296.3M444.2 2280.7V2296.3M447 2280.7V2296.3M468.3 2280.7V2296.3M472.2 2280.7V2296.3M476.9 2280.7V2296.3M486.3 2280.7V2296.3M487.9 2280.7V2296.3M500.8 2280.7V2296.3M514.3 2280.7V2296.3M517.8 2280.7V2296.3M523.7 2280.7V2296.3M525.3 2280.7V2296.3M542.4 2280.7V2296.3M545.9 2280.7V2296.3M566.9 2280.7V2296.3M571.6 2280.7V2296.3M575.1 2280.7V2296.3M578.6 2280.7V2296.3M593.8 2280.7V2296.3M619.1 2280.7V2296.3M660 2280.7V2296.3M679.1 2280.7V2296.3M680.8 2280.7V2296.3M702.5 2280.7V2296.3M429 2280.7V2296.3M430.8 2280.7V2296.3M432.4 2280.7V2296.3M433.5 2280.7V2296.3M434.7 2280.7V2296.3M451.2 2280.7V2296.3M452.1 2280.7V2296.3M453 2280.7V2296.3M454 2280.7V2296.3M455.4 2280.7V2296.3M456.2 2280.7V2296.3M457.7 2280.7V2296.3M505 2280.7V2296.3M506.1 2280.7V2296.3M507.7 2280.7V2296.3M508.9 2280.7V2296.3M531.9 2280.7V2296.3M533.1 2280.7V2296.3M534.6 2280.7V2296.3M535.4 2280.7V2296.3M537.2 2280.7V2296.3M549.4 2280.7V2296.3M550.9 2280.7V2296.3M552.6 2280.7V2296.3M553.4 2280.7V2296.3M554.9 2280.7V2296.3M556.1 2280.7V2296.3M557.5 2280.7V2296.3M558.2 2280.7V2296.3M559.1 2280.7V2296.3M560 2280.7V2296.3M561.8 2280.7V2296.3M562.7 2280.7V2296.3M582.1 2280.7V2296.3M583.8 2280.7V2296.3M585.6 2280.7V2296.3M586.7 2280.7V2296.3M587.8 2280.7V2296.3M589.2 2280.7V2296.3M598.5 2280.7V2296.3M599.4 2280.7V2296.3M600.9 2280.7V2296.3M602.5 2280.7V2296.3M604.2 2280.7V2296.3M605 2280.7V2296.3M606.7 2280.7V2296.3M607.6 2280.7V2296.3M608.7 2280.7V2296.3M610.1 2280.7V2296.3M611.8 2280.7V2296.3M612.9 2280.7V2296.3M614.7 2280.7V2296.3M623 2280.7V2296.3M624.1 2280.7V2296.3M625.2 2280.7V2296.3M626.2 2280.7V2296.3M627 2280.7V2296.3M627.9 2280.7V2296.3M629.4 2280.7V2296.3M631.2 2280.7V2296.3M632.2 2280.7V2296.3" stroke="#00b0f6" stroke-width="1.55" fill="none"/>
<line x1="481.6" y1="1978.5" x2="500.4" y2="1978.5" stroke="#f8766d" stroke-width="2.7"/>
<text class="s" x="508" y="1981.4" font-size="8" fill="#111" stroke="#111" stroke-width="0.2">KEGG_CELL_CYCLE</text>
<line x1="481.6" y1="2001.4" x2="500.4" y2="2001.4" stroke="#a3a500" stroke-width="2.7"/>
<text class="s" x="508" y="2004.3" font-size="8" fill="#111" stroke="#111" stroke-width="0.2">KEGG_ECM_RECEPTOR_INTERACTION</text>
<line x1="481.6" y1="2024.8" x2="500.4" y2="2024.8" stroke="#00bf7d" stroke-width="2.7"/>
<text class="s" x="508" y="2027.7" font-size="8" fill="#111" stroke="#111" stroke-width="0.2">KEGG_MATURITY_ONSET_DIABETES_OF_THE_YOUNG</text>
<line x1="481.6" y1="2047.7" x2="500.4" y2="2047.7" stroke="#00b0f6" stroke-width="2.7"/>
<text class="s" x="508" y="2050.6" font-size="8" fill="#111" stroke="#111" stroke-width="0.2">KEGG_OXIDATIVE_PHOSPHORYLATION</text>
<line x1="481.6" y1="2070.9" x2="500.4" y2="2070.9" stroke="#e76bf3" stroke-width="2.7"/>
<text class="s" x="508" y="2073.8" font-size="8" fill="#111" stroke="#111" stroke-width="0.2">KEGG_RIBOSOME</text>
<path d="M75.5 2078.1L174.9 2105L174.9 2103.1L245.5 2122.5L245.5 2120.2L254.8 2121.6L254.8 2118.8L268.4 2122.5L268.8 2120.7L277 2117.4L286.4 2118.8L292.9 2118.8L309.8 2123L319.1 2122.5L334.3 2127L354.2 2128.8L374.1 2134.2L400 2139.8L465.2 2155.7L476.9 2155.7L500.3 2161.6L512 2161.6L523.7 2164.6L542.4 2162.3L554.1 2165.1L570.4 2168.6L578.6 2162.3L593.8 2164.6L603.2 2162.7L612.5 2151.1L624.2 2141.7L628.9 2142.2L635.9 2130L642.9 2123L651.1 2111.3L659.3 2109L661.6 2097.3L668.6 2083.3L675.6 2080.9L687.3 2077.4L689.7 2071.6L694.3 2067.4L701.3 2069.2L730.6 2078.1" stroke="#f8766d" stroke-width="2.7" fill="none" stroke-linejoin="miter"/>
<path d="M75.5 2078.1L98.2 2084.2L99.6 2070.4L101.5 2057.5L107.5 2059.4L109.4 2053.3L125.1 2058L127.9 2050.1L130.9 2051L133.7 2045.9L137.9 2047.7L139.8 2036.5L142.6 2037.9L144.5 2030.7L147.7 2030L149.2 2027.1L153.1 2028.6L154.3 2025.3L157.8 2022.5L163.6 2024.8L166 2016.6L170.7 2017.8L172.3 2012L175.8 2013.1L177.7 2007.3L181.2 2006.1L184.7 2001L190.5 2003.3L192.6 1998.6L197.5 2000.3L200.6 1997.9L205.7 1996.3L210.4 1995.6L212.7 1994.9L217.4 1996.1L219.8 1993.2L225.6 1994L230.3 1990.2L233.8 1991.6L235.7 1985.1L256 1990.2L261.4 1985.1L268.8 1986.2L282.9 1989.3L306.3 1994.4L334.3 1999.6L400 2015L481.6 2036L530.7 2044.7L535.4 2043.5L580.9 2054.7L625.4 2065L626.5 2064.1L633.5 2065L634.7 2063.4L663.9 2071.6L665.1 2068.1L709.5 2080.5L710.7 2073.9L730.6 2078.1" stroke="#a3a500" stroke-width="2.7" fill="none" stroke-linejoin="miter"/>
<path d="M75.5 2078.1L168.8 2103.3L168.8 2101.5L187.5 2106.6L187.5 2099.6L224 2109.4L224 2106.2L271.2 2119.5L271.2 2117.2L360 2142.9L453.5 2168.6L465.2 2171.6L465.2 2170.2L475.7 2173.3L475.7 2170.9L533 2188L534.2 2186.6L551.7 2191.3L558.7 2189.6L572.8 2193.6L582.1 2191.3L603.2 2197.3L610.2 2194.3L644.1 2202.5L645.2 2198.3L661.6 2202.5L662.8 2197.3L673.3 2200.1L675.6 2188.5L682.6 2189.6L683.8 2182.6L689.7 2183.8L690.8 2175.6L711.9 2181L713 2167.4L716.5 2167.4L716.5 2151.1L718.9 2151.1L718.9 2135.9L724.3 2135.9L724.7 2111.3L728.2 2111.3L728.9 2078.1L730.6 2078.1" stroke="#00bf7d" stroke-width="2.7" fill="none" stroke-linejoin="miter"/>
<path d="M75.5 2078.1L182.3 2107L182.3 2104.3L196.4 2108L196.4 2106.2L256 2122.1L256 2120.4L308.1 2134.5L308.1 2133.3L360 2145.2L451.2 2167.4L453.5 2166.2L465.2 2169.8L476.9 2170.9L486.3 2172.6L488.6 2170.2L500.3 2174.4L512 2170.9L523.7 2170.9L530.7 2169.8L542.4 2165.1L551.7 2159.2L563.4 2153.4L570.4 2144L579.8 2140.5L589.1 2125.3L593.8 2118.3L600.8 2114.8L604.3 2104.3L610.2 2094.9L614.8 2091.4L621.9 2090.3L626.5 2083.3L631.2 2072L659.3 2078.6L660.4 2076.2L678 2082.1L681.5 2071.6L702.5 2077.4L702.5 2070.4L717.7 2073.9L730.6 2078.1" stroke="#00b0f6" stroke-width="2.7" fill="none" stroke-linejoin="miter"/>
<path d="M75.5 2078.1L146.1 2097.2L146.1 2091.4L360 2148.9L441.8 2170.9L476.9 2176.8L490.9 2178.6L512 2178.6L521.3 2168.6L528.3 2166.2L542.4 2163.2L554.1 2153.4L561.1 2145.2L570.4 2137L577.4 2123L584.5 2118.3L593.8 2104.3L596.1 2093.8L605.5 2086.8L612.5 2082.1L617.2 2080.9L633.5 2084.4L634.7 2080.9L704.9 2100.8L706 2089.8L720 2093.1L721.2 2075.1L730.6 2078.1" stroke="#e76bf3" stroke-width="2.7" fill="none" stroke-linejoin="miter"/>
<path d="M75.5 1974.5V2213M75.5 2216.4V2296.3M75.5 2299.4V2459.6M74.8 2459H731.2" stroke="#333" stroke-width="2.0" fill="none"/>
<path d="M75.5 1987.4h-3.6M75.5 2032.6h-3.6M75.5 2078.0h-3.6M75.5 2123.4h-3.6M75.5 2168.6h-3.6M75.5 2332.1h-3.6M75.5 2379.5h-3.6M75.5 2427.2h-3.6M191.3 2459v3.6M307.0 2459v3.6M422.7 2459v3.6M538.4 2459v3.6M654.1 2459v3.6" stroke="#444" stroke-width="1" fill="none"/>
<text class="s" x="69.6" y="1990.1" font-size="7.5" text-anchor="end" fill="#4d4d4d" stroke="#4d4d4d" stroke-width="0.2">0.50</text>
<text class="s" x="69.6" y="2035.3" font-size="7.5" text-anchor="end" fill="#4d4d4d" stroke="#4d4d4d" stroke-width="0.2">0.25</text>
<text class="s" x="69.6" y="2080.7" font-size="7.5" text-anchor="end" fill="#4d4d4d" stroke="#4d4d4d" stroke-width="0.2">0.00</text>
<text class="s" x="69.6" y="2126.1" font-size="7.5" text-anchor="end" fill="#4d4d4d" stroke="#4d4d4d" stroke-width="0.2">−0.25</text>
<text class="s" x="69.6" y="2171.3" font-size="7.5" text-anchor="end" fill="#4d4d4d" stroke="#4d4d4d" stroke-width="0.2">−0.50</text>
<text class="s" x="69.6" y="2334.8" font-size="7.5" text-anchor="end" fill="#4d4d4d" stroke="#4d4d4d" stroke-width="0.2">10</text>
<text class="s" x="69.6" y="2382.2" font-size="7.5" text-anchor="end" fill="#4d4d4d" stroke="#4d4d4d" stroke-width="0.2">0</text>
<text class="s" x="69.6" y="2429.9" font-size="7.5" text-anchor="end" fill="#4d4d4d" stroke="#4d4d4d" stroke-width="0.2">−10</text>
<text class="s" x="191.3" y="2470.8" font-size="7.5" text-anchor="middle" fill="#4d4d4d" stroke="#4d4d4d" stroke-width="0.2">10000</text>
<text class="s" x="307" y="2470.8" font-size="7.5" text-anchor="middle" fill="#4d4d4d" stroke="#4d4d4d" stroke-width="0.2">20000</text>
<text class="s" x="422.7" y="2470.8" font-size="7.5" text-anchor="middle" fill="#4d4d4d" stroke="#4d4d4d" stroke-width="0.2">30000</text>
<text class="s" x="538.4" y="2470.8" font-size="7.5" text-anchor="middle" fill="#4d4d4d" stroke="#4d4d4d" stroke-width="0.2">40000</text>
<text class="s" x="654.1" y="2470.8" font-size="7.5" text-anchor="middle" fill="#4d4d4d" stroke="#4d4d4d" stroke-width="0.2">50000</text>
<text class="s" x="403.5" y="2481.8" font-size="10.7" text-anchor="middle" stroke="#000" stroke-width="0.3">Rank in Ordered Dataset</text>
<text class="s" x="45.3" y="2094.1" font-size="10.7" text-anchor="middle" stroke="#000" stroke-width="0.3" transform="rotate(-90 45.3 2094.1)">Running Enrichment Score</text>
<text class="s" x="45.3" y="2379.4" font-size="10.7" text-anchor="middle" stroke="#000" stroke-width="0.3" transform="rotate(-90 45.3 2379.4)">Ranked List Metric</text></g>
<text class="r" x="5.6" y="24.7" font-size="28.7" stroke="#000" stroke-width="0.2">(a)</text>
<text class="r" x="5" y="983" font-size="28.7" stroke="#000" stroke-width="0.2">(b)</text>
<text class="r" x="929.6" y="983.3" font-size="28.7" stroke="#000" stroke-width="0.2">(c)</text>
<text class="r" x="5" y="1396.3" font-size="28.7" stroke="#000" stroke-width="0.2">(d)</text>
<text class="r" x="5.6" y="1972.9" font-size="28.7" stroke="#000" stroke-width="0.2">(e)</text>
</svg></body></html>
